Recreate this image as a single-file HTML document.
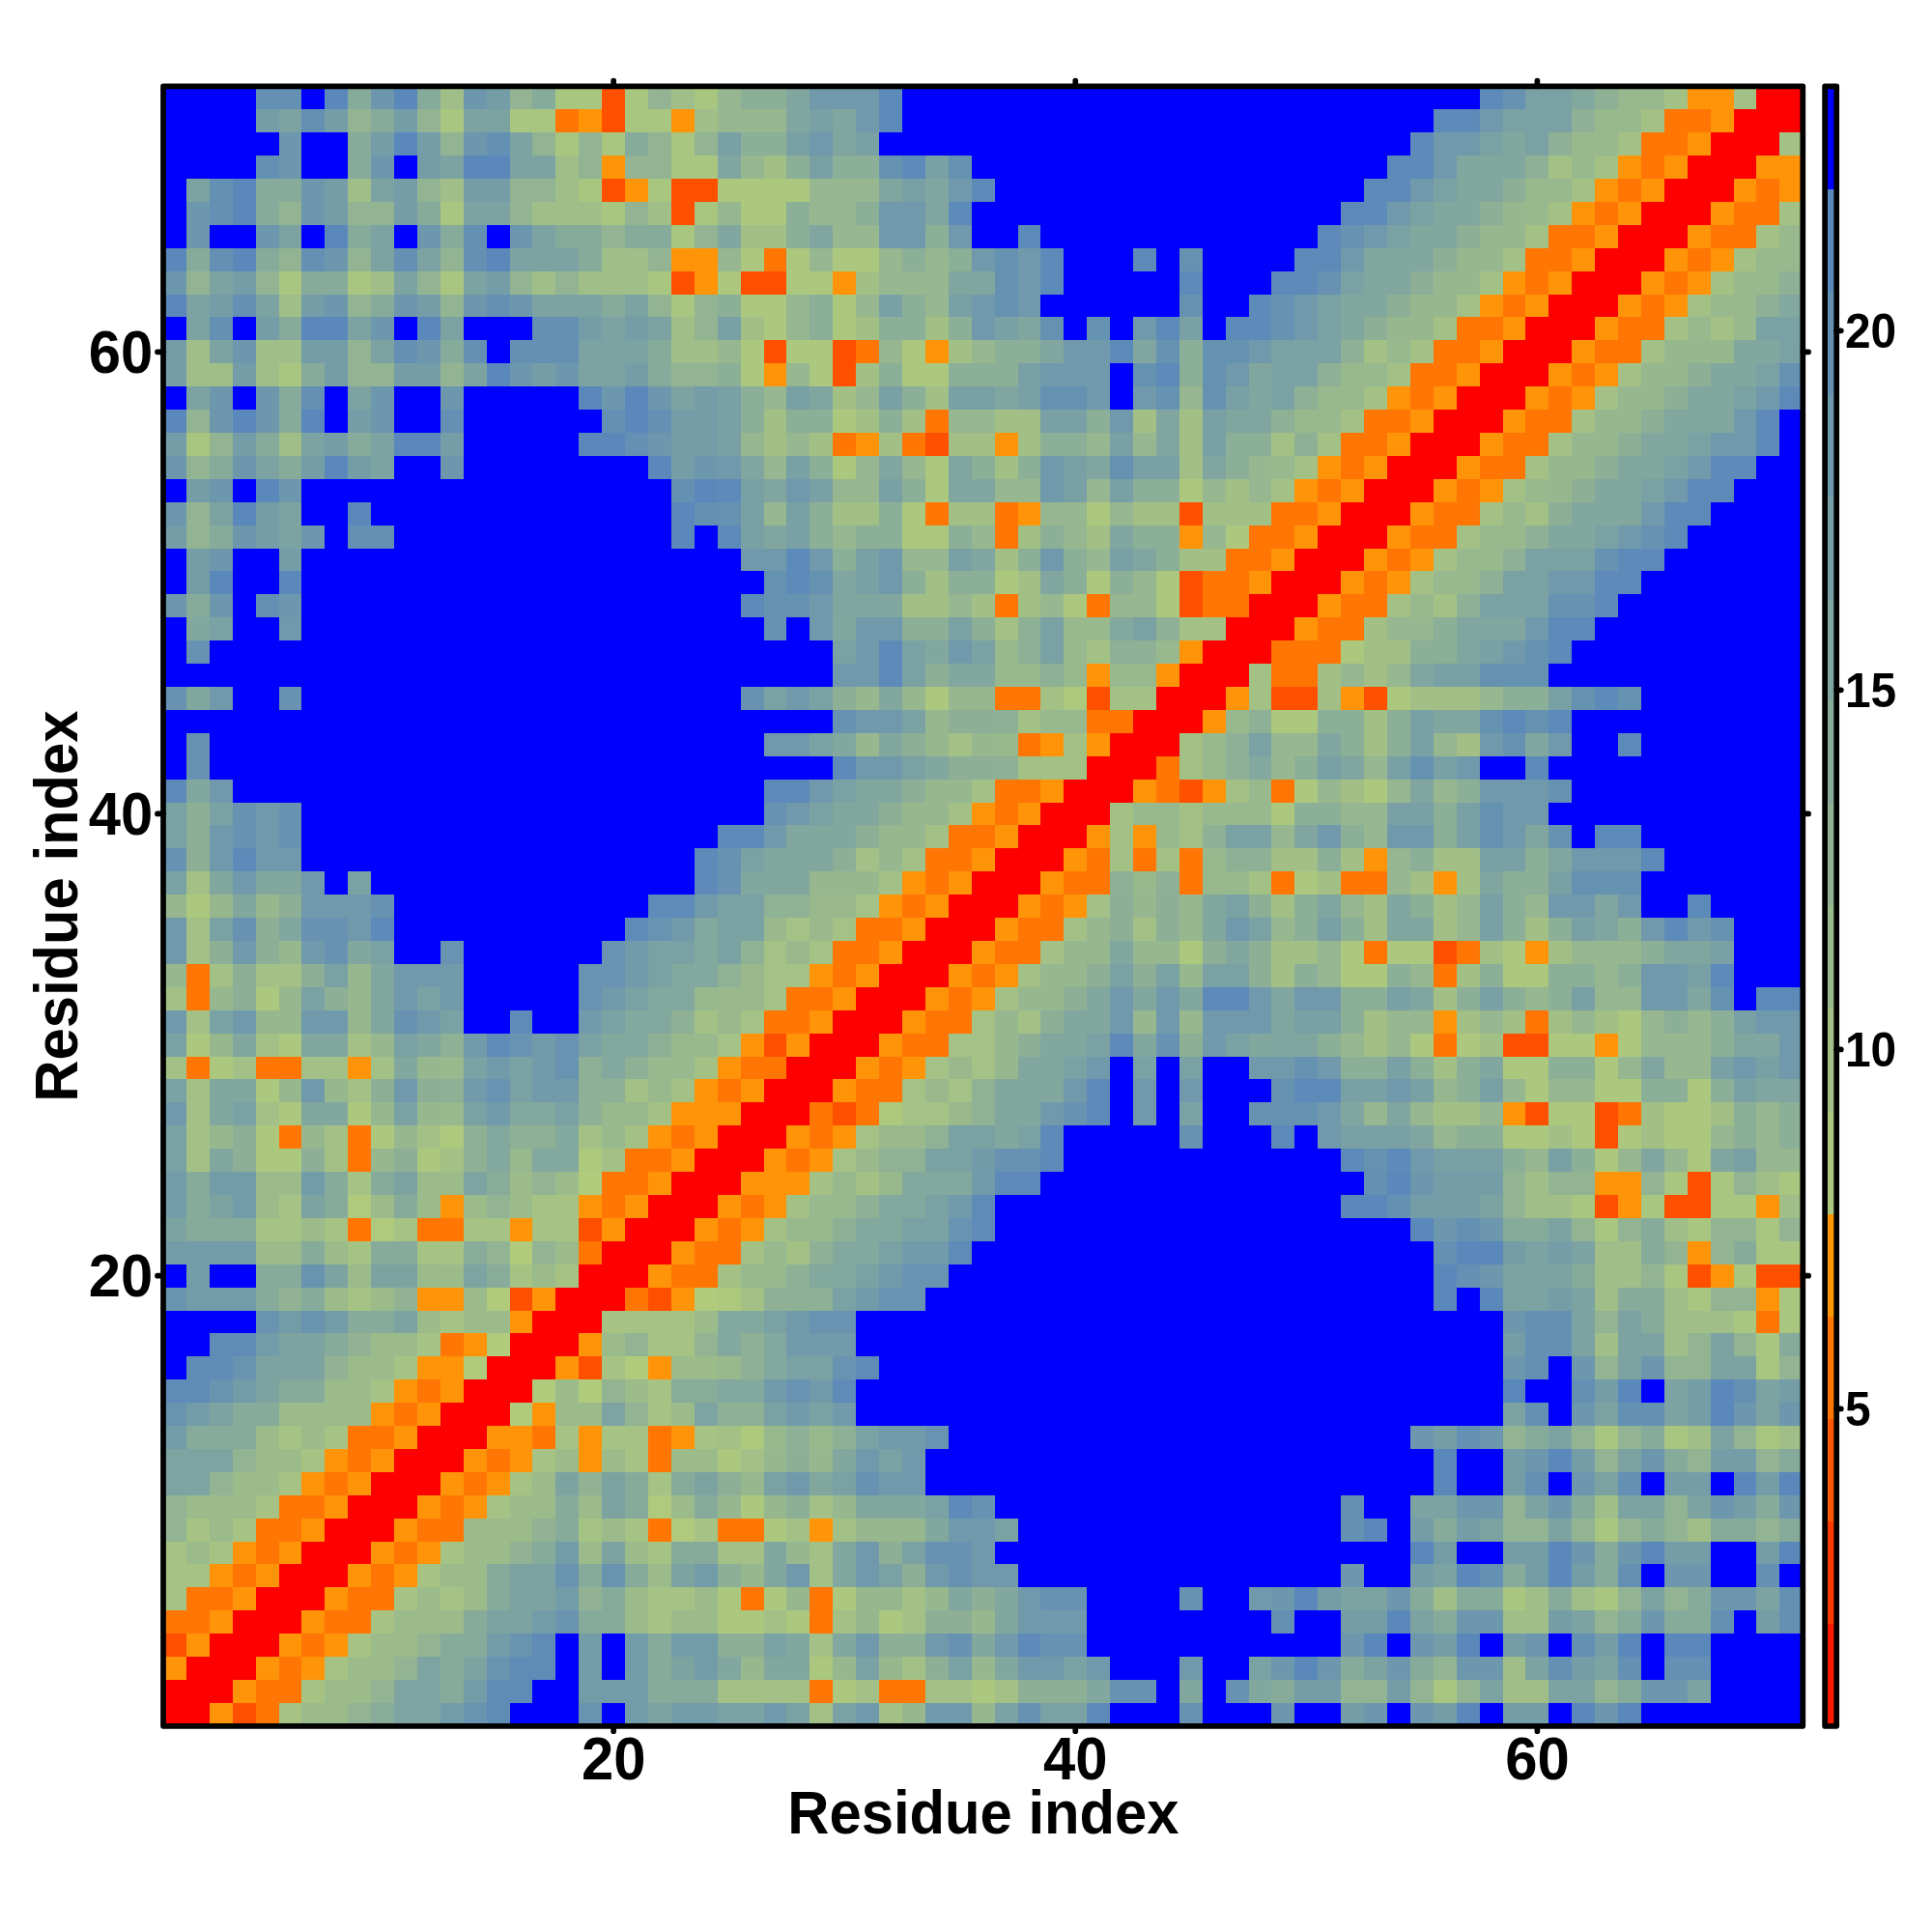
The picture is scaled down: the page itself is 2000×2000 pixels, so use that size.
<!DOCTYPE html>
<html lang="en"><head><meta charset="utf-8"><title>Residue distance map</title>
<style>
html,body{margin:0;padding:0;background:#fff}
body{width:2000px;height:2000px;overflow:hidden}
svg{display:block}
text{font-family:"Liberation Sans",sans-serif;font-weight:bold;fill:#000}
</style></head><body>
<svg width="2000" height="2000" viewBox="0 0 2000 2000">
<rect width="2000" height="2000" fill="#fff"/>
<g shape-rendering="crispEdges">
<rect x="169.00" y="89.35" width="95.92" height="24.21" fill="#0000ff"/>
<rect x="264.62" y="89.35" width="48.11" height="24.21" fill="#6490b4"/>
<rect x="312.43" y="89.35" width="24.21" height="24.21" fill="#0000ff"/>
<rect x="336.34" y="89.35" width="24.21" height="24.21" fill="#5a88bb"/>
<rect x="360.25" y="89.35" width="24.21" height="24.21" fill="#87ab9a"/>
<rect x="384.15" y="89.35" width="24.21" height="24.21" fill="#6d97ad"/>
<rect x="408.06" y="89.35" width="24.21" height="24.21" fill="#5a88bb"/>
<rect x="431.96" y="89.35" width="24.21" height="24.21" fill="#87ab9a"/>
<rect x="455.87" y="89.35" width="24.21" height="24.21" fill="#a0bf88"/>
<rect x="479.77" y="89.35" width="24.21" height="24.21" fill="#6d97ad"/>
<rect x="503.68" y="89.35" width="24.21" height="24.21" fill="#759da7"/>
<rect x="527.58" y="89.35" width="24.21" height="24.21" fill="#92b492"/>
<rect x="551.49" y="89.35" width="24.21" height="24.21" fill="#87ab9a"/>
<rect x="575.40" y="89.35" width="48.11" height="24.21" fill="#a9c681"/>
<rect x="623.21" y="89.35" width="24.21" height="24.21" fill="#ff5000"/>
<rect x="647.11" y="89.35" width="24.21" height="24.21" fill="#a9c681"/>
<rect x="671.02" y="89.35" width="24.21" height="24.21" fill="#92b492"/>
<rect x="694.92" y="89.35" width="24.21" height="24.21" fill="#a0bf88"/>
<rect x="718.83" y="89.35" width="24.21" height="24.21" fill="#a9c681"/>
<rect x="742.74" y="89.35" width="24.21" height="24.21" fill="#96b78f"/>
<rect x="766.64" y="89.35" width="48.11" height="24.21" fill="#8baf97"/>
<rect x="814.45" y="89.35" width="24.21" height="24.21" fill="#81a69f"/>
<rect x="838.36" y="89.35" width="72.02" height="24.21" fill="#7099ab"/>
<rect x="910.07" y="89.35" width="24.21" height="24.21" fill="#5c8ab9"/>
<rect x="933.98" y="89.35" width="597.94" height="24.21" fill="#0000ff"/>
<rect x="1531.62" y="89.35" width="24.21" height="24.21" fill="#5d8ab9"/>
<rect x="1555.53" y="89.35" width="24.21" height="24.21" fill="#6792b2"/>
<rect x="1579.43" y="89.35" width="48.11" height="24.21" fill="#7aa1a3"/>
<rect x="1627.24" y="89.35" width="24.21" height="24.21" fill="#83a89d"/>
<rect x="1651.15" y="89.35" width="24.21" height="24.21" fill="#8eb095"/>
<rect x="1675.05" y="89.35" width="48.11" height="24.21" fill="#98b88e"/>
<rect x="1722.87" y="89.35" width="24.21" height="24.21" fill="#a4c185"/>
<rect x="1746.77" y="89.35" width="48.11" height="24.21" fill="#ff9408"/>
<rect x="1794.58" y="89.35" width="24.21" height="24.21" fill="#a4c185"/>
<rect x="1818.49" y="89.35" width="48.11" height="24.21" fill="#ff0000"/>
<rect x="169.00" y="113.26" width="95.92" height="24.21" fill="#0000ff"/>
<rect x="264.62" y="113.26" width="24.21" height="24.21" fill="#759da7"/>
<rect x="288.53" y="113.26" width="24.21" height="24.21" fill="#7ca3a2"/>
<rect x="312.43" y="113.26" width="24.21" height="24.21" fill="#6490b4"/>
<rect x="336.34" y="113.26" width="24.21" height="24.21" fill="#759da7"/>
<rect x="360.25" y="113.26" width="24.21" height="24.21" fill="#92b492"/>
<rect x="384.15" y="113.26" width="24.21" height="24.21" fill="#87ab9a"/>
<rect x="408.06" y="113.26" width="24.21" height="24.21" fill="#759da7"/>
<rect x="431.96" y="113.26" width="24.21" height="24.21" fill="#92b492"/>
<rect x="455.87" y="113.26" width="24.21" height="24.21" fill="#a9c681"/>
<rect x="479.77" y="113.26" width="48.11" height="24.21" fill="#7ca3a2"/>
<rect x="527.58" y="113.26" width="48.11" height="24.21" fill="#a9c681"/>
<rect x="575.40" y="113.26" width="24.21" height="24.21" fill="#ff7604"/>
<rect x="599.30" y="113.26" width="24.21" height="24.21" fill="#ff9408"/>
<rect x="623.21" y="113.26" width="24.21" height="24.21" fill="#ff5000"/>
<rect x="647.11" y="113.26" width="48.11" height="24.21" fill="#a9c681"/>
<rect x="694.92" y="113.26" width="24.21" height="24.21" fill="#ff9408"/>
<rect x="718.83" y="113.26" width="24.21" height="24.21" fill="#a0bf88"/>
<rect x="742.74" y="113.26" width="72.02" height="24.21" fill="#96b78f"/>
<rect x="814.45" y="113.26" width="24.21" height="24.21" fill="#81a69f"/>
<rect x="838.36" y="113.26" width="24.21" height="24.21" fill="#79a0a5"/>
<rect x="862.26" y="113.26" width="24.21" height="24.21" fill="#81a69f"/>
<rect x="886.17" y="113.26" width="24.21" height="24.21" fill="#7099ab"/>
<rect x="910.07" y="113.26" width="24.21" height="24.21" fill="#5c8ab9"/>
<rect x="933.98" y="113.26" width="550.13" height="24.21" fill="#0000ff"/>
<rect x="1483.81" y="113.26" width="48.11" height="24.21" fill="#5d8ab9"/>
<rect x="1531.62" y="113.26" width="24.21" height="24.21" fill="#709aab"/>
<rect x="1555.53" y="113.26" width="24.21" height="24.21" fill="#7aa1a4"/>
<rect x="1579.43" y="113.26" width="48.11" height="24.21" fill="#7aa1a3"/>
<rect x="1627.24" y="113.26" width="24.21" height="24.21" fill="#8eb095"/>
<rect x="1651.15" y="113.26" width="48.11" height="24.21" fill="#98b88e"/>
<rect x="1698.96" y="113.26" width="24.21" height="24.21" fill="#a4c185"/>
<rect x="1722.87" y="113.26" width="48.11" height="24.21" fill="#ff7604"/>
<rect x="1770.68" y="113.26" width="24.21" height="24.21" fill="#ff9408"/>
<rect x="1794.58" y="113.26" width="72.02" height="24.21" fill="#ff0000"/>
<rect x="169.00" y="137.17" width="119.83" height="24.21" fill="#0000ff"/>
<rect x="288.53" y="137.17" width="24.21" height="24.21" fill="#6d97ad"/>
<rect x="312.43" y="137.17" width="48.11" height="24.21" fill="#0000ff"/>
<rect x="360.25" y="137.17" width="24.21" height="24.21" fill="#87ab9a"/>
<rect x="384.15" y="137.17" width="24.21" height="24.21" fill="#759da7"/>
<rect x="408.06" y="137.17" width="24.21" height="24.21" fill="#5a88bb"/>
<rect x="431.96" y="137.17" width="24.21" height="24.21" fill="#759da7"/>
<rect x="455.87" y="137.17" width="24.21" height="24.21" fill="#92b492"/>
<rect x="479.77" y="137.17" width="24.21" height="24.21" fill="#6d97ad"/>
<rect x="503.68" y="137.17" width="24.21" height="24.21" fill="#6490b4"/>
<rect x="527.58" y="137.17" width="24.21" height="24.21" fill="#7ca3a2"/>
<rect x="551.49" y="137.17" width="24.21" height="24.21" fill="#92b492"/>
<rect x="575.40" y="137.17" width="24.21" height="24.21" fill="#a9c681"/>
<rect x="599.30" y="137.17" width="24.21" height="24.21" fill="#92b492"/>
<rect x="623.21" y="137.17" width="24.21" height="24.21" fill="#a9c681"/>
<rect x="647.11" y="137.17" width="24.21" height="24.21" fill="#87ab9a"/>
<rect x="671.02" y="137.17" width="24.21" height="24.21" fill="#92b492"/>
<rect x="694.92" y="137.17" width="24.21" height="24.21" fill="#a9c681"/>
<rect x="718.83" y="137.17" width="24.21" height="24.21" fill="#92b492"/>
<rect x="742.74" y="137.17" width="24.21" height="24.21" fill="#79a0a5"/>
<rect x="766.64" y="137.17" width="48.11" height="24.21" fill="#8baf97"/>
<rect x="814.45" y="137.17" width="24.21" height="24.21" fill="#79a0a5"/>
<rect x="838.36" y="137.17" width="24.21" height="24.21" fill="#7099ab"/>
<rect x="862.26" y="137.17" width="24.21" height="24.21" fill="#81a69f"/>
<rect x="886.17" y="137.17" width="24.21" height="24.21" fill="#79a0a5"/>
<rect x="910.07" y="137.17" width="550.13" height="24.21" fill="#0000ff"/>
<rect x="1459.90" y="137.17" width="24.21" height="24.21" fill="#5d8ab9"/>
<rect x="1483.81" y="137.17" width="48.11" height="24.21" fill="#709aab"/>
<rect x="1531.62" y="137.17" width="24.21" height="24.21" fill="#7aa1a4"/>
<rect x="1555.53" y="137.17" width="24.21" height="24.21" fill="#82a79e"/>
<rect x="1579.43" y="137.17" width="24.21" height="24.21" fill="#7aa1a3"/>
<rect x="1603.34" y="137.17" width="24.21" height="24.21" fill="#8eb095"/>
<rect x="1627.24" y="137.17" width="48.11" height="24.21" fill="#98b88e"/>
<rect x="1675.05" y="137.17" width="24.21" height="24.21" fill="#a4c185"/>
<rect x="1698.96" y="137.17" width="48.11" height="24.21" fill="#ff7604"/>
<rect x="1746.77" y="137.17" width="24.21" height="24.21" fill="#ff9408"/>
<rect x="1770.68" y="137.17" width="72.02" height="24.21" fill="#ff0000"/>
<rect x="1842.39" y="137.17" width="24.21" height="24.21" fill="#a4c185"/>
<rect x="169.00" y="161.08" width="95.92" height="24.21" fill="#0000ff"/>
<rect x="264.62" y="161.08" width="24.21" height="24.21" fill="#6490b4"/>
<rect x="288.53" y="161.08" width="24.21" height="24.21" fill="#6d97ad"/>
<rect x="312.43" y="161.08" width="48.11" height="24.21" fill="#0000ff"/>
<rect x="360.25" y="161.08" width="24.21" height="24.21" fill="#87ab9a"/>
<rect x="384.15" y="161.08" width="24.21" height="24.21" fill="#6d97ad"/>
<rect x="408.06" y="161.08" width="24.21" height="24.21" fill="#0000ff"/>
<rect x="431.96" y="161.08" width="24.21" height="24.21" fill="#759da7"/>
<rect x="455.87" y="161.08" width="24.21" height="24.21" fill="#7ca3a2"/>
<rect x="479.77" y="161.08" width="48.11" height="24.21" fill="#5a88bb"/>
<rect x="527.58" y="161.08" width="48.11" height="24.21" fill="#7ca3a2"/>
<rect x="575.40" y="161.08" width="24.21" height="24.21" fill="#a0bf88"/>
<rect x="599.30" y="161.08" width="24.21" height="24.21" fill="#92b492"/>
<rect x="623.21" y="161.08" width="24.21" height="24.21" fill="#ff9408"/>
<rect x="647.11" y="161.08" width="48.11" height="24.21" fill="#92b492"/>
<rect x="694.92" y="161.08" width="48.11" height="24.21" fill="#a9c681"/>
<rect x="742.74" y="161.08" width="24.21" height="24.21" fill="#81a69f"/>
<rect x="766.64" y="161.08" width="24.21" height="24.21" fill="#96b78f"/>
<rect x="790.55" y="161.08" width="24.21" height="24.21" fill="#a2c086"/>
<rect x="814.45" y="161.08" width="24.21" height="24.21" fill="#8baf97"/>
<rect x="838.36" y="161.08" width="24.21" height="24.21" fill="#79a0a5"/>
<rect x="862.26" y="161.08" width="48.11" height="24.21" fill="#8baf97"/>
<rect x="910.07" y="161.08" width="24.21" height="24.21" fill="#6692b2"/>
<rect x="933.98" y="161.08" width="24.21" height="24.21" fill="#5c8ab9"/>
<rect x="957.89" y="161.08" width="24.21" height="24.21" fill="#79a0a5"/>
<rect x="981.79" y="161.08" width="24.21" height="24.21" fill="#6692b2"/>
<rect x="1005.70" y="161.08" width="430.60" height="24.21" fill="#0000ff"/>
<rect x="1436.00" y="161.08" width="48.11" height="24.21" fill="#5d8ab9"/>
<rect x="1483.81" y="161.08" width="24.21" height="24.21" fill="#709aab"/>
<rect x="1507.72" y="161.08" width="72.02" height="24.21" fill="#82a79e"/>
<rect x="1579.43" y="161.08" width="24.21" height="24.21" fill="#8eb095"/>
<rect x="1603.34" y="161.08" width="24.21" height="24.21" fill="#a4c185"/>
<rect x="1627.24" y="161.08" width="24.21" height="24.21" fill="#98b88e"/>
<rect x="1651.15" y="161.08" width="24.21" height="24.21" fill="#a4c185"/>
<rect x="1675.05" y="161.08" width="24.21" height="24.21" fill="#ff9408"/>
<rect x="1698.96" y="161.08" width="24.21" height="24.21" fill="#ff7604"/>
<rect x="1722.87" y="161.08" width="24.21" height="24.21" fill="#ff9408"/>
<rect x="1746.77" y="161.08" width="72.02" height="24.21" fill="#ff0000"/>
<rect x="1818.49" y="161.08" width="48.11" height="24.21" fill="#ff9408"/>
<rect x="169.00" y="184.98" width="24.21" height="24.21" fill="#0000ff"/>
<rect x="192.91" y="184.98" width="24.21" height="24.21" fill="#7ca3a2"/>
<rect x="216.81" y="184.98" width="24.21" height="24.21" fill="#6490b4"/>
<rect x="240.72" y="184.98" width="24.21" height="24.21" fill="#5a88bb"/>
<rect x="264.62" y="184.98" width="48.11" height="24.21" fill="#87ab9a"/>
<rect x="312.43" y="184.98" width="24.21" height="24.21" fill="#6d97ad"/>
<rect x="336.34" y="184.98" width="24.21" height="24.21" fill="#759da7"/>
<rect x="360.25" y="184.98" width="24.21" height="24.21" fill="#a0bf88"/>
<rect x="384.15" y="184.98" width="24.21" height="24.21" fill="#7ca3a2"/>
<rect x="408.06" y="184.98" width="24.21" height="24.21" fill="#759da7"/>
<rect x="431.96" y="184.98" width="24.21" height="24.21" fill="#92b492"/>
<rect x="455.87" y="184.98" width="24.21" height="24.21" fill="#a0bf88"/>
<rect x="479.77" y="184.98" width="48.11" height="24.21" fill="#759da7"/>
<rect x="527.58" y="184.98" width="48.11" height="24.21" fill="#92b492"/>
<rect x="575.40" y="184.98" width="24.21" height="24.21" fill="#a0bf88"/>
<rect x="599.30" y="184.98" width="24.21" height="24.21" fill="#a9c681"/>
<rect x="623.21" y="184.98" width="24.21" height="24.21" fill="#ff5000"/>
<rect x="647.11" y="184.98" width="24.21" height="24.21" fill="#ff9408"/>
<rect x="671.02" y="184.98" width="24.21" height="24.21" fill="#a9c681"/>
<rect x="694.92" y="184.98" width="48.11" height="24.21" fill="#ff5000"/>
<rect x="742.74" y="184.98" width="95.92" height="24.21" fill="#acc87f"/>
<rect x="838.36" y="184.98" width="72.02" height="24.21" fill="#96b78f"/>
<rect x="910.07" y="184.98" width="24.21" height="24.21" fill="#81a69f"/>
<rect x="933.98" y="184.98" width="24.21" height="24.21" fill="#79a0a5"/>
<rect x="957.89" y="184.98" width="24.21" height="24.21" fill="#81a69f"/>
<rect x="981.79" y="184.98" width="24.21" height="24.21" fill="#7099ab"/>
<rect x="1005.70" y="184.98" width="24.21" height="24.21" fill="#5c8ab9"/>
<rect x="1029.60" y="184.98" width="382.79" height="24.21" fill="#0000ff"/>
<rect x="1412.09" y="184.98" width="48.11" height="24.21" fill="#5d8ab9"/>
<rect x="1459.90" y="184.98" width="24.21" height="24.21" fill="#709aab"/>
<rect x="1483.81" y="184.98" width="24.21" height="24.21" fill="#7aa1a4"/>
<rect x="1507.72" y="184.98" width="48.11" height="24.21" fill="#82a79e"/>
<rect x="1555.53" y="184.98" width="24.21" height="24.21" fill="#8caf96"/>
<rect x="1579.43" y="184.98" width="48.11" height="24.21" fill="#98b88e"/>
<rect x="1627.24" y="184.98" width="24.21" height="24.21" fill="#a4c185"/>
<rect x="1651.15" y="184.98" width="24.21" height="24.21" fill="#ff9408"/>
<rect x="1675.05" y="184.98" width="24.21" height="24.21" fill="#ff7604"/>
<rect x="1698.96" y="184.98" width="24.21" height="24.21" fill="#ff9408"/>
<rect x="1722.87" y="184.98" width="72.02" height="24.21" fill="#ff0000"/>
<rect x="1794.58" y="184.98" width="24.21" height="24.21" fill="#ff9408"/>
<rect x="1818.49" y="184.98" width="24.21" height="24.21" fill="#ff7604"/>
<rect x="1842.39" y="184.98" width="24.21" height="24.21" fill="#ff9408"/>
<rect x="169.00" y="208.89" width="24.21" height="24.21" fill="#0000ff"/>
<rect x="192.91" y="208.89" width="24.21" height="24.21" fill="#6d97ad"/>
<rect x="216.81" y="208.89" width="24.21" height="24.21" fill="#6490b4"/>
<rect x="240.72" y="208.89" width="24.21" height="24.21" fill="#5a88bb"/>
<rect x="264.62" y="208.89" width="24.21" height="24.21" fill="#87ab9a"/>
<rect x="288.53" y="208.89" width="24.21" height="24.21" fill="#92b492"/>
<rect x="312.43" y="208.89" width="24.21" height="24.21" fill="#6d97ad"/>
<rect x="336.34" y="208.89" width="24.21" height="24.21" fill="#759da7"/>
<rect x="360.25" y="208.89" width="48.11" height="24.21" fill="#92b492"/>
<rect x="408.06" y="208.89" width="24.21" height="24.21" fill="#759da7"/>
<rect x="431.96" y="208.89" width="24.21" height="24.21" fill="#87ab9a"/>
<rect x="455.87" y="208.89" width="24.21" height="24.21" fill="#a9c681"/>
<rect x="479.77" y="208.89" width="48.11" height="24.21" fill="#7ca3a2"/>
<rect x="527.58" y="208.89" width="24.21" height="24.21" fill="#92b492"/>
<rect x="551.49" y="208.89" width="72.02" height="24.21" fill="#a0bf88"/>
<rect x="623.21" y="208.89" width="24.21" height="24.21" fill="#a9c681"/>
<rect x="647.11" y="208.89" width="24.21" height="24.21" fill="#92b492"/>
<rect x="671.02" y="208.89" width="24.21" height="24.21" fill="#a0bf88"/>
<rect x="694.92" y="208.89" width="24.21" height="24.21" fill="#ff5000"/>
<rect x="718.83" y="208.89" width="24.21" height="24.21" fill="#a9c681"/>
<rect x="742.74" y="208.89" width="24.21" height="24.21" fill="#96b78f"/>
<rect x="766.64" y="208.89" width="48.11" height="24.21" fill="#acc87f"/>
<rect x="814.45" y="208.89" width="24.21" height="24.21" fill="#8baf97"/>
<rect x="838.36" y="208.89" width="48.11" height="24.21" fill="#96b78f"/>
<rect x="886.17" y="208.89" width="24.21" height="24.21" fill="#8baf97"/>
<rect x="910.07" y="208.89" width="48.11" height="24.21" fill="#7099ab"/>
<rect x="957.89" y="208.89" width="24.21" height="24.21" fill="#81a69f"/>
<rect x="981.79" y="208.89" width="24.21" height="24.21" fill="#5c8ab9"/>
<rect x="1005.70" y="208.89" width="382.79" height="24.21" fill="#0000ff"/>
<rect x="1388.19" y="208.89" width="48.11" height="24.21" fill="#5d8ab9"/>
<rect x="1436.00" y="208.89" width="24.21" height="24.21" fill="#709aab"/>
<rect x="1459.90" y="208.89" width="24.21" height="24.21" fill="#7aa1a4"/>
<rect x="1483.81" y="208.89" width="48.11" height="24.21" fill="#82a79e"/>
<rect x="1531.62" y="208.89" width="24.21" height="24.21" fill="#8caf96"/>
<rect x="1555.53" y="208.89" width="24.21" height="24.21" fill="#97b88e"/>
<rect x="1579.43" y="208.89" width="24.21" height="24.21" fill="#98b88e"/>
<rect x="1603.34" y="208.89" width="24.21" height="24.21" fill="#a4c185"/>
<rect x="1627.24" y="208.89" width="24.21" height="24.21" fill="#ff9408"/>
<rect x="1651.15" y="208.89" width="24.21" height="24.21" fill="#ff7604"/>
<rect x="1675.05" y="208.89" width="24.21" height="24.21" fill="#ff9408"/>
<rect x="1698.96" y="208.89" width="72.02" height="24.21" fill="#ff0000"/>
<rect x="1770.68" y="208.89" width="24.21" height="24.21" fill="#ff9408"/>
<rect x="1794.58" y="208.89" width="48.11" height="24.21" fill="#ff7604"/>
<rect x="1842.39" y="208.89" width="24.21" height="24.21" fill="#a4c185"/>
<rect x="169.00" y="232.80" width="24.21" height="24.21" fill="#0000ff"/>
<rect x="192.91" y="232.80" width="24.21" height="24.21" fill="#6d97ad"/>
<rect x="216.81" y="232.80" width="48.11" height="24.21" fill="#0000ff"/>
<rect x="264.62" y="232.80" width="24.21" height="24.21" fill="#6d97ad"/>
<rect x="288.53" y="232.80" width="24.21" height="24.21" fill="#7ca3a2"/>
<rect x="312.43" y="232.80" width="24.21" height="24.21" fill="#0000ff"/>
<rect x="336.34" y="232.80" width="24.21" height="24.21" fill="#5a88bb"/>
<rect x="360.25" y="232.80" width="24.21" height="24.21" fill="#87ab9a"/>
<rect x="384.15" y="232.80" width="24.21" height="24.21" fill="#7ca3a2"/>
<rect x="408.06" y="232.80" width="24.21" height="24.21" fill="#0000ff"/>
<rect x="431.96" y="232.80" width="24.21" height="24.21" fill="#6d97ad"/>
<rect x="455.87" y="232.80" width="24.21" height="24.21" fill="#87ab9a"/>
<rect x="479.77" y="232.80" width="24.21" height="24.21" fill="#6490b4"/>
<rect x="503.68" y="232.80" width="24.21" height="24.21" fill="#0000ff"/>
<rect x="527.58" y="232.80" width="24.21" height="24.21" fill="#6d97ad"/>
<rect x="551.49" y="232.80" width="24.21" height="24.21" fill="#7ca3a2"/>
<rect x="575.40" y="232.80" width="48.11" height="24.21" fill="#87ab9a"/>
<rect x="623.21" y="232.80" width="24.21" height="24.21" fill="#92b492"/>
<rect x="647.11" y="232.80" width="48.11" height="24.21" fill="#87ab9a"/>
<rect x="694.92" y="232.80" width="24.21" height="24.21" fill="#a9c681"/>
<rect x="718.83" y="232.80" width="24.21" height="24.21" fill="#92b492"/>
<rect x="742.74" y="232.80" width="24.21" height="24.21" fill="#81a69f"/>
<rect x="766.64" y="232.80" width="48.11" height="24.21" fill="#a2c086"/>
<rect x="814.45" y="232.80" width="24.21" height="24.21" fill="#8baf97"/>
<rect x="838.36" y="232.80" width="24.21" height="24.21" fill="#81a69f"/>
<rect x="862.26" y="232.80" width="48.11" height="24.21" fill="#96b78f"/>
<rect x="910.07" y="232.80" width="48.11" height="24.21" fill="#7099ab"/>
<rect x="957.89" y="232.80" width="24.21" height="24.21" fill="#8baf97"/>
<rect x="981.79" y="232.80" width="24.21" height="24.21" fill="#7099ab"/>
<rect x="1005.70" y="232.80" width="48.11" height="24.21" fill="#0000ff"/>
<rect x="1053.51" y="232.80" width="24.21" height="24.21" fill="#5c8ab9"/>
<rect x="1077.41" y="232.80" width="287.17" height="24.21" fill="#0000ff"/>
<rect x="1364.28" y="232.80" width="24.21" height="24.21" fill="#5d8ab9"/>
<rect x="1388.19" y="232.80" width="24.21" height="24.21" fill="#6792b2"/>
<rect x="1412.09" y="232.80" width="24.21" height="24.21" fill="#709aab"/>
<rect x="1436.00" y="232.80" width="24.21" height="24.21" fill="#7aa1a4"/>
<rect x="1459.90" y="232.80" width="48.11" height="24.21" fill="#82a79e"/>
<rect x="1507.72" y="232.80" width="24.21" height="24.21" fill="#8caf96"/>
<rect x="1531.62" y="232.80" width="48.11" height="24.21" fill="#97b88e"/>
<rect x="1579.43" y="232.80" width="24.21" height="24.21" fill="#a4c185"/>
<rect x="1603.34" y="232.80" width="48.11" height="24.21" fill="#ff7604"/>
<rect x="1651.15" y="232.80" width="24.21" height="24.21" fill="#ff9408"/>
<rect x="1675.05" y="232.80" width="72.02" height="24.21" fill="#ff0000"/>
<rect x="1746.77" y="232.80" width="24.21" height="24.21" fill="#ff9408"/>
<rect x="1770.68" y="232.80" width="48.11" height="24.21" fill="#ff7604"/>
<rect x="1818.49" y="232.80" width="24.21" height="24.21" fill="#a4c185"/>
<rect x="1842.39" y="232.80" width="24.21" height="24.21" fill="#98b88e"/>
<rect x="169.00" y="256.71" width="24.21" height="24.21" fill="#5a88bb"/>
<rect x="192.91" y="256.71" width="24.21" height="24.21" fill="#87ab9a"/>
<rect x="216.81" y="256.71" width="24.21" height="24.21" fill="#6490b4"/>
<rect x="240.72" y="256.71" width="24.21" height="24.21" fill="#5a88bb"/>
<rect x="264.62" y="256.71" width="24.21" height="24.21" fill="#87ab9a"/>
<rect x="288.53" y="256.71" width="24.21" height="24.21" fill="#92b492"/>
<rect x="312.43" y="256.71" width="24.21" height="24.21" fill="#6490b4"/>
<rect x="336.34" y="256.71" width="24.21" height="24.21" fill="#6d97ad"/>
<rect x="360.25" y="256.71" width="24.21" height="24.21" fill="#92b492"/>
<rect x="384.15" y="256.71" width="24.21" height="24.21" fill="#7ca3a2"/>
<rect x="408.06" y="256.71" width="24.21" height="24.21" fill="#6490b4"/>
<rect x="431.96" y="256.71" width="24.21" height="24.21" fill="#7ca3a2"/>
<rect x="455.87" y="256.71" width="24.21" height="24.21" fill="#92b492"/>
<rect x="479.77" y="256.71" width="24.21" height="24.21" fill="#6490b4"/>
<rect x="503.68" y="256.71" width="24.21" height="24.21" fill="#5a88bb"/>
<rect x="527.58" y="256.71" width="72.02" height="24.21" fill="#7ca3a2"/>
<rect x="599.30" y="256.71" width="24.21" height="24.21" fill="#87ab9a"/>
<rect x="623.21" y="256.71" width="48.11" height="24.21" fill="#a0bf88"/>
<rect x="671.02" y="256.71" width="24.21" height="24.21" fill="#92b492"/>
<rect x="694.92" y="256.71" width="48.11" height="24.21" fill="#ff9408"/>
<rect x="742.74" y="256.71" width="24.21" height="24.21" fill="#96b78f"/>
<rect x="766.64" y="256.71" width="24.21" height="24.21" fill="#acc87f"/>
<rect x="790.55" y="256.71" width="24.21" height="24.21" fill="#ff7604"/>
<rect x="814.45" y="256.71" width="24.21" height="24.21" fill="#acc87f"/>
<rect x="838.36" y="256.71" width="24.21" height="24.21" fill="#96b78f"/>
<rect x="862.26" y="256.71" width="48.11" height="24.21" fill="#acc87f"/>
<rect x="910.07" y="256.71" width="24.21" height="24.21" fill="#96b78f"/>
<rect x="933.98" y="256.71" width="24.21" height="24.21" fill="#8baf97"/>
<rect x="957.89" y="256.71" width="24.21" height="24.21" fill="#96b78f"/>
<rect x="981.79" y="256.71" width="24.21" height="24.21" fill="#8baf97"/>
<rect x="1005.70" y="256.71" width="24.21" height="24.21" fill="#7099ab"/>
<rect x="1029.60" y="256.71" width="24.21" height="24.21" fill="#6692b2"/>
<rect x="1053.51" y="256.71" width="24.21" height="24.21" fill="#7099ab"/>
<rect x="1077.41" y="256.71" width="24.21" height="24.21" fill="#5c8ab9"/>
<rect x="1101.32" y="256.71" width="72.02" height="24.21" fill="#0000ff"/>
<rect x="1173.04" y="256.71" width="24.21" height="24.21" fill="#5c8ab9"/>
<rect x="1196.94" y="256.71" width="24.21" height="24.21" fill="#0000ff"/>
<rect x="1220.85" y="256.71" width="24.21" height="24.21" fill="#6692b2"/>
<rect x="1244.75" y="256.71" width="95.92" height="24.21" fill="#0000ff"/>
<rect x="1340.38" y="256.71" width="48.11" height="24.21" fill="#5d8ab9"/>
<rect x="1388.19" y="256.71" width="24.21" height="24.21" fill="#709aab"/>
<rect x="1412.09" y="256.71" width="72.02" height="24.21" fill="#82a79e"/>
<rect x="1483.81" y="256.71" width="24.21" height="24.21" fill="#8caf96"/>
<rect x="1507.72" y="256.71" width="48.11" height="24.21" fill="#97b88e"/>
<rect x="1555.53" y="256.71" width="24.21" height="24.21" fill="#a3c186"/>
<rect x="1579.43" y="256.71" width="48.11" height="24.21" fill="#ff7604"/>
<rect x="1627.24" y="256.71" width="24.21" height="24.21" fill="#ff9408"/>
<rect x="1651.15" y="256.71" width="72.02" height="24.21" fill="#ff0000"/>
<rect x="1722.87" y="256.71" width="24.21" height="24.21" fill="#ff9408"/>
<rect x="1746.77" y="256.71" width="24.21" height="24.21" fill="#ff7604"/>
<rect x="1770.68" y="256.71" width="24.21" height="24.21" fill="#ff9408"/>
<rect x="1794.58" y="256.71" width="24.21" height="24.21" fill="#a4c185"/>
<rect x="1818.49" y="256.71" width="48.11" height="24.21" fill="#98b88e"/>
<rect x="169.00" y="280.62" width="24.21" height="24.21" fill="#6d97ad"/>
<rect x="192.91" y="280.62" width="24.21" height="24.21" fill="#92b492"/>
<rect x="216.81" y="280.62" width="24.21" height="24.21" fill="#7ca3a2"/>
<rect x="240.72" y="280.62" width="24.21" height="24.21" fill="#759da7"/>
<rect x="264.62" y="280.62" width="24.21" height="24.21" fill="#92b492"/>
<rect x="288.53" y="280.62" width="24.21" height="24.21" fill="#a9c681"/>
<rect x="312.43" y="280.62" width="48.11" height="24.21" fill="#87ab9a"/>
<rect x="360.25" y="280.62" width="24.21" height="24.21" fill="#a9c681"/>
<rect x="384.15" y="280.62" width="24.21" height="24.21" fill="#a0bf88"/>
<rect x="408.06" y="280.62" width="24.21" height="24.21" fill="#7ca3a2"/>
<rect x="431.96" y="280.62" width="24.21" height="24.21" fill="#92b492"/>
<rect x="455.87" y="280.62" width="24.21" height="24.21" fill="#a9c681"/>
<rect x="479.77" y="280.62" width="24.21" height="24.21" fill="#7ca3a2"/>
<rect x="503.68" y="280.62" width="24.21" height="24.21" fill="#759da7"/>
<rect x="527.58" y="280.62" width="24.21" height="24.21" fill="#92b492"/>
<rect x="551.49" y="280.62" width="24.21" height="24.21" fill="#a0bf88"/>
<rect x="575.40" y="280.62" width="24.21" height="24.21" fill="#92b492"/>
<rect x="599.30" y="280.62" width="72.02" height="24.21" fill="#a0bf88"/>
<rect x="671.02" y="280.62" width="24.21" height="24.21" fill="#a9c681"/>
<rect x="694.92" y="280.62" width="24.21" height="24.21" fill="#ff5000"/>
<rect x="718.83" y="280.62" width="24.21" height="24.21" fill="#ff9408"/>
<rect x="742.74" y="280.62" width="24.21" height="24.21" fill="#acc87f"/>
<rect x="766.64" y="280.62" width="48.11" height="24.21" fill="#ff5000"/>
<rect x="814.45" y="280.62" width="48.11" height="24.21" fill="#acc87f"/>
<rect x="862.26" y="280.62" width="24.21" height="24.21" fill="#ff9408"/>
<rect x="886.17" y="280.62" width="24.21" height="24.21" fill="#a2c086"/>
<rect x="910.07" y="280.62" width="72.02" height="24.21" fill="#96b78f"/>
<rect x="981.79" y="280.62" width="48.11" height="24.21" fill="#81a69f"/>
<rect x="1029.60" y="280.62" width="24.21" height="24.21" fill="#6692b2"/>
<rect x="1053.51" y="280.62" width="24.21" height="24.21" fill="#7099ab"/>
<rect x="1077.41" y="280.62" width="24.21" height="24.21" fill="#5c8ab9"/>
<rect x="1101.32" y="280.62" width="119.83" height="24.21" fill="#0000ff"/>
<rect x="1220.85" y="280.62" width="24.21" height="24.21" fill="#5c8ab9"/>
<rect x="1244.75" y="280.62" width="72.02" height="24.21" fill="#0000ff"/>
<rect x="1316.47" y="280.62" width="48.11" height="24.21" fill="#5d8ab9"/>
<rect x="1364.28" y="280.62" width="24.21" height="24.21" fill="#6792b2"/>
<rect x="1388.19" y="280.62" width="24.21" height="24.21" fill="#7aa1a4"/>
<rect x="1412.09" y="280.62" width="48.11" height="24.21" fill="#82a79e"/>
<rect x="1459.90" y="280.62" width="24.21" height="24.21" fill="#8caf96"/>
<rect x="1483.81" y="280.62" width="48.11" height="24.21" fill="#97b88e"/>
<rect x="1531.62" y="280.62" width="24.21" height="24.21" fill="#a3c186"/>
<rect x="1555.53" y="280.62" width="24.21" height="24.21" fill="#ff9408"/>
<rect x="1579.43" y="280.62" width="24.21" height="24.21" fill="#ff7604"/>
<rect x="1603.34" y="280.62" width="24.21" height="24.21" fill="#ff9408"/>
<rect x="1627.24" y="280.62" width="72.02" height="24.21" fill="#ff0000"/>
<rect x="1698.96" y="280.62" width="24.21" height="24.21" fill="#ff9408"/>
<rect x="1722.87" y="280.62" width="24.21" height="24.21" fill="#ff7604"/>
<rect x="1746.77" y="280.62" width="24.21" height="24.21" fill="#ff9408"/>
<rect x="1770.68" y="280.62" width="24.21" height="24.21" fill="#a4c185"/>
<rect x="1794.58" y="280.62" width="48.11" height="24.21" fill="#98b88e"/>
<rect x="1842.39" y="280.62" width="24.21" height="24.21" fill="#8eb095"/>
<rect x="169.00" y="304.53" width="24.21" height="24.21" fill="#5a88bb"/>
<rect x="192.91" y="304.53" width="24.21" height="24.21" fill="#7ca3a2"/>
<rect x="216.81" y="304.53" width="24.21" height="24.21" fill="#759da7"/>
<rect x="240.72" y="304.53" width="24.21" height="24.21" fill="#6490b4"/>
<rect x="264.62" y="304.53" width="24.21" height="24.21" fill="#7ca3a2"/>
<rect x="288.53" y="304.53" width="24.21" height="24.21" fill="#a0bf88"/>
<rect x="312.43" y="304.53" width="24.21" height="24.21" fill="#759da7"/>
<rect x="336.34" y="304.53" width="24.21" height="24.21" fill="#6d97ad"/>
<rect x="360.25" y="304.53" width="24.21" height="24.21" fill="#92b492"/>
<rect x="384.15" y="304.53" width="24.21" height="24.21" fill="#87ab9a"/>
<rect x="408.06" y="304.53" width="24.21" height="24.21" fill="#6d97ad"/>
<rect x="431.96" y="304.53" width="24.21" height="24.21" fill="#759da7"/>
<rect x="455.87" y="304.53" width="24.21" height="24.21" fill="#92b492"/>
<rect x="479.77" y="304.53" width="24.21" height="24.21" fill="#6d97ad"/>
<rect x="503.68" y="304.53" width="24.21" height="24.21" fill="#6490b4"/>
<rect x="527.58" y="304.53" width="24.21" height="24.21" fill="#6d97ad"/>
<rect x="551.49" y="304.53" width="72.02" height="24.21" fill="#7ca3a2"/>
<rect x="623.21" y="304.53" width="24.21" height="24.21" fill="#87ab9a"/>
<rect x="647.11" y="304.53" width="24.21" height="24.21" fill="#7ca3a2"/>
<rect x="671.02" y="304.53" width="24.21" height="24.21" fill="#92b492"/>
<rect x="694.92" y="304.53" width="24.21" height="24.21" fill="#a9c681"/>
<rect x="718.83" y="304.53" width="24.21" height="24.21" fill="#92b492"/>
<rect x="742.74" y="304.53" width="24.21" height="24.21" fill="#8baf97"/>
<rect x="766.64" y="304.53" width="48.11" height="24.21" fill="#acc87f"/>
<rect x="814.45" y="304.53" width="24.21" height="24.21" fill="#96b78f"/>
<rect x="838.36" y="304.53" width="24.21" height="24.21" fill="#8baf97"/>
<rect x="862.26" y="304.53" width="24.21" height="24.21" fill="#acc87f"/>
<rect x="886.17" y="304.53" width="24.21" height="24.21" fill="#96b78f"/>
<rect x="910.07" y="304.53" width="24.21" height="24.21" fill="#79a0a5"/>
<rect x="933.98" y="304.53" width="24.21" height="24.21" fill="#8baf97"/>
<rect x="957.89" y="304.53" width="24.21" height="24.21" fill="#96b78f"/>
<rect x="981.79" y="304.53" width="24.21" height="24.21" fill="#79a0a5"/>
<rect x="1005.70" y="304.53" width="24.21" height="24.21" fill="#7099ab"/>
<rect x="1029.60" y="304.53" width="24.21" height="24.21" fill="#6692b2"/>
<rect x="1053.51" y="304.53" width="24.21" height="24.21" fill="#7099ab"/>
<rect x="1077.41" y="304.53" width="143.73" height="24.21" fill="#0000ff"/>
<rect x="1220.85" y="304.53" width="24.21" height="24.21" fill="#6692b2"/>
<rect x="1244.75" y="304.53" width="48.11" height="24.21" fill="#0000ff"/>
<rect x="1292.56" y="304.53" width="24.21" height="24.21" fill="#5c8ab9"/>
<rect x="1316.47" y="304.53" width="24.21" height="24.21" fill="#6792b2"/>
<rect x="1340.38" y="304.53" width="24.21" height="24.21" fill="#709aab"/>
<rect x="1364.28" y="304.53" width="24.21" height="24.21" fill="#7aa1a4"/>
<rect x="1388.19" y="304.53" width="48.11" height="24.21" fill="#82a79e"/>
<rect x="1436.00" y="304.53" width="24.21" height="24.21" fill="#8caf96"/>
<rect x="1459.90" y="304.53" width="48.11" height="24.21" fill="#97b88e"/>
<rect x="1507.72" y="304.53" width="24.21" height="24.21" fill="#a3c186"/>
<rect x="1531.62" y="304.53" width="24.21" height="24.21" fill="#ff9408"/>
<rect x="1555.53" y="304.53" width="24.21" height="24.21" fill="#ff7604"/>
<rect x="1579.43" y="304.53" width="24.21" height="24.21" fill="#ff9408"/>
<rect x="1603.34" y="304.53" width="72.02" height="24.21" fill="#ff0000"/>
<rect x="1675.05" y="304.53" width="24.21" height="24.21" fill="#ff9408"/>
<rect x="1698.96" y="304.53" width="24.21" height="24.21" fill="#ff7604"/>
<rect x="1722.87" y="304.53" width="24.21" height="24.21" fill="#ff9408"/>
<rect x="1746.77" y="304.53" width="24.21" height="24.21" fill="#a4c185"/>
<rect x="1770.68" y="304.53" width="48.11" height="24.21" fill="#98b88e"/>
<rect x="1818.49" y="304.53" width="24.21" height="24.21" fill="#8eb095"/>
<rect x="1842.39" y="304.53" width="24.21" height="24.21" fill="#83a89d"/>
<rect x="169.00" y="328.43" width="24.21" height="24.21" fill="#0000ff"/>
<rect x="192.91" y="328.43" width="24.21" height="24.21" fill="#7ca3a2"/>
<rect x="216.81" y="328.43" width="24.21" height="24.21" fill="#6490b4"/>
<rect x="240.72" y="328.43" width="24.21" height="24.21" fill="#0000ff"/>
<rect x="264.62" y="328.43" width="24.21" height="24.21" fill="#759da7"/>
<rect x="288.53" y="328.43" width="24.21" height="24.21" fill="#87ab9a"/>
<rect x="312.43" y="328.43" width="48.11" height="24.21" fill="#5a88bb"/>
<rect x="360.25" y="328.43" width="24.21" height="24.21" fill="#7ca3a2"/>
<rect x="384.15" y="328.43" width="24.21" height="24.21" fill="#6d97ad"/>
<rect x="408.06" y="328.43" width="24.21" height="24.21" fill="#0000ff"/>
<rect x="431.96" y="328.43" width="24.21" height="24.21" fill="#5a88bb"/>
<rect x="455.87" y="328.43" width="24.21" height="24.21" fill="#7ca3a2"/>
<rect x="479.77" y="328.43" width="72.02" height="24.21" fill="#0000ff"/>
<rect x="551.49" y="328.43" width="48.11" height="24.21" fill="#6490b4"/>
<rect x="599.30" y="328.43" width="24.21" height="24.21" fill="#759da7"/>
<rect x="623.21" y="328.43" width="24.21" height="24.21" fill="#7ca3a2"/>
<rect x="647.11" y="328.43" width="24.21" height="24.21" fill="#759da7"/>
<rect x="671.02" y="328.43" width="24.21" height="24.21" fill="#7ca3a2"/>
<rect x="694.92" y="328.43" width="24.21" height="24.21" fill="#a0bf88"/>
<rect x="718.83" y="328.43" width="24.21" height="24.21" fill="#92b492"/>
<rect x="742.74" y="328.43" width="24.21" height="24.21" fill="#79a0a5"/>
<rect x="766.64" y="328.43" width="24.21" height="24.21" fill="#a2c086"/>
<rect x="790.55" y="328.43" width="24.21" height="24.21" fill="#acc87f"/>
<rect x="814.45" y="328.43" width="24.21" height="24.21" fill="#96b78f"/>
<rect x="838.36" y="328.43" width="24.21" height="24.21" fill="#8baf97"/>
<rect x="862.26" y="328.43" width="24.21" height="24.21" fill="#acc87f"/>
<rect x="886.17" y="328.43" width="24.21" height="24.21" fill="#a2c086"/>
<rect x="910.07" y="328.43" width="48.11" height="24.21" fill="#8baf97"/>
<rect x="957.89" y="328.43" width="24.21" height="24.21" fill="#a2c086"/>
<rect x="981.79" y="328.43" width="24.21" height="24.21" fill="#8baf97"/>
<rect x="1005.70" y="328.43" width="24.21" height="24.21" fill="#7099ab"/>
<rect x="1029.60" y="328.43" width="24.21" height="24.21" fill="#79a0a5"/>
<rect x="1053.51" y="328.43" width="24.21" height="24.21" fill="#81a69f"/>
<rect x="1077.41" y="328.43" width="24.21" height="24.21" fill="#6692b2"/>
<rect x="1101.32" y="328.43" width="24.21" height="24.21" fill="#0000ff"/>
<rect x="1125.23" y="328.43" width="24.21" height="24.21" fill="#6692b2"/>
<rect x="1149.13" y="328.43" width="24.21" height="24.21" fill="#0000ff"/>
<rect x="1173.04" y="328.43" width="24.21" height="24.21" fill="#7099ab"/>
<rect x="1196.94" y="328.43" width="24.21" height="24.21" fill="#5c8ab9"/>
<rect x="1220.85" y="328.43" width="24.21" height="24.21" fill="#79a0a5"/>
<rect x="1244.75" y="328.43" width="24.21" height="24.21" fill="#0000ff"/>
<rect x="1268.66" y="328.43" width="48.11" height="24.21" fill="#5c8ab9"/>
<rect x="1316.47" y="328.43" width="24.21" height="24.21" fill="#6792b2"/>
<rect x="1340.38" y="328.43" width="24.21" height="24.21" fill="#709aab"/>
<rect x="1364.28" y="328.43" width="24.21" height="24.21" fill="#7aa1a4"/>
<rect x="1388.19" y="328.43" width="24.21" height="24.21" fill="#82a79e"/>
<rect x="1412.09" y="328.43" width="24.21" height="24.21" fill="#8caf96"/>
<rect x="1436.00" y="328.43" width="48.11" height="24.21" fill="#97b88e"/>
<rect x="1483.81" y="328.43" width="24.21" height="24.21" fill="#a3c186"/>
<rect x="1507.72" y="328.43" width="48.11" height="24.21" fill="#ff7604"/>
<rect x="1555.53" y="328.43" width="24.21" height="24.21" fill="#ff9408"/>
<rect x="1579.43" y="328.43" width="72.02" height="24.21" fill="#ff0000"/>
<rect x="1651.15" y="328.43" width="24.21" height="24.21" fill="#ff9408"/>
<rect x="1675.05" y="328.43" width="48.11" height="24.21" fill="#ff7604"/>
<rect x="1722.87" y="328.43" width="24.21" height="24.21" fill="#a4c185"/>
<rect x="1746.77" y="328.43" width="24.21" height="24.21" fill="#98b88e"/>
<rect x="1770.68" y="328.43" width="24.21" height="24.21" fill="#a4c185"/>
<rect x="1794.58" y="328.43" width="24.21" height="24.21" fill="#98b88e"/>
<rect x="1818.49" y="328.43" width="48.11" height="24.21" fill="#7aa1a3"/>
<rect x="169.00" y="352.34" width="24.21" height="24.21" fill="#759da7"/>
<rect x="192.91" y="352.34" width="24.21" height="24.21" fill="#a0bf88"/>
<rect x="216.81" y="352.34" width="24.21" height="24.21" fill="#7ca3a2"/>
<rect x="240.72" y="352.34" width="24.21" height="24.21" fill="#6d97ad"/>
<rect x="264.62" y="352.34" width="48.11" height="24.21" fill="#a0bf88"/>
<rect x="312.43" y="352.34" width="48.11" height="24.21" fill="#759da7"/>
<rect x="360.25" y="352.34" width="24.21" height="24.21" fill="#92b492"/>
<rect x="384.15" y="352.34" width="24.21" height="24.21" fill="#7ca3a2"/>
<rect x="408.06" y="352.34" width="24.21" height="24.21" fill="#6490b4"/>
<rect x="431.96" y="352.34" width="24.21" height="24.21" fill="#6d97ad"/>
<rect x="455.87" y="352.34" width="24.21" height="24.21" fill="#87ab9a"/>
<rect x="479.77" y="352.34" width="24.21" height="24.21" fill="#6490b4"/>
<rect x="503.68" y="352.34" width="24.21" height="24.21" fill="#0000ff"/>
<rect x="527.58" y="352.34" width="72.02" height="24.21" fill="#6490b4"/>
<rect x="599.30" y="352.34" width="72.02" height="24.21" fill="#7ca3a2"/>
<rect x="671.02" y="352.34" width="24.21" height="24.21" fill="#87ab9a"/>
<rect x="694.92" y="352.34" width="48.11" height="24.21" fill="#a0bf88"/>
<rect x="742.74" y="352.34" width="24.21" height="24.21" fill="#96b78f"/>
<rect x="766.64" y="352.34" width="24.21" height="24.21" fill="#acc87f"/>
<rect x="790.55" y="352.34" width="24.21" height="24.21" fill="#ff5000"/>
<rect x="814.45" y="352.34" width="48.11" height="24.21" fill="#acc87f"/>
<rect x="862.26" y="352.34" width="24.21" height="24.21" fill="#ff5000"/>
<rect x="886.17" y="352.34" width="24.21" height="24.21" fill="#ff7604"/>
<rect x="910.07" y="352.34" width="24.21" height="24.21" fill="#96b78f"/>
<rect x="933.98" y="352.34" width="24.21" height="24.21" fill="#acc87f"/>
<rect x="957.89" y="352.34" width="24.21" height="24.21" fill="#ff9408"/>
<rect x="981.79" y="352.34" width="24.21" height="24.21" fill="#a2c086"/>
<rect x="1005.70" y="352.34" width="24.21" height="24.21" fill="#96b78f"/>
<rect x="1029.60" y="352.34" width="48.11" height="24.21" fill="#8baf97"/>
<rect x="1077.41" y="352.34" width="24.21" height="24.21" fill="#81a69f"/>
<rect x="1101.32" y="352.34" width="48.11" height="24.21" fill="#7099ab"/>
<rect x="1149.13" y="352.34" width="24.21" height="24.21" fill="#5c8ab9"/>
<rect x="1173.04" y="352.34" width="24.21" height="24.21" fill="#81a69f"/>
<rect x="1196.94" y="352.34" width="24.21" height="24.21" fill="#6692b2"/>
<rect x="1220.85" y="352.34" width="24.21" height="24.21" fill="#8baf97"/>
<rect x="1244.75" y="352.34" width="48.11" height="24.21" fill="#6692b2"/>
<rect x="1292.56" y="352.34" width="24.21" height="24.21" fill="#7099ab"/>
<rect x="1316.47" y="352.34" width="72.02" height="24.21" fill="#7aa1a3"/>
<rect x="1388.19" y="352.34" width="24.21" height="24.21" fill="#8eb095"/>
<rect x="1412.09" y="352.34" width="24.21" height="24.21" fill="#a4c185"/>
<rect x="1436.00" y="352.34" width="24.21" height="24.21" fill="#98b88e"/>
<rect x="1459.90" y="352.34" width="24.21" height="24.21" fill="#a4c185"/>
<rect x="1483.81" y="352.34" width="48.11" height="24.21" fill="#ff7604"/>
<rect x="1531.62" y="352.34" width="24.21" height="24.21" fill="#ff9408"/>
<rect x="1555.53" y="352.34" width="72.02" height="24.21" fill="#ff0000"/>
<rect x="1627.24" y="352.34" width="24.21" height="24.21" fill="#ff9408"/>
<rect x="1651.15" y="352.34" width="48.11" height="24.21" fill="#ff7604"/>
<rect x="1698.96" y="352.34" width="24.21" height="24.21" fill="#a3c186"/>
<rect x="1722.87" y="352.34" width="72.02" height="24.21" fill="#97b88e"/>
<rect x="1794.58" y="352.34" width="48.11" height="24.21" fill="#82a79e"/>
<rect x="1842.39" y="352.34" width="24.21" height="24.21" fill="#7aa1a4"/>
<rect x="169.00" y="376.25" width="24.21" height="24.21" fill="#759da7"/>
<rect x="192.91" y="376.25" width="48.11" height="24.21" fill="#a0bf88"/>
<rect x="240.72" y="376.25" width="24.21" height="24.21" fill="#759da7"/>
<rect x="264.62" y="376.25" width="24.21" height="24.21" fill="#a0bf88"/>
<rect x="288.53" y="376.25" width="24.21" height="24.21" fill="#a9c681"/>
<rect x="312.43" y="376.25" width="24.21" height="24.21" fill="#87ab9a"/>
<rect x="336.34" y="376.25" width="24.21" height="24.21" fill="#759da7"/>
<rect x="360.25" y="376.25" width="48.11" height="24.21" fill="#92b492"/>
<rect x="408.06" y="376.25" width="48.11" height="24.21" fill="#759da7"/>
<rect x="455.87" y="376.25" width="24.21" height="24.21" fill="#92b492"/>
<rect x="479.77" y="376.25" width="24.21" height="24.21" fill="#7ca3a2"/>
<rect x="503.68" y="376.25" width="24.21" height="24.21" fill="#5a88bb"/>
<rect x="527.58" y="376.25" width="24.21" height="24.21" fill="#6d97ad"/>
<rect x="551.49" y="376.25" width="24.21" height="24.21" fill="#759da7"/>
<rect x="575.40" y="376.25" width="24.21" height="24.21" fill="#6d97ad"/>
<rect x="599.30" y="376.25" width="48.11" height="24.21" fill="#7ca3a2"/>
<rect x="647.11" y="376.25" width="24.21" height="24.21" fill="#759da7"/>
<rect x="671.02" y="376.25" width="24.21" height="24.21" fill="#87ab9a"/>
<rect x="694.92" y="376.25" width="48.11" height="24.21" fill="#92b492"/>
<rect x="742.74" y="376.25" width="24.21" height="24.21" fill="#8baf97"/>
<rect x="766.64" y="376.25" width="24.21" height="24.21" fill="#acc87f"/>
<rect x="790.55" y="376.25" width="24.21" height="24.21" fill="#ff9408"/>
<rect x="814.45" y="376.25" width="24.21" height="24.21" fill="#96b78f"/>
<rect x="838.36" y="376.25" width="24.21" height="24.21" fill="#acc87f"/>
<rect x="862.26" y="376.25" width="24.21" height="24.21" fill="#ff5000"/>
<rect x="886.17" y="376.25" width="24.21" height="24.21" fill="#a2c086"/>
<rect x="910.07" y="376.25" width="24.21" height="24.21" fill="#8baf97"/>
<rect x="933.98" y="376.25" width="48.11" height="24.21" fill="#acc87f"/>
<rect x="981.79" y="376.25" width="72.02" height="24.21" fill="#8baf97"/>
<rect x="1053.51" y="376.25" width="24.21" height="24.21" fill="#79a0a5"/>
<rect x="1077.41" y="376.25" width="72.02" height="24.21" fill="#7099ab"/>
<rect x="1149.13" y="376.25" width="24.21" height="24.21" fill="#0000ff"/>
<rect x="1173.04" y="376.25" width="24.21" height="24.21" fill="#6692b2"/>
<rect x="1196.94" y="376.25" width="24.21" height="24.21" fill="#5c8ab9"/>
<rect x="1220.85" y="376.25" width="24.21" height="24.21" fill="#8baf97"/>
<rect x="1244.75" y="376.25" width="24.21" height="24.21" fill="#6692b2"/>
<rect x="1268.66" y="376.25" width="24.21" height="24.21" fill="#7099ab"/>
<rect x="1292.56" y="376.25" width="24.21" height="24.21" fill="#81a69f"/>
<rect x="1316.47" y="376.25" width="48.11" height="24.21" fill="#7aa1a3"/>
<rect x="1364.28" y="376.25" width="24.21" height="24.21" fill="#8eb095"/>
<rect x="1388.19" y="376.25" width="48.11" height="24.21" fill="#98b88e"/>
<rect x="1436.00" y="376.25" width="24.21" height="24.21" fill="#a4c185"/>
<rect x="1459.90" y="376.25" width="48.11" height="24.21" fill="#ff7604"/>
<rect x="1507.72" y="376.25" width="24.21" height="24.21" fill="#ff9408"/>
<rect x="1531.62" y="376.25" width="72.02" height="24.21" fill="#ff0000"/>
<rect x="1603.34" y="376.25" width="24.21" height="24.21" fill="#ff9408"/>
<rect x="1627.24" y="376.25" width="24.21" height="24.21" fill="#ff7604"/>
<rect x="1651.15" y="376.25" width="24.21" height="24.21" fill="#ff9408"/>
<rect x="1675.05" y="376.25" width="24.21" height="24.21" fill="#a3c186"/>
<rect x="1698.96" y="376.25" width="48.11" height="24.21" fill="#97b88e"/>
<rect x="1746.77" y="376.25" width="24.21" height="24.21" fill="#8caf96"/>
<rect x="1770.68" y="376.25" width="48.11" height="24.21" fill="#82a79e"/>
<rect x="1818.49" y="376.25" width="24.21" height="24.21" fill="#7aa1a4"/>
<rect x="1842.39" y="376.25" width="24.21" height="24.21" fill="#6792b2"/>
<rect x="169.00" y="400.16" width="24.21" height="24.21" fill="#0000ff"/>
<rect x="192.91" y="400.16" width="24.21" height="24.21" fill="#7ca3a2"/>
<rect x="216.81" y="400.16" width="24.21" height="24.21" fill="#6d97ad"/>
<rect x="240.72" y="400.16" width="24.21" height="24.21" fill="#0000ff"/>
<rect x="264.62" y="400.16" width="24.21" height="24.21" fill="#6d97ad"/>
<rect x="288.53" y="400.16" width="24.21" height="24.21" fill="#87ab9a"/>
<rect x="312.43" y="400.16" width="24.21" height="24.21" fill="#6490b4"/>
<rect x="336.34" y="400.16" width="24.21" height="24.21" fill="#0000ff"/>
<rect x="360.25" y="400.16" width="24.21" height="24.21" fill="#7ca3a2"/>
<rect x="384.15" y="400.16" width="24.21" height="24.21" fill="#6d97ad"/>
<rect x="408.06" y="400.16" width="48.11" height="24.21" fill="#0000ff"/>
<rect x="455.87" y="400.16" width="24.21" height="24.21" fill="#6d97ad"/>
<rect x="479.77" y="400.16" width="119.83" height="24.21" fill="#0000ff"/>
<rect x="599.30" y="400.16" width="24.21" height="24.21" fill="#5a88bb"/>
<rect x="623.21" y="400.16" width="24.21" height="24.21" fill="#6d97ad"/>
<rect x="647.11" y="400.16" width="24.21" height="24.21" fill="#5a88bb"/>
<rect x="671.02" y="400.16" width="24.21" height="24.21" fill="#6d97ad"/>
<rect x="694.92" y="400.16" width="24.21" height="24.21" fill="#7ca3a2"/>
<rect x="718.83" y="400.16" width="24.21" height="24.21" fill="#759da7"/>
<rect x="742.74" y="400.16" width="24.21" height="24.21" fill="#79a0a5"/>
<rect x="766.64" y="400.16" width="24.21" height="24.21" fill="#8baf97"/>
<rect x="790.55" y="400.16" width="24.21" height="24.21" fill="#96b78f"/>
<rect x="814.45" y="400.16" width="24.21" height="24.21" fill="#79a0a5"/>
<rect x="838.36" y="400.16" width="24.21" height="24.21" fill="#81a69f"/>
<rect x="862.26" y="400.16" width="24.21" height="24.21" fill="#a2c086"/>
<rect x="886.17" y="400.16" width="24.21" height="24.21" fill="#96b78f"/>
<rect x="910.07" y="400.16" width="24.21" height="24.21" fill="#79a0a5"/>
<rect x="933.98" y="400.16" width="24.21" height="24.21" fill="#8baf97"/>
<rect x="957.89" y="400.16" width="24.21" height="24.21" fill="#a2c086"/>
<rect x="981.79" y="400.16" width="48.11" height="24.21" fill="#79a0a5"/>
<rect x="1029.60" y="400.16" width="24.21" height="24.21" fill="#81a69f"/>
<rect x="1053.51" y="400.16" width="24.21" height="24.21" fill="#79a0a5"/>
<rect x="1077.41" y="400.16" width="48.11" height="24.21" fill="#6692b2"/>
<rect x="1125.23" y="400.16" width="24.21" height="24.21" fill="#7099ab"/>
<rect x="1149.13" y="400.16" width="24.21" height="24.21" fill="#0000ff"/>
<rect x="1173.04" y="400.16" width="24.21" height="24.21" fill="#7099ab"/>
<rect x="1196.94" y="400.16" width="24.21" height="24.21" fill="#6692b2"/>
<rect x="1220.85" y="400.16" width="24.21" height="24.21" fill="#96b78f"/>
<rect x="1244.75" y="400.16" width="24.21" height="24.21" fill="#6692b2"/>
<rect x="1268.66" y="400.16" width="24.21" height="24.21" fill="#79a0a5"/>
<rect x="1292.56" y="400.16" width="24.21" height="24.21" fill="#81a69f"/>
<rect x="1316.47" y="400.16" width="24.21" height="24.21" fill="#7aa1a3"/>
<rect x="1340.38" y="400.16" width="24.21" height="24.21" fill="#8eb095"/>
<rect x="1364.28" y="400.16" width="48.11" height="24.21" fill="#98b88e"/>
<rect x="1412.09" y="400.16" width="24.21" height="24.21" fill="#a4c185"/>
<rect x="1436.00" y="400.16" width="24.21" height="24.21" fill="#ff9408"/>
<rect x="1459.90" y="400.16" width="24.21" height="24.21" fill="#ff7604"/>
<rect x="1483.81" y="400.16" width="24.21" height="24.21" fill="#ff9408"/>
<rect x="1507.72" y="400.16" width="72.02" height="24.21" fill="#ff0000"/>
<rect x="1579.43" y="400.16" width="24.21" height="24.21" fill="#ff9408"/>
<rect x="1603.34" y="400.16" width="24.21" height="24.21" fill="#ff7604"/>
<rect x="1627.24" y="400.16" width="24.21" height="24.21" fill="#ff9408"/>
<rect x="1651.15" y="400.16" width="24.21" height="24.21" fill="#a3c186"/>
<rect x="1675.05" y="400.16" width="48.11" height="24.21" fill="#97b88e"/>
<rect x="1722.87" y="400.16" width="24.21" height="24.21" fill="#8caf96"/>
<rect x="1746.77" y="400.16" width="48.11" height="24.21" fill="#82a79e"/>
<rect x="1794.58" y="400.16" width="24.21" height="24.21" fill="#7aa1a4"/>
<rect x="1818.49" y="400.16" width="24.21" height="24.21" fill="#709aab"/>
<rect x="1842.39" y="400.16" width="24.21" height="24.21" fill="#5d8ab9"/>
<rect x="169.00" y="424.07" width="24.21" height="24.21" fill="#5a88bb"/>
<rect x="192.91" y="424.07" width="24.21" height="24.21" fill="#92b492"/>
<rect x="216.81" y="424.07" width="24.21" height="24.21" fill="#6d97ad"/>
<rect x="240.72" y="424.07" width="24.21" height="24.21" fill="#5a88bb"/>
<rect x="264.62" y="424.07" width="24.21" height="24.21" fill="#6d97ad"/>
<rect x="288.53" y="424.07" width="24.21" height="24.21" fill="#87ab9a"/>
<rect x="312.43" y="424.07" width="24.21" height="24.21" fill="#5a88bb"/>
<rect x="336.34" y="424.07" width="24.21" height="24.21" fill="#0000ff"/>
<rect x="360.25" y="424.07" width="24.21" height="24.21" fill="#759da7"/>
<rect x="384.15" y="424.07" width="24.21" height="24.21" fill="#6d97ad"/>
<rect x="408.06" y="424.07" width="48.11" height="24.21" fill="#0000ff"/>
<rect x="455.87" y="424.07" width="24.21" height="24.21" fill="#6490b4"/>
<rect x="479.77" y="424.07" width="143.73" height="24.21" fill="#0000ff"/>
<rect x="623.21" y="424.07" width="24.21" height="24.21" fill="#6490b4"/>
<rect x="647.11" y="424.07" width="24.21" height="24.21" fill="#5a88bb"/>
<rect x="671.02" y="424.07" width="24.21" height="24.21" fill="#6490b4"/>
<rect x="694.92" y="424.07" width="48.11" height="24.21" fill="#759da7"/>
<rect x="742.74" y="424.07" width="24.21" height="24.21" fill="#79a0a5"/>
<rect x="766.64" y="424.07" width="24.21" height="24.21" fill="#8baf97"/>
<rect x="790.55" y="424.07" width="24.21" height="24.21" fill="#a2c086"/>
<rect x="814.45" y="424.07" width="48.11" height="24.21" fill="#8baf97"/>
<rect x="862.26" y="424.07" width="24.21" height="24.21" fill="#acc87f"/>
<rect x="886.17" y="424.07" width="24.21" height="24.21" fill="#a2c086"/>
<rect x="910.07" y="424.07" width="24.21" height="24.21" fill="#8baf97"/>
<rect x="933.98" y="424.07" width="24.21" height="24.21" fill="#a2c086"/>
<rect x="957.89" y="424.07" width="24.21" height="24.21" fill="#ff7604"/>
<rect x="981.79" y="424.07" width="48.11" height="24.21" fill="#96b78f"/>
<rect x="1029.60" y="424.07" width="48.11" height="24.21" fill="#a2c086"/>
<rect x="1077.41" y="424.07" width="48.11" height="24.21" fill="#79a0a5"/>
<rect x="1125.23" y="424.07" width="24.21" height="24.21" fill="#8baf97"/>
<rect x="1149.13" y="424.07" width="24.21" height="24.21" fill="#7099ab"/>
<rect x="1173.04" y="424.07" width="24.21" height="24.21" fill="#a2c086"/>
<rect x="1196.94" y="424.07" width="24.21" height="24.21" fill="#81a69f"/>
<rect x="1220.85" y="424.07" width="24.21" height="24.21" fill="#a2c086"/>
<rect x="1244.75" y="424.07" width="24.21" height="24.21" fill="#79a0a5"/>
<rect x="1268.66" y="424.07" width="48.11" height="24.21" fill="#81a69f"/>
<rect x="1316.47" y="424.07" width="24.21" height="24.21" fill="#8eb095"/>
<rect x="1340.38" y="424.07" width="48.11" height="24.21" fill="#98b88e"/>
<rect x="1388.19" y="424.07" width="24.21" height="24.21" fill="#a4c185"/>
<rect x="1412.09" y="424.07" width="48.11" height="24.21" fill="#ff7604"/>
<rect x="1459.90" y="424.07" width="24.21" height="24.21" fill="#ff9408"/>
<rect x="1483.81" y="424.07" width="72.02" height="24.21" fill="#ff0000"/>
<rect x="1555.53" y="424.07" width="24.21" height="24.21" fill="#ff9408"/>
<rect x="1579.43" y="424.07" width="48.11" height="24.21" fill="#ff7604"/>
<rect x="1627.24" y="424.07" width="24.21" height="24.21" fill="#a3c186"/>
<rect x="1651.15" y="424.07" width="48.11" height="24.21" fill="#97b88e"/>
<rect x="1698.96" y="424.07" width="24.21" height="24.21" fill="#8caf96"/>
<rect x="1722.87" y="424.07" width="72.02" height="24.21" fill="#82a79e"/>
<rect x="1794.58" y="424.07" width="24.21" height="24.21" fill="#709aab"/>
<rect x="1818.49" y="424.07" width="24.21" height="24.21" fill="#5d8ab9"/>
<rect x="1842.39" y="424.07" width="24.21" height="24.21" fill="#0000ff"/>
<rect x="169.00" y="447.98" width="24.21" height="24.21" fill="#759da7"/>
<rect x="192.91" y="447.98" width="24.21" height="24.21" fill="#a9c681"/>
<rect x="216.81" y="447.98" width="24.21" height="24.21" fill="#92b492"/>
<rect x="240.72" y="447.98" width="24.21" height="24.21" fill="#759da7"/>
<rect x="264.62" y="447.98" width="24.21" height="24.21" fill="#87ab9a"/>
<rect x="288.53" y="447.98" width="24.21" height="24.21" fill="#a0bf88"/>
<rect x="312.43" y="447.98" width="24.21" height="24.21" fill="#7ca3a2"/>
<rect x="336.34" y="447.98" width="24.21" height="24.21" fill="#759da7"/>
<rect x="360.25" y="447.98" width="24.21" height="24.21" fill="#87ab9a"/>
<rect x="384.15" y="447.98" width="24.21" height="24.21" fill="#7ca3a2"/>
<rect x="408.06" y="447.98" width="48.11" height="24.21" fill="#5a88bb"/>
<rect x="455.87" y="447.98" width="24.21" height="24.21" fill="#759da7"/>
<rect x="479.77" y="447.98" width="119.83" height="24.21" fill="#0000ff"/>
<rect x="599.30" y="447.98" width="48.11" height="24.21" fill="#5a88bb"/>
<rect x="647.11" y="447.98" width="24.21" height="24.21" fill="#6490b4"/>
<rect x="671.02" y="447.98" width="24.21" height="24.21" fill="#6d97ad"/>
<rect x="694.92" y="447.98" width="48.11" height="24.21" fill="#759da7"/>
<rect x="742.74" y="447.98" width="24.21" height="24.21" fill="#79a0a5"/>
<rect x="766.64" y="447.98" width="24.21" height="24.21" fill="#96b78f"/>
<rect x="790.55" y="447.98" width="24.21" height="24.21" fill="#a2c086"/>
<rect x="814.45" y="447.98" width="24.21" height="24.21" fill="#96b78f"/>
<rect x="838.36" y="447.98" width="24.21" height="24.21" fill="#a2c086"/>
<rect x="862.26" y="447.98" width="24.21" height="24.21" fill="#ff7604"/>
<rect x="886.17" y="447.98" width="24.21" height="24.21" fill="#ff9408"/>
<rect x="910.07" y="447.98" width="24.21" height="24.21" fill="#a2c086"/>
<rect x="933.98" y="447.98" width="24.21" height="24.21" fill="#ff7604"/>
<rect x="957.89" y="447.98" width="24.21" height="24.21" fill="#ff5000"/>
<rect x="981.79" y="447.98" width="48.11" height="24.21" fill="#a2c086"/>
<rect x="1029.60" y="447.98" width="24.21" height="24.21" fill="#ff9408"/>
<rect x="1053.51" y="447.98" width="24.21" height="24.21" fill="#a2c086"/>
<rect x="1077.41" y="447.98" width="48.11" height="24.21" fill="#8baf97"/>
<rect x="1125.23" y="447.98" width="24.21" height="24.21" fill="#96b78f"/>
<rect x="1149.13" y="447.98" width="24.21" height="24.21" fill="#79a0a5"/>
<rect x="1173.04" y="447.98" width="24.21" height="24.21" fill="#96b78f"/>
<rect x="1196.94" y="447.98" width="24.21" height="24.21" fill="#81a69f"/>
<rect x="1220.85" y="447.98" width="24.21" height="24.21" fill="#a2c086"/>
<rect x="1244.75" y="447.98" width="24.21" height="24.21" fill="#79a0a5"/>
<rect x="1268.66" y="447.98" width="48.11" height="24.21" fill="#8baf97"/>
<rect x="1316.47" y="447.98" width="24.21" height="24.21" fill="#a4c185"/>
<rect x="1340.38" y="447.98" width="24.21" height="24.21" fill="#8eb095"/>
<rect x="1364.28" y="447.98" width="24.21" height="24.21" fill="#a4c185"/>
<rect x="1388.19" y="447.98" width="48.11" height="24.21" fill="#ff7604"/>
<rect x="1436.00" y="447.98" width="24.21" height="24.21" fill="#ff9408"/>
<rect x="1459.90" y="447.98" width="72.02" height="24.21" fill="#ff0000"/>
<rect x="1531.62" y="447.98" width="24.21" height="24.21" fill="#ff9408"/>
<rect x="1555.53" y="447.98" width="48.11" height="24.21" fill="#ff7604"/>
<rect x="1603.34" y="447.98" width="24.21" height="24.21" fill="#a3c186"/>
<rect x="1627.24" y="447.98" width="48.11" height="24.21" fill="#97b88e"/>
<rect x="1675.05" y="447.98" width="24.21" height="24.21" fill="#8caf96"/>
<rect x="1698.96" y="447.98" width="48.11" height="24.21" fill="#82a79e"/>
<rect x="1746.77" y="447.98" width="24.21" height="24.21" fill="#7aa1a4"/>
<rect x="1770.68" y="447.98" width="48.11" height="24.21" fill="#709aab"/>
<rect x="1818.49" y="447.98" width="24.21" height="24.21" fill="#5d8ab9"/>
<rect x="1842.39" y="447.98" width="24.21" height="24.21" fill="#0000ff"/>
<rect x="169.00" y="471.89" width="24.21" height="24.21" fill="#6d97ad"/>
<rect x="192.91" y="471.89" width="24.21" height="24.21" fill="#92b492"/>
<rect x="216.81" y="471.89" width="24.21" height="24.21" fill="#87ab9a"/>
<rect x="240.72" y="471.89" width="24.21" height="24.21" fill="#6d97ad"/>
<rect x="264.62" y="471.89" width="24.21" height="24.21" fill="#7ca3a2"/>
<rect x="288.53" y="471.89" width="24.21" height="24.21" fill="#87ab9a"/>
<rect x="312.43" y="471.89" width="24.21" height="24.21" fill="#759da7"/>
<rect x="336.34" y="471.89" width="24.21" height="24.21" fill="#5a88bb"/>
<rect x="360.25" y="471.89" width="24.21" height="24.21" fill="#759da7"/>
<rect x="384.15" y="471.89" width="24.21" height="24.21" fill="#7ca3a2"/>
<rect x="408.06" y="471.89" width="48.11" height="24.21" fill="#0000ff"/>
<rect x="455.87" y="471.89" width="24.21" height="24.21" fill="#6d97ad"/>
<rect x="479.77" y="471.89" width="191.55" height="24.21" fill="#0000ff"/>
<rect x="671.02" y="471.89" width="24.21" height="24.21" fill="#5a88bb"/>
<rect x="694.92" y="471.89" width="24.21" height="24.21" fill="#759da7"/>
<rect x="718.83" y="471.89" width="24.21" height="24.21" fill="#6d97ad"/>
<rect x="742.74" y="471.89" width="24.21" height="24.21" fill="#7099ab"/>
<rect x="766.64" y="471.89" width="24.21" height="24.21" fill="#81a69f"/>
<rect x="790.55" y="471.89" width="24.21" height="24.21" fill="#96b78f"/>
<rect x="814.45" y="471.89" width="24.21" height="24.21" fill="#79a0a5"/>
<rect x="838.36" y="471.89" width="24.21" height="24.21" fill="#8baf97"/>
<rect x="862.26" y="471.89" width="24.21" height="24.21" fill="#acc87f"/>
<rect x="886.17" y="471.89" width="24.21" height="24.21" fill="#96b78f"/>
<rect x="910.07" y="471.89" width="24.21" height="24.21" fill="#81a69f"/>
<rect x="933.98" y="471.89" width="24.21" height="24.21" fill="#96b78f"/>
<rect x="957.89" y="471.89" width="24.21" height="24.21" fill="#acc87f"/>
<rect x="981.79" y="471.89" width="24.21" height="24.21" fill="#81a69f"/>
<rect x="1005.70" y="471.89" width="24.21" height="24.21" fill="#8baf97"/>
<rect x="1029.60" y="471.89" width="24.21" height="24.21" fill="#a2c086"/>
<rect x="1053.51" y="471.89" width="24.21" height="24.21" fill="#8baf97"/>
<rect x="1077.41" y="471.89" width="24.21" height="24.21" fill="#7099ab"/>
<rect x="1101.32" y="471.89" width="24.21" height="24.21" fill="#79a0a5"/>
<rect x="1125.23" y="471.89" width="24.21" height="24.21" fill="#81a69f"/>
<rect x="1149.13" y="471.89" width="24.21" height="24.21" fill="#6692b2"/>
<rect x="1173.04" y="471.89" width="48.11" height="24.21" fill="#79a0a5"/>
<rect x="1220.85" y="471.89" width="24.21" height="24.21" fill="#a2c086"/>
<rect x="1244.75" y="471.89" width="24.21" height="24.21" fill="#81a69f"/>
<rect x="1268.66" y="471.89" width="24.21" height="24.21" fill="#8baf97"/>
<rect x="1292.56" y="471.89" width="24.21" height="24.21" fill="#96b78f"/>
<rect x="1316.47" y="471.89" width="24.21" height="24.21" fill="#98b88e"/>
<rect x="1340.38" y="471.89" width="24.21" height="24.21" fill="#a4c185"/>
<rect x="1364.28" y="471.89" width="24.21" height="24.21" fill="#ff9408"/>
<rect x="1388.19" y="471.89" width="24.21" height="24.21" fill="#ff7604"/>
<rect x="1412.09" y="471.89" width="24.21" height="24.21" fill="#ff9408"/>
<rect x="1436.00" y="471.89" width="72.02" height="24.21" fill="#ff0000"/>
<rect x="1507.72" y="471.89" width="24.21" height="24.21" fill="#ff9408"/>
<rect x="1531.62" y="471.89" width="48.11" height="24.21" fill="#ff7604"/>
<rect x="1579.43" y="471.89" width="24.21" height="24.21" fill="#a4c185"/>
<rect x="1603.34" y="471.89" width="48.11" height="24.21" fill="#97b88e"/>
<rect x="1651.15" y="471.89" width="24.21" height="24.21" fill="#8caf96"/>
<rect x="1675.05" y="471.89" width="48.11" height="24.21" fill="#82a79e"/>
<rect x="1722.87" y="471.89" width="24.21" height="24.21" fill="#7aa1a4"/>
<rect x="1746.77" y="471.89" width="24.21" height="24.21" fill="#709aab"/>
<rect x="1770.68" y="471.89" width="48.11" height="24.21" fill="#5d8ab9"/>
<rect x="1818.49" y="471.89" width="48.11" height="24.21" fill="#0000ff"/>
<rect x="169.00" y="495.79" width="24.21" height="24.21" fill="#0000ff"/>
<rect x="192.91" y="495.79" width="24.21" height="24.21" fill="#759da7"/>
<rect x="216.81" y="495.79" width="24.21" height="24.21" fill="#6d97ad"/>
<rect x="240.72" y="495.79" width="24.21" height="24.21" fill="#0000ff"/>
<rect x="264.62" y="495.79" width="24.21" height="24.21" fill="#5a88bb"/>
<rect x="288.53" y="495.79" width="24.21" height="24.21" fill="#6d97ad"/>
<rect x="312.43" y="495.79" width="382.79" height="24.21" fill="#0000ff"/>
<rect x="694.92" y="495.79" width="24.21" height="24.21" fill="#6490b4"/>
<rect x="718.83" y="495.79" width="24.21" height="24.21" fill="#5a88bb"/>
<rect x="742.74" y="495.79" width="24.21" height="24.21" fill="#5c8ab9"/>
<rect x="766.64" y="495.79" width="24.21" height="24.21" fill="#79a0a5"/>
<rect x="790.55" y="495.79" width="24.21" height="24.21" fill="#81a69f"/>
<rect x="814.45" y="495.79" width="24.21" height="24.21" fill="#7099ab"/>
<rect x="838.36" y="495.79" width="24.21" height="24.21" fill="#79a0a5"/>
<rect x="862.26" y="495.79" width="48.11" height="24.21" fill="#96b78f"/>
<rect x="910.07" y="495.79" width="24.21" height="24.21" fill="#79a0a5"/>
<rect x="933.98" y="495.79" width="24.21" height="24.21" fill="#8baf97"/>
<rect x="957.89" y="495.79" width="24.21" height="24.21" fill="#acc87f"/>
<rect x="981.79" y="495.79" width="48.11" height="24.21" fill="#81a69f"/>
<rect x="1029.60" y="495.79" width="48.11" height="24.21" fill="#96b78f"/>
<rect x="1077.41" y="495.79" width="24.21" height="24.21" fill="#7099ab"/>
<rect x="1101.32" y="495.79" width="24.21" height="24.21" fill="#79a0a5"/>
<rect x="1125.23" y="495.79" width="24.21" height="24.21" fill="#96b78f"/>
<rect x="1149.13" y="495.79" width="24.21" height="24.21" fill="#79a0a5"/>
<rect x="1173.04" y="495.79" width="48.11" height="24.21" fill="#8baf97"/>
<rect x="1220.85" y="495.79" width="24.21" height="24.21" fill="#acc87f"/>
<rect x="1244.75" y="495.79" width="24.21" height="24.21" fill="#96b78f"/>
<rect x="1268.66" y="495.79" width="24.21" height="24.21" fill="#a2c086"/>
<rect x="1292.56" y="495.79" width="24.21" height="24.21" fill="#96b78f"/>
<rect x="1316.47" y="495.79" width="24.21" height="24.21" fill="#a4c185"/>
<rect x="1340.38" y="495.79" width="24.21" height="24.21" fill="#ff9408"/>
<rect x="1364.28" y="495.79" width="24.21" height="24.21" fill="#ff7604"/>
<rect x="1388.19" y="495.79" width="24.21" height="24.21" fill="#ff9408"/>
<rect x="1412.09" y="495.79" width="72.02" height="24.21" fill="#ff0000"/>
<rect x="1483.81" y="495.79" width="24.21" height="24.21" fill="#ff9408"/>
<rect x="1507.72" y="495.79" width="24.21" height="24.21" fill="#ff7604"/>
<rect x="1531.62" y="495.79" width="24.21" height="24.21" fill="#ff9408"/>
<rect x="1555.53" y="495.79" width="24.21" height="24.21" fill="#a4c185"/>
<rect x="1579.43" y="495.79" width="24.21" height="24.21" fill="#98b88e"/>
<rect x="1603.34" y="495.79" width="24.21" height="24.21" fill="#97b88e"/>
<rect x="1627.24" y="495.79" width="24.21" height="24.21" fill="#8caf96"/>
<rect x="1651.15" y="495.79" width="48.11" height="24.21" fill="#82a79e"/>
<rect x="1698.96" y="495.79" width="24.21" height="24.21" fill="#7aa1a4"/>
<rect x="1722.87" y="495.79" width="24.21" height="24.21" fill="#709aab"/>
<rect x="1746.77" y="495.79" width="48.11" height="24.21" fill="#5d8ab9"/>
<rect x="1794.58" y="495.79" width="72.02" height="24.21" fill="#0000ff"/>
<rect x="169.00" y="519.70" width="24.21" height="24.21" fill="#6d97ad"/>
<rect x="192.91" y="519.70" width="24.21" height="24.21" fill="#92b492"/>
<rect x="216.81" y="519.70" width="24.21" height="24.21" fill="#7ca3a2"/>
<rect x="240.72" y="519.70" width="24.21" height="24.21" fill="#5a88bb"/>
<rect x="264.62" y="519.70" width="24.21" height="24.21" fill="#759da7"/>
<rect x="288.53" y="519.70" width="24.21" height="24.21" fill="#7ca3a2"/>
<rect x="312.43" y="519.70" width="48.11" height="24.21" fill="#0000ff"/>
<rect x="360.25" y="519.70" width="24.21" height="24.21" fill="#5a88bb"/>
<rect x="384.15" y="519.70" width="311.07" height="24.21" fill="#0000ff"/>
<rect x="694.92" y="519.70" width="24.21" height="24.21" fill="#5a88bb"/>
<rect x="718.83" y="519.70" width="24.21" height="24.21" fill="#6490b4"/>
<rect x="742.74" y="519.70" width="24.21" height="24.21" fill="#6692b2"/>
<rect x="766.64" y="519.70" width="24.21" height="24.21" fill="#79a0a5"/>
<rect x="790.55" y="519.70" width="24.21" height="24.21" fill="#96b78f"/>
<rect x="814.45" y="519.70" width="24.21" height="24.21" fill="#79a0a5"/>
<rect x="838.36" y="519.70" width="24.21" height="24.21" fill="#8baf97"/>
<rect x="862.26" y="519.70" width="48.11" height="24.21" fill="#a2c086"/>
<rect x="910.07" y="519.70" width="24.21" height="24.21" fill="#8baf97"/>
<rect x="933.98" y="519.70" width="24.21" height="24.21" fill="#acc87f"/>
<rect x="957.89" y="519.70" width="24.21" height="24.21" fill="#ff7604"/>
<rect x="981.79" y="519.70" width="48.11" height="24.21" fill="#a2c086"/>
<rect x="1029.60" y="519.70" width="24.21" height="24.21" fill="#ff7604"/>
<rect x="1053.51" y="519.70" width="24.21" height="24.21" fill="#ff9408"/>
<rect x="1077.41" y="519.70" width="48.11" height="24.21" fill="#96b78f"/>
<rect x="1125.23" y="519.70" width="24.21" height="24.21" fill="#acc87f"/>
<rect x="1149.13" y="519.70" width="24.21" height="24.21" fill="#96b78f"/>
<rect x="1173.04" y="519.70" width="48.11" height="24.21" fill="#a2c086"/>
<rect x="1220.85" y="519.70" width="24.21" height="24.21" fill="#ff5000"/>
<rect x="1244.75" y="519.70" width="72.02" height="24.21" fill="#a2c086"/>
<rect x="1316.47" y="519.70" width="48.11" height="24.21" fill="#ff7604"/>
<rect x="1364.28" y="519.70" width="24.21" height="24.21" fill="#ff9408"/>
<rect x="1388.19" y="519.70" width="72.02" height="24.21" fill="#ff0000"/>
<rect x="1459.90" y="519.70" width="24.21" height="24.21" fill="#ff9408"/>
<rect x="1483.81" y="519.70" width="48.11" height="24.21" fill="#ff7604"/>
<rect x="1531.62" y="519.70" width="24.21" height="24.21" fill="#a4c185"/>
<rect x="1555.53" y="519.70" width="24.21" height="24.21" fill="#98b88e"/>
<rect x="1579.43" y="519.70" width="24.21" height="24.21" fill="#a4c185"/>
<rect x="1603.34" y="519.70" width="24.21" height="24.21" fill="#8caf96"/>
<rect x="1627.24" y="519.70" width="72.02" height="24.21" fill="#82a79e"/>
<rect x="1698.96" y="519.70" width="24.21" height="24.21" fill="#709aab"/>
<rect x="1722.87" y="519.70" width="48.11" height="24.21" fill="#5d8ab9"/>
<rect x="1770.68" y="519.70" width="95.92" height="24.21" fill="#0000ff"/>
<rect x="169.00" y="543.61" width="24.21" height="24.21" fill="#759da7"/>
<rect x="192.91" y="543.61" width="24.21" height="24.21" fill="#92b492"/>
<rect x="216.81" y="543.61" width="24.21" height="24.21" fill="#87ab9a"/>
<rect x="240.72" y="543.61" width="24.21" height="24.21" fill="#6d97ad"/>
<rect x="264.62" y="543.61" width="24.21" height="24.21" fill="#759da7"/>
<rect x="288.53" y="543.61" width="24.21" height="24.21" fill="#7ca3a2"/>
<rect x="312.43" y="543.61" width="24.21" height="24.21" fill="#6d97ad"/>
<rect x="336.34" y="543.61" width="24.21" height="24.21" fill="#0000ff"/>
<rect x="360.25" y="543.61" width="48.11" height="24.21" fill="#6490b4"/>
<rect x="408.06" y="543.61" width="287.17" height="24.21" fill="#0000ff"/>
<rect x="694.92" y="543.61" width="24.21" height="24.21" fill="#5a88bb"/>
<rect x="718.83" y="543.61" width="24.21" height="24.21" fill="#0000ff"/>
<rect x="742.74" y="543.61" width="24.21" height="24.21" fill="#5c8ab9"/>
<rect x="766.64" y="543.61" width="24.21" height="24.21" fill="#79a0a5"/>
<rect x="790.55" y="543.61" width="24.21" height="24.21" fill="#81a69f"/>
<rect x="814.45" y="543.61" width="24.21" height="24.21" fill="#79a0a5"/>
<rect x="838.36" y="543.61" width="24.21" height="24.21" fill="#8baf97"/>
<rect x="862.26" y="543.61" width="24.21" height="24.21" fill="#96b78f"/>
<rect x="886.17" y="543.61" width="48.11" height="24.21" fill="#8baf97"/>
<rect x="933.98" y="543.61" width="48.11" height="24.21" fill="#acc87f"/>
<rect x="981.79" y="543.61" width="24.21" height="24.21" fill="#8baf97"/>
<rect x="1005.70" y="543.61" width="24.21" height="24.21" fill="#96b78f"/>
<rect x="1029.60" y="543.61" width="24.21" height="24.21" fill="#ff7604"/>
<rect x="1053.51" y="543.61" width="24.21" height="24.21" fill="#a2c086"/>
<rect x="1077.41" y="543.61" width="24.21" height="24.21" fill="#8baf97"/>
<rect x="1101.32" y="543.61" width="24.21" height="24.21" fill="#96b78f"/>
<rect x="1125.23" y="543.61" width="24.21" height="24.21" fill="#a2c086"/>
<rect x="1149.13" y="543.61" width="24.21" height="24.21" fill="#81a69f"/>
<rect x="1173.04" y="543.61" width="48.11" height="24.21" fill="#8baf97"/>
<rect x="1220.85" y="543.61" width="24.21" height="24.21" fill="#ff9408"/>
<rect x="1244.75" y="543.61" width="24.21" height="24.21" fill="#96b78f"/>
<rect x="1268.66" y="543.61" width="24.21" height="24.21" fill="#acc87f"/>
<rect x="1292.56" y="543.61" width="48.11" height="24.21" fill="#ff7604"/>
<rect x="1340.38" y="543.61" width="24.21" height="24.21" fill="#ff9408"/>
<rect x="1364.28" y="543.61" width="72.02" height="24.21" fill="#ff0000"/>
<rect x="1436.00" y="543.61" width="24.21" height="24.21" fill="#ff9408"/>
<rect x="1459.90" y="543.61" width="48.11" height="24.21" fill="#ff7604"/>
<rect x="1507.72" y="543.61" width="24.21" height="24.21" fill="#a4c185"/>
<rect x="1531.62" y="543.61" width="48.11" height="24.21" fill="#98b88e"/>
<rect x="1579.43" y="543.61" width="24.21" height="24.21" fill="#8eb095"/>
<rect x="1603.34" y="543.61" width="48.11" height="24.21" fill="#82a79e"/>
<rect x="1651.15" y="543.61" width="24.21" height="24.21" fill="#7aa1a4"/>
<rect x="1675.05" y="543.61" width="24.21" height="24.21" fill="#709aab"/>
<rect x="1698.96" y="543.61" width="24.21" height="24.21" fill="#6792b2"/>
<rect x="1722.87" y="543.61" width="24.21" height="24.21" fill="#5d8ab9"/>
<rect x="1746.77" y="543.61" width="119.83" height="24.21" fill="#0000ff"/>
<rect x="169.00" y="567.52" width="24.21" height="24.21" fill="#0000ff"/>
<rect x="192.91" y="567.52" width="24.21" height="24.21" fill="#759da7"/>
<rect x="216.81" y="567.52" width="24.21" height="24.21" fill="#6d97ad"/>
<rect x="240.72" y="567.52" width="48.11" height="24.21" fill="#0000ff"/>
<rect x="288.53" y="567.52" width="24.21" height="24.21" fill="#759da7"/>
<rect x="312.43" y="567.52" width="454.51" height="24.21" fill="#0000ff"/>
<rect x="766.64" y="567.52" width="48.11" height="24.21" fill="#7099ab"/>
<rect x="814.45" y="567.52" width="24.21" height="24.21" fill="#5c8ab9"/>
<rect x="838.36" y="567.52" width="24.21" height="24.21" fill="#7099ab"/>
<rect x="862.26" y="567.52" width="24.21" height="24.21" fill="#8baf97"/>
<rect x="886.17" y="567.52" width="24.21" height="24.21" fill="#79a0a5"/>
<rect x="910.07" y="567.52" width="24.21" height="24.21" fill="#7099ab"/>
<rect x="933.98" y="567.52" width="48.11" height="24.21" fill="#96b78f"/>
<rect x="981.79" y="567.52" width="24.21" height="24.21" fill="#79a0a5"/>
<rect x="1005.70" y="567.52" width="24.21" height="24.21" fill="#81a69f"/>
<rect x="1029.60" y="567.52" width="24.21" height="24.21" fill="#a2c086"/>
<rect x="1053.51" y="567.52" width="24.21" height="24.21" fill="#8baf97"/>
<rect x="1077.41" y="567.52" width="24.21" height="24.21" fill="#7099ab"/>
<rect x="1101.32" y="567.52" width="24.21" height="24.21" fill="#8baf97"/>
<rect x="1125.23" y="567.52" width="24.21" height="24.21" fill="#96b78f"/>
<rect x="1149.13" y="567.52" width="24.21" height="24.21" fill="#79a0a5"/>
<rect x="1173.04" y="567.52" width="24.21" height="24.21" fill="#81a69f"/>
<rect x="1196.94" y="567.52" width="24.21" height="24.21" fill="#8baf97"/>
<rect x="1220.85" y="567.52" width="48.11" height="24.21" fill="#a2c086"/>
<rect x="1268.66" y="567.52" width="48.11" height="24.21" fill="#ff7604"/>
<rect x="1316.47" y="567.52" width="24.21" height="24.21" fill="#ff9408"/>
<rect x="1340.38" y="567.52" width="72.02" height="24.21" fill="#ff0000"/>
<rect x="1412.09" y="567.52" width="24.21" height="24.21" fill="#ff9408"/>
<rect x="1436.00" y="567.52" width="24.21" height="24.21" fill="#ff7604"/>
<rect x="1459.90" y="567.52" width="24.21" height="24.21" fill="#ff9408"/>
<rect x="1483.81" y="567.52" width="24.21" height="24.21" fill="#a4c185"/>
<rect x="1507.72" y="567.52" width="48.11" height="24.21" fill="#98b88e"/>
<rect x="1555.53" y="567.52" width="24.21" height="24.21" fill="#8eb095"/>
<rect x="1579.43" y="567.52" width="24.21" height="24.21" fill="#7aa1a3"/>
<rect x="1603.34" y="567.52" width="48.11" height="24.21" fill="#7aa1a4"/>
<rect x="1651.15" y="567.52" width="24.21" height="24.21" fill="#6792b2"/>
<rect x="1675.05" y="567.52" width="48.11" height="24.21" fill="#5d8ab9"/>
<rect x="1722.87" y="567.52" width="143.73" height="24.21" fill="#0000ff"/>
<rect x="169.00" y="591.43" width="24.21" height="24.21" fill="#0000ff"/>
<rect x="192.91" y="591.43" width="24.21" height="24.21" fill="#759da7"/>
<rect x="216.81" y="591.43" width="24.21" height="24.21" fill="#5a88bb"/>
<rect x="240.72" y="591.43" width="48.11" height="24.21" fill="#0000ff"/>
<rect x="288.53" y="591.43" width="24.21" height="24.21" fill="#5a88bb"/>
<rect x="312.43" y="591.43" width="478.41" height="24.21" fill="#0000ff"/>
<rect x="790.55" y="591.43" width="24.21" height="24.21" fill="#6692b2"/>
<rect x="814.45" y="591.43" width="24.21" height="24.21" fill="#5c8ab9"/>
<rect x="838.36" y="591.43" width="24.21" height="24.21" fill="#6692b2"/>
<rect x="862.26" y="591.43" width="24.21" height="24.21" fill="#81a69f"/>
<rect x="886.17" y="591.43" width="24.21" height="24.21" fill="#79a0a5"/>
<rect x="910.07" y="591.43" width="24.21" height="24.21" fill="#7099ab"/>
<rect x="933.98" y="591.43" width="24.21" height="24.21" fill="#8baf97"/>
<rect x="957.89" y="591.43" width="24.21" height="24.21" fill="#a2c086"/>
<rect x="981.79" y="591.43" width="48.11" height="24.21" fill="#8baf97"/>
<rect x="1029.60" y="591.43" width="24.21" height="24.21" fill="#acc87f"/>
<rect x="1053.51" y="591.43" width="24.21" height="24.21" fill="#a2c086"/>
<rect x="1077.41" y="591.43" width="24.21" height="24.21" fill="#81a69f"/>
<rect x="1101.32" y="591.43" width="24.21" height="24.21" fill="#8baf97"/>
<rect x="1125.23" y="591.43" width="24.21" height="24.21" fill="#acc87f"/>
<rect x="1149.13" y="591.43" width="24.21" height="24.21" fill="#8baf97"/>
<rect x="1173.04" y="591.43" width="24.21" height="24.21" fill="#96b78f"/>
<rect x="1196.94" y="591.43" width="24.21" height="24.21" fill="#acc87f"/>
<rect x="1220.85" y="591.43" width="24.21" height="24.21" fill="#ff5000"/>
<rect x="1244.75" y="591.43" width="48.11" height="24.21" fill="#ff7604"/>
<rect x="1292.56" y="591.43" width="24.21" height="24.21" fill="#ff9408"/>
<rect x="1316.47" y="591.43" width="72.02" height="24.21" fill="#ff0000"/>
<rect x="1388.19" y="591.43" width="24.21" height="24.21" fill="#ff9408"/>
<rect x="1412.09" y="591.43" width="24.21" height="24.21" fill="#ff7604"/>
<rect x="1436.00" y="591.43" width="24.21" height="24.21" fill="#ff9408"/>
<rect x="1459.90" y="591.43" width="24.21" height="24.21" fill="#a4c185"/>
<rect x="1483.81" y="591.43" width="48.11" height="24.21" fill="#98b88e"/>
<rect x="1531.62" y="591.43" width="24.21" height="24.21" fill="#8eb095"/>
<rect x="1555.53" y="591.43" width="48.11" height="24.21" fill="#7aa1a3"/>
<rect x="1603.34" y="591.43" width="48.11" height="24.21" fill="#709aab"/>
<rect x="1651.15" y="591.43" width="48.11" height="24.21" fill="#5d8ab9"/>
<rect x="1698.96" y="591.43" width="167.64" height="24.21" fill="#0000ff"/>
<rect x="169.00" y="615.34" width="24.21" height="24.21" fill="#6d97ad"/>
<rect x="192.91" y="615.34" width="24.21" height="24.21" fill="#87ab9a"/>
<rect x="216.81" y="615.34" width="24.21" height="24.21" fill="#6d97ad"/>
<rect x="240.72" y="615.34" width="24.21" height="24.21" fill="#0000ff"/>
<rect x="264.62" y="615.34" width="24.21" height="24.21" fill="#6490b4"/>
<rect x="288.53" y="615.34" width="24.21" height="24.21" fill="#6d97ad"/>
<rect x="312.43" y="615.34" width="454.51" height="24.21" fill="#0000ff"/>
<rect x="766.64" y="615.34" width="24.21" height="24.21" fill="#5c8ab9"/>
<rect x="790.55" y="615.34" width="48.11" height="24.21" fill="#6692b2"/>
<rect x="838.36" y="615.34" width="24.21" height="24.21" fill="#7099ab"/>
<rect x="862.26" y="615.34" width="72.02" height="24.21" fill="#81a69f"/>
<rect x="933.98" y="615.34" width="48.11" height="24.21" fill="#a2c086"/>
<rect x="981.79" y="615.34" width="24.21" height="24.21" fill="#96b78f"/>
<rect x="1005.70" y="615.34" width="24.21" height="24.21" fill="#a2c086"/>
<rect x="1029.60" y="615.34" width="24.21" height="24.21" fill="#ff7604"/>
<rect x="1053.51" y="615.34" width="24.21" height="24.21" fill="#a2c086"/>
<rect x="1077.41" y="615.34" width="24.21" height="24.21" fill="#96b78f"/>
<rect x="1101.32" y="615.34" width="24.21" height="24.21" fill="#acc87f"/>
<rect x="1125.23" y="615.34" width="24.21" height="24.21" fill="#ff7604"/>
<rect x="1149.13" y="615.34" width="48.11" height="24.21" fill="#96b78f"/>
<rect x="1196.94" y="615.34" width="24.21" height="24.21" fill="#acc87f"/>
<rect x="1220.85" y="615.34" width="24.21" height="24.21" fill="#ff5000"/>
<rect x="1244.75" y="615.34" width="48.11" height="24.21" fill="#ff7604"/>
<rect x="1292.56" y="615.34" width="72.02" height="24.21" fill="#ff0000"/>
<rect x="1364.28" y="615.34" width="24.21" height="24.21" fill="#ff9408"/>
<rect x="1388.19" y="615.34" width="48.11" height="24.21" fill="#ff7604"/>
<rect x="1436.00" y="615.34" width="24.21" height="24.21" fill="#a4c185"/>
<rect x="1459.90" y="615.34" width="24.21" height="24.21" fill="#98b88e"/>
<rect x="1483.81" y="615.34" width="24.21" height="24.21" fill="#a4c185"/>
<rect x="1507.72" y="615.34" width="24.21" height="24.21" fill="#8eb095"/>
<rect x="1531.62" y="615.34" width="72.02" height="24.21" fill="#7aa1a3"/>
<rect x="1603.34" y="615.34" width="48.11" height="24.21" fill="#6792b2"/>
<rect x="1651.15" y="615.34" width="24.21" height="24.21" fill="#5d8ab9"/>
<rect x="1675.05" y="615.34" width="191.55" height="24.21" fill="#0000ff"/>
<rect x="169.00" y="639.24" width="24.21" height="24.21" fill="#0000ff"/>
<rect x="192.91" y="639.24" width="24.21" height="24.21" fill="#82a79e"/>
<rect x="216.81" y="639.24" width="24.21" height="24.21" fill="#7aa1a4"/>
<rect x="240.72" y="639.24" width="48.11" height="24.21" fill="#0000ff"/>
<rect x="288.53" y="639.24" width="24.21" height="24.21" fill="#709aab"/>
<rect x="312.43" y="639.24" width="478.41" height="24.21" fill="#0000ff"/>
<rect x="790.55" y="639.24" width="24.21" height="24.21" fill="#6792b2"/>
<rect x="814.45" y="639.24" width="24.21" height="24.21" fill="#0000ff"/>
<rect x="838.36" y="639.24" width="24.21" height="24.21" fill="#709aab"/>
<rect x="862.26" y="639.24" width="24.21" height="24.21" fill="#82a79e"/>
<rect x="886.17" y="639.24" width="48.11" height="24.21" fill="#709aab"/>
<rect x="933.98" y="639.24" width="48.11" height="24.21" fill="#8caf96"/>
<rect x="981.79" y="639.24" width="24.21" height="24.21" fill="#7aa1a4"/>
<rect x="1005.70" y="639.24" width="24.21" height="24.21" fill="#8caf96"/>
<rect x="1029.60" y="639.24" width="24.21" height="24.21" fill="#a4c185"/>
<rect x="1053.51" y="639.24" width="24.21" height="24.21" fill="#8eb095"/>
<rect x="1077.41" y="639.24" width="24.21" height="24.21" fill="#7aa1a3"/>
<rect x="1101.32" y="639.24" width="48.11" height="24.21" fill="#98b88e"/>
<rect x="1149.13" y="639.24" width="24.21" height="24.21" fill="#83a89d"/>
<rect x="1173.04" y="639.24" width="24.21" height="24.21" fill="#7aa1a3"/>
<rect x="1196.94" y="639.24" width="24.21" height="24.21" fill="#8eb095"/>
<rect x="1220.85" y="639.24" width="48.11" height="24.21" fill="#a4c185"/>
<rect x="1268.66" y="639.24" width="72.02" height="24.21" fill="#ff0000"/>
<rect x="1340.38" y="639.24" width="24.21" height="24.21" fill="#ff9408"/>
<rect x="1364.28" y="639.24" width="48.11" height="24.21" fill="#ff7604"/>
<rect x="1412.09" y="639.24" width="24.21" height="24.21" fill="#a2c086"/>
<rect x="1436.00" y="639.24" width="48.11" height="24.21" fill="#96b78f"/>
<rect x="1483.81" y="639.24" width="24.21" height="24.21" fill="#8baf97"/>
<rect x="1507.72" y="639.24" width="72.02" height="24.21" fill="#81a69f"/>
<rect x="1579.43" y="639.24" width="24.21" height="24.21" fill="#7099ab"/>
<rect x="1603.34" y="639.24" width="48.11" height="24.21" fill="#5c8ab9"/>
<rect x="1651.15" y="639.24" width="215.45" height="24.21" fill="#0000ff"/>
<rect x="169.00" y="663.15" width="24.21" height="24.21" fill="#0000ff"/>
<rect x="192.91" y="663.15" width="24.21" height="24.21" fill="#6792b2"/>
<rect x="216.81" y="663.15" width="645.75" height="24.21" fill="#0000ff"/>
<rect x="862.26" y="663.15" width="24.21" height="24.21" fill="#7aa1a4"/>
<rect x="886.17" y="663.15" width="24.21" height="24.21" fill="#709aab"/>
<rect x="910.07" y="663.15" width="24.21" height="24.21" fill="#5d8ab9"/>
<rect x="933.98" y="663.15" width="24.21" height="24.21" fill="#7aa1a4"/>
<rect x="957.89" y="663.15" width="24.21" height="24.21" fill="#82a79e"/>
<rect x="981.79" y="663.15" width="24.21" height="24.21" fill="#709aab"/>
<rect x="1005.70" y="663.15" width="24.21" height="24.21" fill="#7aa1a4"/>
<rect x="1029.60" y="663.15" width="24.21" height="24.21" fill="#98b88e"/>
<rect x="1053.51" y="663.15" width="24.21" height="24.21" fill="#8eb095"/>
<rect x="1077.41" y="663.15" width="24.21" height="24.21" fill="#7aa1a3"/>
<rect x="1101.32" y="663.15" width="24.21" height="24.21" fill="#98b88e"/>
<rect x="1125.23" y="663.15" width="24.21" height="24.21" fill="#a4c185"/>
<rect x="1149.13" y="663.15" width="48.11" height="24.21" fill="#8eb095"/>
<rect x="1196.94" y="663.15" width="24.21" height="24.21" fill="#98b88e"/>
<rect x="1220.85" y="663.15" width="24.21" height="24.21" fill="#ff9408"/>
<rect x="1244.75" y="663.15" width="72.02" height="24.21" fill="#ff0000"/>
<rect x="1316.47" y="663.15" width="72.02" height="24.21" fill="#ff7604"/>
<rect x="1388.19" y="663.15" width="24.21" height="24.21" fill="#acc87f"/>
<rect x="1412.09" y="663.15" width="48.11" height="24.21" fill="#a2c086"/>
<rect x="1459.90" y="663.15" width="48.11" height="24.21" fill="#8baf97"/>
<rect x="1507.72" y="663.15" width="24.21" height="24.21" fill="#81a69f"/>
<rect x="1531.62" y="663.15" width="24.21" height="24.21" fill="#79a0a5"/>
<rect x="1555.53" y="663.15" width="24.21" height="24.21" fill="#7099ab"/>
<rect x="1579.43" y="663.15" width="24.21" height="24.21" fill="#6692b2"/>
<rect x="1603.34" y="663.15" width="24.21" height="24.21" fill="#5c8ab9"/>
<rect x="1627.24" y="663.15" width="239.36" height="24.21" fill="#0000ff"/>
<rect x="169.00" y="687.06" width="693.56" height="24.21" fill="#0000ff"/>
<rect x="862.26" y="687.06" width="48.11" height="24.21" fill="#709aab"/>
<rect x="910.07" y="687.06" width="24.21" height="24.21" fill="#5d8ab9"/>
<rect x="933.98" y="687.06" width="24.21" height="24.21" fill="#7aa1a4"/>
<rect x="957.89" y="687.06" width="24.21" height="24.21" fill="#8caf96"/>
<rect x="981.79" y="687.06" width="48.11" height="24.21" fill="#82a79e"/>
<rect x="1029.60" y="687.06" width="48.11" height="24.21" fill="#98b88e"/>
<rect x="1077.41" y="687.06" width="24.21" height="24.21" fill="#8eb095"/>
<rect x="1101.32" y="687.06" width="24.21" height="24.21" fill="#98b88e"/>
<rect x="1125.23" y="687.06" width="24.21" height="24.21" fill="#ff9408"/>
<rect x="1149.13" y="687.06" width="48.11" height="24.21" fill="#98b88e"/>
<rect x="1196.94" y="687.06" width="24.21" height="24.21" fill="#ff9408"/>
<rect x="1220.85" y="687.06" width="72.02" height="24.21" fill="#ff0000"/>
<rect x="1292.56" y="687.06" width="24.21" height="24.21" fill="#a4c185"/>
<rect x="1316.47" y="687.06" width="48.11" height="24.21" fill="#ff7604"/>
<rect x="1364.28" y="687.06" width="24.21" height="24.21" fill="#a2c086"/>
<rect x="1388.19" y="687.06" width="24.21" height="24.21" fill="#96b78f"/>
<rect x="1412.09" y="687.06" width="24.21" height="24.21" fill="#a2c086"/>
<rect x="1436.00" y="687.06" width="24.21" height="24.21" fill="#96b78f"/>
<rect x="1459.90" y="687.06" width="24.21" height="24.21" fill="#81a69f"/>
<rect x="1483.81" y="687.06" width="48.11" height="24.21" fill="#79a0a5"/>
<rect x="1531.62" y="687.06" width="72.02" height="24.21" fill="#6692b2"/>
<rect x="1603.34" y="687.06" width="263.26" height="24.21" fill="#0000ff"/>
<rect x="169.00" y="710.97" width="24.21" height="24.21" fill="#6792b2"/>
<rect x="192.91" y="710.97" width="24.21" height="24.21" fill="#82a79e"/>
<rect x="216.81" y="710.97" width="24.21" height="24.21" fill="#709aab"/>
<rect x="240.72" y="710.97" width="48.11" height="24.21" fill="#0000ff"/>
<rect x="288.53" y="710.97" width="24.21" height="24.21" fill="#6792b2"/>
<rect x="312.43" y="710.97" width="454.51" height="24.21" fill="#0000ff"/>
<rect x="766.64" y="710.97" width="24.21" height="24.21" fill="#6792b2"/>
<rect x="790.55" y="710.97" width="24.21" height="24.21" fill="#7aa1a4"/>
<rect x="814.45" y="710.97" width="24.21" height="24.21" fill="#709aab"/>
<rect x="838.36" y="710.97" width="24.21" height="24.21" fill="#7aa1a4"/>
<rect x="862.26" y="710.97" width="24.21" height="24.21" fill="#8caf96"/>
<rect x="886.17" y="710.97" width="24.21" height="24.21" fill="#97b88e"/>
<rect x="910.07" y="710.97" width="24.21" height="24.21" fill="#82a79e"/>
<rect x="933.98" y="710.97" width="24.21" height="24.21" fill="#97b88e"/>
<rect x="957.89" y="710.97" width="24.21" height="24.21" fill="#acc87f"/>
<rect x="981.79" y="710.97" width="48.11" height="24.21" fill="#97b88e"/>
<rect x="1029.60" y="710.97" width="48.11" height="24.21" fill="#ff7604"/>
<rect x="1077.41" y="710.97" width="24.21" height="24.21" fill="#a4c185"/>
<rect x="1101.32" y="710.97" width="24.21" height="24.21" fill="#adc97e"/>
<rect x="1125.23" y="710.97" width="24.21" height="24.21" fill="#ff5000"/>
<rect x="1149.13" y="710.97" width="48.11" height="24.21" fill="#a4c185"/>
<rect x="1196.94" y="710.97" width="72.02" height="24.21" fill="#ff0000"/>
<rect x="1268.66" y="710.97" width="24.21" height="24.21" fill="#ff9408"/>
<rect x="1292.56" y="710.97" width="24.21" height="24.21" fill="#a4c185"/>
<rect x="1316.47" y="710.97" width="48.11" height="24.21" fill="#ff5000"/>
<rect x="1364.28" y="710.97" width="24.21" height="24.21" fill="#a2c086"/>
<rect x="1388.19" y="710.97" width="24.21" height="24.21" fill="#ff9408"/>
<rect x="1412.09" y="710.97" width="24.21" height="24.21" fill="#ff5000"/>
<rect x="1436.00" y="710.97" width="24.21" height="24.21" fill="#acc87f"/>
<rect x="1459.90" y="710.97" width="72.02" height="24.21" fill="#a2c086"/>
<rect x="1531.62" y="710.97" width="24.21" height="24.21" fill="#96b78f"/>
<rect x="1555.53" y="710.97" width="48.11" height="24.21" fill="#8baf97"/>
<rect x="1603.34" y="710.97" width="24.21" height="24.21" fill="#79a0a5"/>
<rect x="1627.24" y="710.97" width="24.21" height="24.21" fill="#6692b2"/>
<rect x="1651.15" y="710.97" width="24.21" height="24.21" fill="#5c8ab9"/>
<rect x="1675.05" y="710.97" width="24.21" height="24.21" fill="#6692b2"/>
<rect x="1698.96" y="710.97" width="167.64" height="24.21" fill="#0000ff"/>
<rect x="169.00" y="734.88" width="693.56" height="24.21" fill="#0000ff"/>
<rect x="862.26" y="734.88" width="24.21" height="24.21" fill="#6792b2"/>
<rect x="886.17" y="734.88" width="48.11" height="24.21" fill="#709aab"/>
<rect x="933.98" y="734.88" width="24.21" height="24.21" fill="#7aa1a4"/>
<rect x="957.89" y="734.88" width="24.21" height="24.21" fill="#97b88e"/>
<rect x="981.79" y="734.88" width="48.11" height="24.21" fill="#8caf96"/>
<rect x="1029.60" y="734.88" width="24.21" height="24.21" fill="#8eb095"/>
<rect x="1053.51" y="734.88" width="24.21" height="24.21" fill="#a4c185"/>
<rect x="1077.41" y="734.88" width="48.11" height="24.21" fill="#98b88e"/>
<rect x="1125.23" y="734.88" width="48.11" height="24.21" fill="#ff7604"/>
<rect x="1173.04" y="734.88" width="72.02" height="24.21" fill="#ff0000"/>
<rect x="1244.75" y="734.88" width="24.21" height="24.21" fill="#ff9408"/>
<rect x="1268.66" y="734.88" width="24.21" height="24.21" fill="#98b88e"/>
<rect x="1292.56" y="734.88" width="24.21" height="24.21" fill="#8eb095"/>
<rect x="1316.47" y="734.88" width="48.11" height="24.21" fill="#acc87f"/>
<rect x="1364.28" y="734.88" width="48.11" height="24.21" fill="#8baf97"/>
<rect x="1412.09" y="734.88" width="24.21" height="24.21" fill="#a2c086"/>
<rect x="1436.00" y="734.88" width="24.21" height="24.21" fill="#8baf97"/>
<rect x="1459.90" y="734.88" width="24.21" height="24.21" fill="#79a0a5"/>
<rect x="1483.81" y="734.88" width="48.11" height="24.21" fill="#81a69f"/>
<rect x="1531.62" y="734.88" width="24.21" height="24.21" fill="#6692b2"/>
<rect x="1555.53" y="734.88" width="24.21" height="24.21" fill="#5c8ab9"/>
<rect x="1579.43" y="734.88" width="24.21" height="24.21" fill="#6692b2"/>
<rect x="1603.34" y="734.88" width="24.21" height="24.21" fill="#5c8ab9"/>
<rect x="1627.24" y="734.88" width="239.36" height="24.21" fill="#0000ff"/>
<rect x="169.00" y="758.79" width="24.21" height="24.21" fill="#0000ff"/>
<rect x="192.91" y="758.79" width="24.21" height="24.21" fill="#6792b2"/>
<rect x="216.81" y="758.79" width="574.04" height="24.21" fill="#0000ff"/>
<rect x="790.55" y="758.79" width="48.11" height="24.21" fill="#709aab"/>
<rect x="838.36" y="758.79" width="24.21" height="24.21" fill="#7aa1a4"/>
<rect x="862.26" y="758.79" width="24.21" height="24.21" fill="#82a79e"/>
<rect x="886.17" y="758.79" width="24.21" height="24.21" fill="#97b88e"/>
<rect x="910.07" y="758.79" width="24.21" height="24.21" fill="#82a79e"/>
<rect x="933.98" y="758.79" width="24.21" height="24.21" fill="#8caf96"/>
<rect x="957.89" y="758.79" width="24.21" height="24.21" fill="#97b88e"/>
<rect x="981.79" y="758.79" width="24.21" height="24.21" fill="#a3c186"/>
<rect x="1005.70" y="758.79" width="24.21" height="24.21" fill="#97b88e"/>
<rect x="1029.60" y="758.79" width="24.21" height="24.21" fill="#98b88e"/>
<rect x="1053.51" y="758.79" width="24.21" height="24.21" fill="#ff7604"/>
<rect x="1077.41" y="758.79" width="24.21" height="24.21" fill="#ff9408"/>
<rect x="1101.32" y="758.79" width="24.21" height="24.21" fill="#a4c185"/>
<rect x="1125.23" y="758.79" width="24.21" height="24.21" fill="#ff9408"/>
<rect x="1149.13" y="758.79" width="72.02" height="24.21" fill="#ff0000"/>
<rect x="1220.85" y="758.79" width="24.21" height="24.21" fill="#a4c185"/>
<rect x="1244.75" y="758.79" width="24.21" height="24.21" fill="#98b88e"/>
<rect x="1268.66" y="758.79" width="24.21" height="24.21" fill="#8eb095"/>
<rect x="1292.56" y="758.79" width="24.21" height="24.21" fill="#7aa1a3"/>
<rect x="1316.47" y="758.79" width="48.11" height="24.21" fill="#96b78f"/>
<rect x="1364.28" y="758.79" width="24.21" height="24.21" fill="#81a69f"/>
<rect x="1388.19" y="758.79" width="24.21" height="24.21" fill="#8baf97"/>
<rect x="1412.09" y="758.79" width="24.21" height="24.21" fill="#a2c086"/>
<rect x="1436.00" y="758.79" width="24.21" height="24.21" fill="#8baf97"/>
<rect x="1459.90" y="758.79" width="24.21" height="24.21" fill="#79a0a5"/>
<rect x="1483.81" y="758.79" width="24.21" height="24.21" fill="#96b78f"/>
<rect x="1507.72" y="758.79" width="24.21" height="24.21" fill="#a2c086"/>
<rect x="1531.62" y="758.79" width="24.21" height="24.21" fill="#7099ab"/>
<rect x="1555.53" y="758.79" width="24.21" height="24.21" fill="#6692b2"/>
<rect x="1579.43" y="758.79" width="24.21" height="24.21" fill="#81a69f"/>
<rect x="1603.34" y="758.79" width="24.21" height="24.21" fill="#7099ab"/>
<rect x="1627.24" y="758.79" width="48.11" height="24.21" fill="#0000ff"/>
<rect x="1675.05" y="758.79" width="24.21" height="24.21" fill="#5c8ab9"/>
<rect x="1698.96" y="758.79" width="167.64" height="24.21" fill="#0000ff"/>
<rect x="169.00" y="782.70" width="24.21" height="24.21" fill="#0000ff"/>
<rect x="192.91" y="782.70" width="24.21" height="24.21" fill="#6792b2"/>
<rect x="216.81" y="782.70" width="645.75" height="24.21" fill="#0000ff"/>
<rect x="862.26" y="782.70" width="24.21" height="24.21" fill="#5d8ab9"/>
<rect x="886.17" y="782.70" width="48.11" height="24.21" fill="#709aab"/>
<rect x="933.98" y="782.70" width="24.21" height="24.21" fill="#7aa1a4"/>
<rect x="957.89" y="782.70" width="24.21" height="24.21" fill="#82a79e"/>
<rect x="981.79" y="782.70" width="48.11" height="24.21" fill="#8caf96"/>
<rect x="1029.60" y="782.70" width="24.21" height="24.21" fill="#8eb095"/>
<rect x="1053.51" y="782.70" width="72.02" height="24.21" fill="#a4c185"/>
<rect x="1125.23" y="782.70" width="72.02" height="24.21" fill="#ff0000"/>
<rect x="1196.94" y="782.70" width="24.21" height="24.21" fill="#ff7604"/>
<rect x="1220.85" y="782.70" width="24.21" height="24.21" fill="#a4c185"/>
<rect x="1244.75" y="782.70" width="24.21" height="24.21" fill="#98b88e"/>
<rect x="1268.66" y="782.70" width="24.21" height="24.21" fill="#8eb095"/>
<rect x="1292.56" y="782.70" width="24.21" height="24.21" fill="#83a89d"/>
<rect x="1316.47" y="782.70" width="24.21" height="24.21" fill="#96b78f"/>
<rect x="1340.38" y="782.70" width="24.21" height="24.21" fill="#8baf97"/>
<rect x="1364.28" y="782.70" width="24.21" height="24.21" fill="#79a0a5"/>
<rect x="1388.19" y="782.70" width="24.21" height="24.21" fill="#81a69f"/>
<rect x="1412.09" y="782.70" width="24.21" height="24.21" fill="#96b78f"/>
<rect x="1436.00" y="782.70" width="24.21" height="24.21" fill="#79a0a5"/>
<rect x="1459.90" y="782.70" width="24.21" height="24.21" fill="#6692b2"/>
<rect x="1483.81" y="782.70" width="24.21" height="24.21" fill="#79a0a5"/>
<rect x="1507.72" y="782.70" width="24.21" height="24.21" fill="#7099ab"/>
<rect x="1531.62" y="782.70" width="48.11" height="24.21" fill="#0000ff"/>
<rect x="1579.43" y="782.70" width="24.21" height="24.21" fill="#5c8ab9"/>
<rect x="1603.34" y="782.70" width="263.26" height="24.21" fill="#0000ff"/>
<rect x="169.00" y="806.60" width="24.21" height="24.21" fill="#5d8ab9"/>
<rect x="192.91" y="806.60" width="24.21" height="24.21" fill="#82a79e"/>
<rect x="216.81" y="806.60" width="24.21" height="24.21" fill="#709aab"/>
<rect x="240.72" y="806.60" width="550.13" height="24.21" fill="#0000ff"/>
<rect x="790.55" y="806.60" width="48.11" height="24.21" fill="#5d8ab9"/>
<rect x="838.36" y="806.60" width="24.21" height="24.21" fill="#709aab"/>
<rect x="862.26" y="806.60" width="24.21" height="24.21" fill="#7aa1a4"/>
<rect x="886.17" y="806.60" width="48.11" height="24.21" fill="#82a79e"/>
<rect x="933.98" y="806.60" width="24.21" height="24.21" fill="#8caf96"/>
<rect x="957.89" y="806.60" width="48.11" height="24.21" fill="#97b88e"/>
<rect x="1005.70" y="806.60" width="24.21" height="24.21" fill="#a3c186"/>
<rect x="1029.60" y="806.60" width="48.11" height="24.21" fill="#ff7604"/>
<rect x="1077.41" y="806.60" width="24.21" height="24.21" fill="#ff9408"/>
<rect x="1101.32" y="806.60" width="72.02" height="24.21" fill="#ff0000"/>
<rect x="1173.04" y="806.60" width="24.21" height="24.21" fill="#ff9408"/>
<rect x="1196.94" y="806.60" width="24.21" height="24.21" fill="#ff7604"/>
<rect x="1220.85" y="806.60" width="24.21" height="24.21" fill="#ff5000"/>
<rect x="1244.75" y="806.60" width="24.21" height="24.21" fill="#ff9408"/>
<rect x="1268.66" y="806.60" width="24.21" height="24.21" fill="#a4c185"/>
<rect x="1292.56" y="806.60" width="24.21" height="24.21" fill="#98b88e"/>
<rect x="1316.47" y="806.60" width="24.21" height="24.21" fill="#ff7604"/>
<rect x="1340.38" y="806.60" width="24.21" height="24.21" fill="#acc87f"/>
<rect x="1364.28" y="806.60" width="24.21" height="24.21" fill="#96b78f"/>
<rect x="1388.19" y="806.60" width="24.21" height="24.21" fill="#a2c086"/>
<rect x="1412.09" y="806.60" width="24.21" height="24.21" fill="#acc87f"/>
<rect x="1436.00" y="806.60" width="24.21" height="24.21" fill="#96b78f"/>
<rect x="1459.90" y="806.60" width="24.21" height="24.21" fill="#81a69f"/>
<rect x="1483.81" y="806.60" width="24.21" height="24.21" fill="#96b78f"/>
<rect x="1507.72" y="806.60" width="24.21" height="24.21" fill="#8baf97"/>
<rect x="1531.62" y="806.60" width="72.02" height="24.21" fill="#7099ab"/>
<rect x="1603.34" y="806.60" width="24.21" height="24.21" fill="#6692b2"/>
<rect x="1627.24" y="806.60" width="239.36" height="24.21" fill="#0000ff"/>
<rect x="169.00" y="830.51" width="24.21" height="24.21" fill="#7aa1a4"/>
<rect x="192.91" y="830.51" width="24.21" height="24.21" fill="#8caf96"/>
<rect x="216.81" y="830.51" width="24.21" height="24.21" fill="#7aa1a4"/>
<rect x="240.72" y="830.51" width="24.21" height="24.21" fill="#6792b2"/>
<rect x="264.62" y="830.51" width="24.21" height="24.21" fill="#709aab"/>
<rect x="288.53" y="830.51" width="24.21" height="24.21" fill="#6792b2"/>
<rect x="312.43" y="830.51" width="478.41" height="24.21" fill="#0000ff"/>
<rect x="790.55" y="830.51" width="24.21" height="24.21" fill="#6792b2"/>
<rect x="814.45" y="830.51" width="24.21" height="24.21" fill="#709aab"/>
<rect x="838.36" y="830.51" width="24.21" height="24.21" fill="#7aa1a4"/>
<rect x="862.26" y="830.51" width="48.11" height="24.21" fill="#82a79e"/>
<rect x="910.07" y="830.51" width="24.21" height="24.21" fill="#8caf96"/>
<rect x="933.98" y="830.51" width="48.11" height="24.21" fill="#97b88e"/>
<rect x="981.79" y="830.51" width="24.21" height="24.21" fill="#a3c186"/>
<rect x="1005.70" y="830.51" width="24.21" height="24.21" fill="#ff9408"/>
<rect x="1029.60" y="830.51" width="24.21" height="24.21" fill="#ff7604"/>
<rect x="1053.51" y="830.51" width="24.21" height="24.21" fill="#ff9408"/>
<rect x="1077.41" y="830.51" width="72.02" height="24.21" fill="#ff0000"/>
<rect x="1149.13" y="830.51" width="24.21" height="24.21" fill="#a4c185"/>
<rect x="1173.04" y="830.51" width="48.11" height="24.21" fill="#98b88e"/>
<rect x="1220.85" y="830.51" width="24.21" height="24.21" fill="#a4c185"/>
<rect x="1244.75" y="830.51" width="72.02" height="24.21" fill="#98b88e"/>
<rect x="1316.47" y="830.51" width="24.21" height="24.21" fill="#acc87f"/>
<rect x="1340.38" y="830.51" width="48.11" height="24.21" fill="#8baf97"/>
<rect x="1388.19" y="830.51" width="48.11" height="24.21" fill="#96b78f"/>
<rect x="1436.00" y="830.51" width="48.11" height="24.21" fill="#79a0a5"/>
<rect x="1483.81" y="830.51" width="24.21" height="24.21" fill="#8baf97"/>
<rect x="1507.72" y="830.51" width="24.21" height="24.21" fill="#79a0a5"/>
<rect x="1531.62" y="830.51" width="24.21" height="24.21" fill="#6692b2"/>
<rect x="1555.53" y="830.51" width="48.11" height="24.21" fill="#7099ab"/>
<rect x="1603.34" y="830.51" width="263.26" height="24.21" fill="#0000ff"/>
<rect x="169.00" y="854.42" width="24.21" height="24.21" fill="#7aa1a4"/>
<rect x="192.91" y="854.42" width="24.21" height="24.21" fill="#8caf96"/>
<rect x="216.81" y="854.42" width="24.21" height="24.21" fill="#709aab"/>
<rect x="240.72" y="854.42" width="24.21" height="24.21" fill="#6792b2"/>
<rect x="264.62" y="854.42" width="24.21" height="24.21" fill="#709aab"/>
<rect x="288.53" y="854.42" width="24.21" height="24.21" fill="#6792b2"/>
<rect x="312.43" y="854.42" width="430.60" height="24.21" fill="#0000ff"/>
<rect x="742.74" y="854.42" width="48.11" height="24.21" fill="#5d8ab9"/>
<rect x="790.55" y="854.42" width="24.21" height="24.21" fill="#709aab"/>
<rect x="814.45" y="854.42" width="72.02" height="24.21" fill="#82a79e"/>
<rect x="886.17" y="854.42" width="24.21" height="24.21" fill="#8caf96"/>
<rect x="910.07" y="854.42" width="48.11" height="24.21" fill="#97b88e"/>
<rect x="957.89" y="854.42" width="24.21" height="24.21" fill="#a3c186"/>
<rect x="981.79" y="854.42" width="48.11" height="24.21" fill="#ff7604"/>
<rect x="1029.60" y="854.42" width="24.21" height="24.21" fill="#ff9408"/>
<rect x="1053.51" y="854.42" width="72.02" height="24.21" fill="#ff0000"/>
<rect x="1125.23" y="854.42" width="24.21" height="24.21" fill="#ff9408"/>
<rect x="1149.13" y="854.42" width="24.21" height="24.21" fill="#a4c185"/>
<rect x="1173.04" y="854.42" width="24.21" height="24.21" fill="#ff9408"/>
<rect x="1196.94" y="854.42" width="24.21" height="24.21" fill="#98b88e"/>
<rect x="1220.85" y="854.42" width="24.21" height="24.21" fill="#a4c185"/>
<rect x="1244.75" y="854.42" width="24.21" height="24.21" fill="#8eb095"/>
<rect x="1268.66" y="854.42" width="48.11" height="24.21" fill="#7aa1a3"/>
<rect x="1316.47" y="854.42" width="24.21" height="24.21" fill="#96b78f"/>
<rect x="1340.38" y="854.42" width="24.21" height="24.21" fill="#81a69f"/>
<rect x="1364.28" y="854.42" width="24.21" height="24.21" fill="#7099ab"/>
<rect x="1388.19" y="854.42" width="24.21" height="24.21" fill="#8baf97"/>
<rect x="1412.09" y="854.42" width="24.21" height="24.21" fill="#96b78f"/>
<rect x="1436.00" y="854.42" width="48.11" height="24.21" fill="#7099ab"/>
<rect x="1483.81" y="854.42" width="24.21" height="24.21" fill="#8baf97"/>
<rect x="1507.72" y="854.42" width="24.21" height="24.21" fill="#79a0a5"/>
<rect x="1531.62" y="854.42" width="24.21" height="24.21" fill="#6692b2"/>
<rect x="1555.53" y="854.42" width="24.21" height="24.21" fill="#7099ab"/>
<rect x="1579.43" y="854.42" width="24.21" height="24.21" fill="#81a69f"/>
<rect x="1603.34" y="854.42" width="24.21" height="24.21" fill="#6692b2"/>
<rect x="1627.24" y="854.42" width="24.21" height="24.21" fill="#0000ff"/>
<rect x="1651.15" y="854.42" width="48.11" height="24.21" fill="#5c8ab9"/>
<rect x="1698.96" y="854.42" width="167.64" height="24.21" fill="#0000ff"/>
<rect x="169.00" y="878.33" width="24.21" height="24.21" fill="#6792b2"/>
<rect x="192.91" y="878.33" width="24.21" height="24.21" fill="#8caf96"/>
<rect x="216.81" y="878.33" width="24.21" height="24.21" fill="#709aab"/>
<rect x="240.72" y="878.33" width="24.21" height="24.21" fill="#5d8ab9"/>
<rect x="264.62" y="878.33" width="48.11" height="24.21" fill="#709aab"/>
<rect x="312.43" y="878.33" width="406.70" height="24.21" fill="#0000ff"/>
<rect x="718.83" y="878.33" width="24.21" height="24.21" fill="#5d8ab9"/>
<rect x="742.74" y="878.33" width="24.21" height="24.21" fill="#6792b2"/>
<rect x="766.64" y="878.33" width="24.21" height="24.21" fill="#7aa1a4"/>
<rect x="790.55" y="878.33" width="72.02" height="24.21" fill="#82a79e"/>
<rect x="862.26" y="878.33" width="24.21" height="24.21" fill="#8caf96"/>
<rect x="886.17" y="878.33" width="24.21" height="24.21" fill="#a3c186"/>
<rect x="910.07" y="878.33" width="24.21" height="24.21" fill="#97b88e"/>
<rect x="933.98" y="878.33" width="24.21" height="24.21" fill="#a3c186"/>
<rect x="957.89" y="878.33" width="48.11" height="24.21" fill="#ff7604"/>
<rect x="1005.70" y="878.33" width="24.21" height="24.21" fill="#ff9408"/>
<rect x="1029.60" y="878.33" width="72.02" height="24.21" fill="#ff0000"/>
<rect x="1101.32" y="878.33" width="24.21" height="24.21" fill="#ff9408"/>
<rect x="1125.23" y="878.33" width="24.21" height="24.21" fill="#ff7604"/>
<rect x="1149.13" y="878.33" width="24.21" height="24.21" fill="#a4c185"/>
<rect x="1173.04" y="878.33" width="24.21" height="24.21" fill="#ff7604"/>
<rect x="1196.94" y="878.33" width="24.21" height="24.21" fill="#a4c185"/>
<rect x="1220.85" y="878.33" width="24.21" height="24.21" fill="#ff7604"/>
<rect x="1244.75" y="878.33" width="24.21" height="24.21" fill="#98b88e"/>
<rect x="1268.66" y="878.33" width="48.11" height="24.21" fill="#8eb095"/>
<rect x="1316.47" y="878.33" width="48.11" height="24.21" fill="#a2c086"/>
<rect x="1364.28" y="878.33" width="24.21" height="24.21" fill="#8baf97"/>
<rect x="1388.19" y="878.33" width="24.21" height="24.21" fill="#a2c086"/>
<rect x="1412.09" y="878.33" width="24.21" height="24.21" fill="#ff9408"/>
<rect x="1436.00" y="878.33" width="24.21" height="24.21" fill="#96b78f"/>
<rect x="1459.90" y="878.33" width="24.21" height="24.21" fill="#8baf97"/>
<rect x="1483.81" y="878.33" width="48.11" height="24.21" fill="#a2c086"/>
<rect x="1531.62" y="878.33" width="48.11" height="24.21" fill="#79a0a5"/>
<rect x="1579.43" y="878.33" width="24.21" height="24.21" fill="#8baf97"/>
<rect x="1603.34" y="878.33" width="24.21" height="24.21" fill="#81a69f"/>
<rect x="1627.24" y="878.33" width="72.02" height="24.21" fill="#7099ab"/>
<rect x="1698.96" y="878.33" width="24.21" height="24.21" fill="#5c8ab9"/>
<rect x="1722.87" y="878.33" width="143.73" height="24.21" fill="#0000ff"/>
<rect x="169.00" y="902.24" width="24.21" height="24.21" fill="#7aa1a4"/>
<rect x="192.91" y="902.24" width="24.21" height="24.21" fill="#a3c186"/>
<rect x="216.81" y="902.24" width="24.21" height="24.21" fill="#82a79e"/>
<rect x="240.72" y="902.24" width="24.21" height="24.21" fill="#709aab"/>
<rect x="264.62" y="902.24" width="48.11" height="24.21" fill="#82a79e"/>
<rect x="312.43" y="902.24" width="24.21" height="24.21" fill="#709aab"/>
<rect x="336.34" y="902.24" width="24.21" height="24.21" fill="#0000ff"/>
<rect x="360.25" y="902.24" width="24.21" height="24.21" fill="#7aa1a4"/>
<rect x="384.15" y="902.24" width="334.98" height="24.21" fill="#0000ff"/>
<rect x="718.83" y="902.24" width="24.21" height="24.21" fill="#5d8ab9"/>
<rect x="742.74" y="902.24" width="24.21" height="24.21" fill="#6792b2"/>
<rect x="766.64" y="902.24" width="72.02" height="24.21" fill="#82a79e"/>
<rect x="838.36" y="902.24" width="72.02" height="24.21" fill="#97b88e"/>
<rect x="910.07" y="902.24" width="24.21" height="24.21" fill="#a3c186"/>
<rect x="933.98" y="902.24" width="24.21" height="24.21" fill="#ff9408"/>
<rect x="957.89" y="902.24" width="24.21" height="24.21" fill="#ff7604"/>
<rect x="981.79" y="902.24" width="24.21" height="24.21" fill="#ff9408"/>
<rect x="1005.70" y="902.24" width="72.02" height="24.21" fill="#ff0000"/>
<rect x="1077.41" y="902.24" width="24.21" height="24.21" fill="#ff9408"/>
<rect x="1101.32" y="902.24" width="48.11" height="24.21" fill="#ff7604"/>
<rect x="1149.13" y="902.24" width="24.21" height="24.21" fill="#8eb095"/>
<rect x="1173.04" y="902.24" width="24.21" height="24.21" fill="#98b88e"/>
<rect x="1196.94" y="902.24" width="24.21" height="24.21" fill="#8eb095"/>
<rect x="1220.85" y="902.24" width="24.21" height="24.21" fill="#ff7604"/>
<rect x="1244.75" y="902.24" width="48.11" height="24.21" fill="#98b88e"/>
<rect x="1292.56" y="902.24" width="24.21" height="24.21" fill="#a4c185"/>
<rect x="1316.47" y="902.24" width="24.21" height="24.21" fill="#ff7604"/>
<rect x="1340.38" y="902.24" width="24.21" height="24.21" fill="#acc87f"/>
<rect x="1364.28" y="902.24" width="24.21" height="24.21" fill="#a2c086"/>
<rect x="1388.19" y="902.24" width="48.11" height="24.21" fill="#ff7604"/>
<rect x="1436.00" y="902.24" width="24.21" height="24.21" fill="#96b78f"/>
<rect x="1459.90" y="902.24" width="24.21" height="24.21" fill="#a2c086"/>
<rect x="1483.81" y="902.24" width="24.21" height="24.21" fill="#ff9408"/>
<rect x="1507.72" y="902.24" width="24.21" height="24.21" fill="#a2c086"/>
<rect x="1531.62" y="902.24" width="24.21" height="24.21" fill="#81a69f"/>
<rect x="1555.53" y="902.24" width="48.11" height="24.21" fill="#8baf97"/>
<rect x="1603.34" y="902.24" width="24.21" height="24.21" fill="#79a0a5"/>
<rect x="1627.24" y="902.24" width="72.02" height="24.21" fill="#6692b2"/>
<rect x="1698.96" y="902.24" width="167.64" height="24.21" fill="#0000ff"/>
<rect x="169.00" y="926.15" width="24.21" height="24.21" fill="#97b88e"/>
<rect x="192.91" y="926.15" width="24.21" height="24.21" fill="#acc87f"/>
<rect x="216.81" y="926.15" width="24.21" height="24.21" fill="#97b88e"/>
<rect x="240.72" y="926.15" width="24.21" height="24.21" fill="#82a79e"/>
<rect x="264.62" y="926.15" width="24.21" height="24.21" fill="#97b88e"/>
<rect x="288.53" y="926.15" width="24.21" height="24.21" fill="#8caf96"/>
<rect x="312.43" y="926.15" width="72.02" height="24.21" fill="#709aab"/>
<rect x="384.15" y="926.15" width="24.21" height="24.21" fill="#6792b2"/>
<rect x="408.06" y="926.15" width="263.26" height="24.21" fill="#0000ff"/>
<rect x="671.02" y="926.15" width="48.11" height="24.21" fill="#5e8bb8"/>
<rect x="718.83" y="926.15" width="24.21" height="24.21" fill="#719aaa"/>
<rect x="742.74" y="926.15" width="48.11" height="24.21" fill="#7ba2a3"/>
<rect x="790.55" y="926.15" width="48.11" height="24.21" fill="#8fb194"/>
<rect x="838.36" y="926.15" width="48.11" height="24.21" fill="#99b98d"/>
<rect x="886.17" y="926.15" width="24.21" height="24.21" fill="#a4c285"/>
<rect x="910.07" y="926.15" width="24.21" height="24.21" fill="#ff9408"/>
<rect x="933.98" y="926.15" width="24.21" height="24.21" fill="#ff7604"/>
<rect x="957.89" y="926.15" width="24.21" height="24.21" fill="#ff9408"/>
<rect x="981.79" y="926.15" width="72.02" height="24.21" fill="#ff0000"/>
<rect x="1053.51" y="926.15" width="24.21" height="24.21" fill="#ff9408"/>
<rect x="1077.41" y="926.15" width="24.21" height="24.21" fill="#ff7604"/>
<rect x="1101.32" y="926.15" width="24.21" height="24.21" fill="#ff9408"/>
<rect x="1125.23" y="926.15" width="24.21" height="24.21" fill="#a3c186"/>
<rect x="1149.13" y="926.15" width="24.21" height="24.21" fill="#8caf96"/>
<rect x="1173.04" y="926.15" width="24.21" height="24.21" fill="#97b88e"/>
<rect x="1196.94" y="926.15" width="24.21" height="24.21" fill="#8caf96"/>
<rect x="1220.85" y="926.15" width="24.21" height="24.21" fill="#97b88e"/>
<rect x="1244.75" y="926.15" width="24.21" height="24.21" fill="#82a79e"/>
<rect x="1268.66" y="926.15" width="24.21" height="24.21" fill="#7aa1a4"/>
<rect x="1292.56" y="926.15" width="24.21" height="24.21" fill="#8caf96"/>
<rect x="1316.47" y="926.15" width="24.21" height="24.21" fill="#a2c086"/>
<rect x="1340.38" y="926.15" width="24.21" height="24.21" fill="#8baf97"/>
<rect x="1364.28" y="926.15" width="24.21" height="24.21" fill="#81a69f"/>
<rect x="1388.19" y="926.15" width="24.21" height="24.21" fill="#96b78f"/>
<rect x="1412.09" y="926.15" width="24.21" height="24.21" fill="#a2c086"/>
<rect x="1436.00" y="926.15" width="24.21" height="24.21" fill="#81a69f"/>
<rect x="1459.90" y="926.15" width="24.21" height="24.21" fill="#8baf97"/>
<rect x="1483.81" y="926.15" width="24.21" height="24.21" fill="#a2c086"/>
<rect x="1507.72" y="926.15" width="24.21" height="24.21" fill="#96b78f"/>
<rect x="1531.62" y="926.15" width="24.21" height="24.21" fill="#79a0a5"/>
<rect x="1555.53" y="926.15" width="24.21" height="24.21" fill="#8baf97"/>
<rect x="1579.43" y="926.15" width="24.21" height="24.21" fill="#96b78f"/>
<rect x="1603.34" y="926.15" width="48.11" height="24.21" fill="#7099ab"/>
<rect x="1651.15" y="926.15" width="24.21" height="24.21" fill="#81a69f"/>
<rect x="1675.05" y="926.15" width="24.21" height="24.21" fill="#7099ab"/>
<rect x="1698.96" y="926.15" width="48.11" height="24.21" fill="#0000ff"/>
<rect x="1746.77" y="926.15" width="24.21" height="24.21" fill="#5c8ab9"/>
<rect x="1770.68" y="926.15" width="95.92" height="24.21" fill="#0000ff"/>
<rect x="169.00" y="950.05" width="24.21" height="24.21" fill="#709aab"/>
<rect x="192.91" y="950.05" width="24.21" height="24.21" fill="#a3c186"/>
<rect x="216.81" y="950.05" width="24.21" height="24.21" fill="#7aa1a4"/>
<rect x="240.72" y="950.05" width="24.21" height="24.21" fill="#6792b2"/>
<rect x="264.62" y="950.05" width="24.21" height="24.21" fill="#8caf96"/>
<rect x="288.53" y="950.05" width="24.21" height="24.21" fill="#82a79e"/>
<rect x="312.43" y="950.05" width="48.11" height="24.21" fill="#6792b2"/>
<rect x="360.25" y="950.05" width="24.21" height="24.21" fill="#709aab"/>
<rect x="384.15" y="950.05" width="24.21" height="24.21" fill="#5d8ab9"/>
<rect x="408.06" y="950.05" width="239.36" height="24.21" fill="#0000ff"/>
<rect x="647.11" y="950.05" width="24.21" height="24.21" fill="#5e8bb8"/>
<rect x="671.02" y="950.05" width="24.21" height="24.21" fill="#6893b1"/>
<rect x="694.92" y="950.05" width="24.21" height="24.21" fill="#719aaa"/>
<rect x="718.83" y="950.05" width="24.21" height="24.21" fill="#83a89d"/>
<rect x="742.74" y="950.05" width="48.11" height="24.21" fill="#7ba2a3"/>
<rect x="790.55" y="950.05" width="24.21" height="24.21" fill="#99b98d"/>
<rect x="814.45" y="950.05" width="24.21" height="24.21" fill="#a4c285"/>
<rect x="838.36" y="950.05" width="24.21" height="24.21" fill="#99b98d"/>
<rect x="862.26" y="950.05" width="24.21" height="24.21" fill="#a4c285"/>
<rect x="886.17" y="950.05" width="48.11" height="24.21" fill="#ff7604"/>
<rect x="933.98" y="950.05" width="24.21" height="24.21" fill="#ff9408"/>
<rect x="957.89" y="950.05" width="72.02" height="24.21" fill="#ff0000"/>
<rect x="1029.60" y="950.05" width="24.21" height="24.21" fill="#ff9408"/>
<rect x="1053.51" y="950.05" width="48.11" height="24.21" fill="#ff7604"/>
<rect x="1101.32" y="950.05" width="24.21" height="24.21" fill="#a3c186"/>
<rect x="1125.23" y="950.05" width="24.21" height="24.21" fill="#97b88e"/>
<rect x="1149.13" y="950.05" width="24.21" height="24.21" fill="#8caf96"/>
<rect x="1173.04" y="950.05" width="24.21" height="24.21" fill="#a3c186"/>
<rect x="1196.94" y="950.05" width="24.21" height="24.21" fill="#8caf96"/>
<rect x="1220.85" y="950.05" width="24.21" height="24.21" fill="#97b88e"/>
<rect x="1244.75" y="950.05" width="24.21" height="24.21" fill="#82a79e"/>
<rect x="1268.66" y="950.05" width="24.21" height="24.21" fill="#709aab"/>
<rect x="1292.56" y="950.05" width="24.21" height="24.21" fill="#7aa1a4"/>
<rect x="1316.47" y="950.05" width="24.21" height="24.21" fill="#96b78f"/>
<rect x="1340.38" y="950.05" width="24.21" height="24.21" fill="#8baf97"/>
<rect x="1364.28" y="950.05" width="24.21" height="24.21" fill="#79a0a5"/>
<rect x="1388.19" y="950.05" width="24.21" height="24.21" fill="#8baf97"/>
<rect x="1412.09" y="950.05" width="24.21" height="24.21" fill="#a2c086"/>
<rect x="1436.00" y="950.05" width="48.11" height="24.21" fill="#81a69f"/>
<rect x="1483.81" y="950.05" width="24.21" height="24.21" fill="#a2c086"/>
<rect x="1507.72" y="950.05" width="24.21" height="24.21" fill="#96b78f"/>
<rect x="1531.62" y="950.05" width="24.21" height="24.21" fill="#79a0a5"/>
<rect x="1555.53" y="950.05" width="24.21" height="24.21" fill="#8baf97"/>
<rect x="1579.43" y="950.05" width="24.21" height="24.21" fill="#a2c086"/>
<rect x="1603.34" y="950.05" width="24.21" height="24.21" fill="#8baf97"/>
<rect x="1627.24" y="950.05" width="24.21" height="24.21" fill="#79a0a5"/>
<rect x="1651.15" y="950.05" width="24.21" height="24.21" fill="#81a69f"/>
<rect x="1675.05" y="950.05" width="24.21" height="24.21" fill="#8baf97"/>
<rect x="1698.96" y="950.05" width="24.21" height="24.21" fill="#7099ab"/>
<rect x="1722.87" y="950.05" width="24.21" height="24.21" fill="#5c8ab9"/>
<rect x="1746.77" y="950.05" width="24.21" height="24.21" fill="#7099ab"/>
<rect x="1770.68" y="950.05" width="24.21" height="24.21" fill="#6692b2"/>
<rect x="1794.58" y="950.05" width="72.02" height="24.21" fill="#0000ff"/>
<rect x="169.00" y="973.96" width="24.21" height="24.21" fill="#709aab"/>
<rect x="192.91" y="973.96" width="24.21" height="24.21" fill="#a3c186"/>
<rect x="216.81" y="973.96" width="24.21" height="24.21" fill="#8caf96"/>
<rect x="240.72" y="973.96" width="24.21" height="24.21" fill="#709aab"/>
<rect x="264.62" y="973.96" width="24.21" height="24.21" fill="#8caf96"/>
<rect x="288.53" y="973.96" width="24.21" height="24.21" fill="#97b88e"/>
<rect x="312.43" y="973.96" width="24.21" height="24.21" fill="#709aab"/>
<rect x="336.34" y="973.96" width="24.21" height="24.21" fill="#6792b2"/>
<rect x="360.25" y="973.96" width="24.21" height="24.21" fill="#82a79e"/>
<rect x="384.15" y="973.96" width="24.21" height="24.21" fill="#7aa1a4"/>
<rect x="408.06" y="973.96" width="48.11" height="24.21" fill="#0000ff"/>
<rect x="455.87" y="973.96" width="24.21" height="24.21" fill="#6893b1"/>
<rect x="479.77" y="973.96" width="143.73" height="24.21" fill="#0000ff"/>
<rect x="623.21" y="973.96" width="24.21" height="24.21" fill="#6893b1"/>
<rect x="647.11" y="973.96" width="24.21" height="24.21" fill="#719aaa"/>
<rect x="671.02" y="973.96" width="48.11" height="24.21" fill="#7aa1a3"/>
<rect x="718.83" y="973.96" width="24.21" height="24.21" fill="#83a89d"/>
<rect x="742.74" y="973.96" width="24.21" height="24.21" fill="#7ba2a3"/>
<rect x="766.64" y="973.96" width="24.21" height="24.21" fill="#8fb194"/>
<rect x="790.55" y="973.96" width="24.21" height="24.21" fill="#a4c285"/>
<rect x="814.45" y="973.96" width="24.21" height="24.21" fill="#99b98d"/>
<rect x="838.36" y="973.96" width="24.21" height="24.21" fill="#a4c285"/>
<rect x="862.26" y="973.96" width="48.11" height="24.21" fill="#ff7604"/>
<rect x="910.07" y="973.96" width="24.21" height="24.21" fill="#ff9408"/>
<rect x="933.98" y="973.96" width="72.02" height="24.21" fill="#ff0000"/>
<rect x="1005.70" y="973.96" width="24.21" height="24.21" fill="#ff9408"/>
<rect x="1029.60" y="973.96" width="48.11" height="24.21" fill="#ff7604"/>
<rect x="1077.41" y="973.96" width="24.21" height="24.21" fill="#a3c186"/>
<rect x="1101.32" y="973.96" width="48.11" height="24.21" fill="#97b88e"/>
<rect x="1149.13" y="973.96" width="24.21" height="24.21" fill="#82a79e"/>
<rect x="1173.04" y="973.96" width="48.11" height="24.21" fill="#97b88e"/>
<rect x="1220.85" y="973.96" width="24.21" height="24.21" fill="#acc87f"/>
<rect x="1244.75" y="973.96" width="24.21" height="24.21" fill="#8caf96"/>
<rect x="1268.66" y="973.96" width="24.21" height="24.21" fill="#82a79e"/>
<rect x="1292.56" y="973.96" width="24.21" height="24.21" fill="#8caf96"/>
<rect x="1316.47" y="973.96" width="48.11" height="24.21" fill="#a2c086"/>
<rect x="1364.28" y="973.96" width="24.21" height="24.21" fill="#96b78f"/>
<rect x="1388.19" y="973.96" width="24.21" height="24.21" fill="#acc87f"/>
<rect x="1412.09" y="973.96" width="24.21" height="24.21" fill="#ff7604"/>
<rect x="1436.00" y="973.96" width="48.11" height="24.21" fill="#acc87f"/>
<rect x="1483.81" y="973.96" width="24.21" height="24.21" fill="#ff5000"/>
<rect x="1507.72" y="973.96" width="24.21" height="24.21" fill="#ff7604"/>
<rect x="1531.62" y="973.96" width="24.21" height="24.21" fill="#a2c086"/>
<rect x="1555.53" y="973.96" width="24.21" height="24.21" fill="#acc87f"/>
<rect x="1579.43" y="973.96" width="24.21" height="24.21" fill="#ff9408"/>
<rect x="1603.34" y="973.96" width="24.21" height="24.21" fill="#a2c086"/>
<rect x="1627.24" y="973.96" width="72.02" height="24.21" fill="#96b78f"/>
<rect x="1698.96" y="973.96" width="24.21" height="24.21" fill="#8baf97"/>
<rect x="1722.87" y="973.96" width="48.11" height="24.21" fill="#81a69f"/>
<rect x="1770.68" y="973.96" width="24.21" height="24.21" fill="#79a0a5"/>
<rect x="1794.58" y="973.96" width="72.02" height="24.21" fill="#0000ff"/>
<rect x="169.00" y="997.87" width="24.21" height="24.21" fill="#97b88e"/>
<rect x="192.91" y="997.87" width="24.21" height="24.21" fill="#ff7604"/>
<rect x="216.81" y="997.87" width="24.21" height="24.21" fill="#a3c186"/>
<rect x="240.72" y="997.87" width="24.21" height="24.21" fill="#8caf96"/>
<rect x="264.62" y="997.87" width="48.11" height="24.21" fill="#a3c186"/>
<rect x="312.43" y="997.87" width="24.21" height="24.21" fill="#8caf96"/>
<rect x="336.34" y="997.87" width="24.21" height="24.21" fill="#7aa1a4"/>
<rect x="360.25" y="997.87" width="24.21" height="24.21" fill="#97b88e"/>
<rect x="384.15" y="997.87" width="24.21" height="24.21" fill="#82a79e"/>
<rect x="408.06" y="997.87" width="48.11" height="24.21" fill="#709aab"/>
<rect x="455.87" y="997.87" width="24.21" height="24.21" fill="#719aaa"/>
<rect x="479.77" y="997.87" width="119.83" height="24.21" fill="#0000ff"/>
<rect x="599.30" y="997.87" width="48.11" height="24.21" fill="#6893b1"/>
<rect x="647.11" y="997.87" width="24.21" height="24.21" fill="#719aaa"/>
<rect x="671.02" y="997.87" width="24.21" height="24.21" fill="#7aa1a3"/>
<rect x="694.92" y="997.87" width="48.11" height="24.21" fill="#83a89d"/>
<rect x="742.74" y="997.87" width="24.21" height="24.21" fill="#8fb194"/>
<rect x="766.64" y="997.87" width="24.21" height="24.21" fill="#99b98d"/>
<rect x="790.55" y="997.87" width="48.11" height="24.21" fill="#a4c285"/>
<rect x="838.36" y="997.87" width="24.21" height="24.21" fill="#ff9408"/>
<rect x="862.26" y="997.87" width="24.21" height="24.21" fill="#ff7604"/>
<rect x="886.17" y="997.87" width="24.21" height="24.21" fill="#ff9408"/>
<rect x="910.07" y="997.87" width="72.02" height="24.21" fill="#ff0000"/>
<rect x="981.79" y="997.87" width="24.21" height="24.21" fill="#ff9408"/>
<rect x="1005.70" y="997.87" width="24.21" height="24.21" fill="#ff7604"/>
<rect x="1029.60" y="997.87" width="24.21" height="24.21" fill="#ff9408"/>
<rect x="1053.51" y="997.87" width="24.21" height="24.21" fill="#a3c186"/>
<rect x="1077.41" y="997.87" width="48.11" height="24.21" fill="#97b88e"/>
<rect x="1125.23" y="997.87" width="24.21" height="24.21" fill="#8caf96"/>
<rect x="1149.13" y="997.87" width="24.21" height="24.21" fill="#7aa1a4"/>
<rect x="1173.04" y="997.87" width="24.21" height="24.21" fill="#8caf96"/>
<rect x="1196.94" y="997.87" width="24.21" height="24.21" fill="#7aa1a4"/>
<rect x="1220.85" y="997.87" width="24.21" height="24.21" fill="#97b88e"/>
<rect x="1244.75" y="997.87" width="48.11" height="24.21" fill="#7aa1a4"/>
<rect x="1292.56" y="997.87" width="24.21" height="24.21" fill="#8caf96"/>
<rect x="1316.47" y="997.87" width="24.21" height="24.21" fill="#a2c086"/>
<rect x="1340.38" y="997.87" width="24.21" height="24.21" fill="#8baf97"/>
<rect x="1364.28" y="997.87" width="24.21" height="24.21" fill="#96b78f"/>
<rect x="1388.19" y="997.87" width="48.11" height="24.21" fill="#acc87f"/>
<rect x="1436.00" y="997.87" width="24.21" height="24.21" fill="#8baf97"/>
<rect x="1459.90" y="997.87" width="24.21" height="24.21" fill="#96b78f"/>
<rect x="1483.81" y="997.87" width="24.21" height="24.21" fill="#ff7604"/>
<rect x="1507.72" y="997.87" width="24.21" height="24.21" fill="#a2c086"/>
<rect x="1531.62" y="997.87" width="24.21" height="24.21" fill="#8baf97"/>
<rect x="1555.53" y="997.87" width="48.11" height="24.21" fill="#acc87f"/>
<rect x="1603.34" y="997.87" width="48.11" height="24.21" fill="#8baf97"/>
<rect x="1651.15" y="997.87" width="24.21" height="24.21" fill="#96b78f"/>
<rect x="1675.05" y="997.87" width="24.21" height="24.21" fill="#8baf97"/>
<rect x="1698.96" y="997.87" width="48.11" height="24.21" fill="#7099ab"/>
<rect x="1746.77" y="997.87" width="24.21" height="24.21" fill="#79a0a5"/>
<rect x="1770.68" y="997.87" width="24.21" height="24.21" fill="#5c8ab9"/>
<rect x="1794.58" y="997.87" width="72.02" height="24.21" fill="#0000ff"/>
<rect x="169.00" y="1021.78" width="24.21" height="24.21" fill="#a3c186"/>
<rect x="192.91" y="1021.78" width="24.21" height="24.21" fill="#ff7604"/>
<rect x="216.81" y="1021.78" width="24.21" height="24.21" fill="#97b88e"/>
<rect x="240.72" y="1021.78" width="24.21" height="24.21" fill="#8caf96"/>
<rect x="264.62" y="1021.78" width="24.21" height="24.21" fill="#acc87f"/>
<rect x="288.53" y="1021.78" width="24.21" height="24.21" fill="#97b88e"/>
<rect x="312.43" y="1021.78" width="24.21" height="24.21" fill="#7aa1a4"/>
<rect x="336.34" y="1021.78" width="24.21" height="24.21" fill="#8caf96"/>
<rect x="360.25" y="1021.78" width="24.21" height="24.21" fill="#97b88e"/>
<rect x="384.15" y="1021.78" width="24.21" height="24.21" fill="#82a79e"/>
<rect x="408.06" y="1021.78" width="24.21" height="24.21" fill="#709aab"/>
<rect x="431.96" y="1021.78" width="24.21" height="24.21" fill="#7aa1a4"/>
<rect x="455.87" y="1021.78" width="24.21" height="24.21" fill="#719aaa"/>
<rect x="479.77" y="1021.78" width="119.83" height="24.21" fill="#0000ff"/>
<rect x="599.30" y="1021.78" width="24.21" height="24.21" fill="#6893b1"/>
<rect x="623.21" y="1021.78" width="24.21" height="24.21" fill="#719aaa"/>
<rect x="647.11" y="1021.78" width="24.21" height="24.21" fill="#7aa1a3"/>
<rect x="671.02" y="1021.78" width="48.11" height="24.21" fill="#83a89d"/>
<rect x="718.83" y="1021.78" width="24.21" height="24.21" fill="#98b88e"/>
<rect x="742.74" y="1021.78" width="48.11" height="24.21" fill="#99b98d"/>
<rect x="790.55" y="1021.78" width="24.21" height="24.21" fill="#a4c285"/>
<rect x="814.45" y="1021.78" width="48.11" height="24.21" fill="#ff7604"/>
<rect x="862.26" y="1021.78" width="24.21" height="24.21" fill="#ff9408"/>
<rect x="886.17" y="1021.78" width="72.02" height="24.21" fill="#ff0000"/>
<rect x="957.89" y="1021.78" width="24.21" height="24.21" fill="#ff9408"/>
<rect x="981.79" y="1021.78" width="24.21" height="24.21" fill="#ff7604"/>
<rect x="1005.70" y="1021.78" width="24.21" height="24.21" fill="#ff9408"/>
<rect x="1029.60" y="1021.78" width="24.21" height="24.21" fill="#a3c186"/>
<rect x="1053.51" y="1021.78" width="48.11" height="24.21" fill="#97b88e"/>
<rect x="1101.32" y="1021.78" width="24.21" height="24.21" fill="#8caf96"/>
<rect x="1125.23" y="1021.78" width="24.21" height="24.21" fill="#82a79e"/>
<rect x="1149.13" y="1021.78" width="24.21" height="24.21" fill="#709aab"/>
<rect x="1173.04" y="1021.78" width="24.21" height="24.21" fill="#82a79e"/>
<rect x="1196.94" y="1021.78" width="24.21" height="24.21" fill="#709aab"/>
<rect x="1220.85" y="1021.78" width="24.21" height="24.21" fill="#82a79e"/>
<rect x="1244.75" y="1021.78" width="48.11" height="24.21" fill="#5d8ab9"/>
<rect x="1292.56" y="1021.78" width="24.21" height="24.21" fill="#709aab"/>
<rect x="1316.47" y="1021.78" width="24.21" height="24.21" fill="#81a69f"/>
<rect x="1340.38" y="1021.78" width="48.11" height="24.21" fill="#7099ab"/>
<rect x="1388.19" y="1021.78" width="48.11" height="24.21" fill="#8baf97"/>
<rect x="1436.00" y="1021.78" width="24.21" height="24.21" fill="#79a0a5"/>
<rect x="1459.90" y="1021.78" width="24.21" height="24.21" fill="#81a69f"/>
<rect x="1483.81" y="1021.78" width="24.21" height="24.21" fill="#a2c086"/>
<rect x="1507.72" y="1021.78" width="24.21" height="24.21" fill="#8baf97"/>
<rect x="1531.62" y="1021.78" width="24.21" height="24.21" fill="#79a0a5"/>
<rect x="1555.53" y="1021.78" width="24.21" height="24.21" fill="#8baf97"/>
<rect x="1579.43" y="1021.78" width="24.21" height="24.21" fill="#96b78f"/>
<rect x="1603.34" y="1021.78" width="24.21" height="24.21" fill="#8baf97"/>
<rect x="1627.24" y="1021.78" width="24.21" height="24.21" fill="#79a0a5"/>
<rect x="1651.15" y="1021.78" width="48.11" height="24.21" fill="#96b78f"/>
<rect x="1698.96" y="1021.78" width="48.11" height="24.21" fill="#7099ab"/>
<rect x="1746.77" y="1021.78" width="24.21" height="24.21" fill="#81a69f"/>
<rect x="1770.68" y="1021.78" width="24.21" height="24.21" fill="#6692b2"/>
<rect x="1794.58" y="1021.78" width="24.21" height="24.21" fill="#0000ff"/>
<rect x="1818.49" y="1021.78" width="48.11" height="24.21" fill="#5c8ab9"/>
<rect x="169.00" y="1045.69" width="24.21" height="24.21" fill="#709aab"/>
<rect x="192.91" y="1045.69" width="24.21" height="24.21" fill="#a3c186"/>
<rect x="216.81" y="1045.69" width="24.21" height="24.21" fill="#7aa1a4"/>
<rect x="240.72" y="1045.69" width="24.21" height="24.21" fill="#709aab"/>
<rect x="264.62" y="1045.69" width="48.11" height="24.21" fill="#97b88e"/>
<rect x="312.43" y="1045.69" width="48.11" height="24.21" fill="#709aab"/>
<rect x="360.25" y="1045.69" width="24.21" height="24.21" fill="#97b88e"/>
<rect x="384.15" y="1045.69" width="24.21" height="24.21" fill="#82a79e"/>
<rect x="408.06" y="1045.69" width="24.21" height="24.21" fill="#6792b2"/>
<rect x="431.96" y="1045.69" width="24.21" height="24.21" fill="#709aab"/>
<rect x="455.87" y="1045.69" width="24.21" height="24.21" fill="#7aa1a3"/>
<rect x="479.77" y="1045.69" width="48.11" height="24.21" fill="#0000ff"/>
<rect x="527.58" y="1045.69" width="24.21" height="24.21" fill="#5e8bb8"/>
<rect x="551.49" y="1045.69" width="48.11" height="24.21" fill="#0000ff"/>
<rect x="599.30" y="1045.69" width="24.21" height="24.21" fill="#719aaa"/>
<rect x="623.21" y="1045.69" width="24.21" height="24.21" fill="#7aa1a3"/>
<rect x="647.11" y="1045.69" width="48.11" height="24.21" fill="#83a89d"/>
<rect x="694.92" y="1045.69" width="24.21" height="24.21" fill="#8eb095"/>
<rect x="718.83" y="1045.69" width="24.21" height="24.21" fill="#a4c185"/>
<rect x="742.74" y="1045.69" width="24.21" height="24.21" fill="#99b98d"/>
<rect x="766.64" y="1045.69" width="24.21" height="24.21" fill="#a4c285"/>
<rect x="790.55" y="1045.69" width="48.11" height="24.21" fill="#ff7604"/>
<rect x="838.36" y="1045.69" width="24.21" height="24.21" fill="#ff9408"/>
<rect x="862.26" y="1045.69" width="72.02" height="24.21" fill="#ff0000"/>
<rect x="933.98" y="1045.69" width="24.21" height="24.21" fill="#ff9408"/>
<rect x="957.89" y="1045.69" width="48.11" height="24.21" fill="#ff7604"/>
<rect x="1005.70" y="1045.69" width="24.21" height="24.21" fill="#a4c285"/>
<rect x="1029.60" y="1045.69" width="24.21" height="24.21" fill="#97b88e"/>
<rect x="1053.51" y="1045.69" width="24.21" height="24.21" fill="#a3c186"/>
<rect x="1077.41" y="1045.69" width="24.21" height="24.21" fill="#8caf96"/>
<rect x="1101.32" y="1045.69" width="48.11" height="24.21" fill="#82a79e"/>
<rect x="1149.13" y="1045.69" width="24.21" height="24.21" fill="#709aab"/>
<rect x="1173.04" y="1045.69" width="24.21" height="24.21" fill="#97b88e"/>
<rect x="1196.94" y="1045.69" width="24.21" height="24.21" fill="#709aab"/>
<rect x="1220.85" y="1045.69" width="24.21" height="24.21" fill="#97b88e"/>
<rect x="1244.75" y="1045.69" width="72.02" height="24.21" fill="#709aab"/>
<rect x="1316.47" y="1045.69" width="24.21" height="24.21" fill="#81a69f"/>
<rect x="1340.38" y="1045.69" width="48.11" height="24.21" fill="#79a0a5"/>
<rect x="1388.19" y="1045.69" width="24.21" height="24.21" fill="#8baf97"/>
<rect x="1412.09" y="1045.69" width="24.21" height="24.21" fill="#a2c086"/>
<rect x="1436.00" y="1045.69" width="48.11" height="24.21" fill="#96b78f"/>
<rect x="1483.81" y="1045.69" width="24.21" height="24.21" fill="#ff9408"/>
<rect x="1507.72" y="1045.69" width="24.21" height="24.21" fill="#a2c086"/>
<rect x="1531.62" y="1045.69" width="24.21" height="24.21" fill="#96b78f"/>
<rect x="1555.53" y="1045.69" width="24.21" height="24.21" fill="#a2c086"/>
<rect x="1579.43" y="1045.69" width="24.21" height="24.21" fill="#ff7604"/>
<rect x="1603.34" y="1045.69" width="24.21" height="24.21" fill="#a2c086"/>
<rect x="1627.24" y="1045.69" width="24.21" height="24.21" fill="#96b78f"/>
<rect x="1651.15" y="1045.69" width="24.21" height="24.21" fill="#a2c086"/>
<rect x="1675.05" y="1045.69" width="24.21" height="24.21" fill="#acc87f"/>
<rect x="1698.96" y="1045.69" width="24.21" height="24.21" fill="#96b78f"/>
<rect x="1722.87" y="1045.69" width="24.21" height="24.21" fill="#8baf97"/>
<rect x="1746.77" y="1045.69" width="24.21" height="24.21" fill="#96b78f"/>
<rect x="1770.68" y="1045.69" width="24.21" height="24.21" fill="#8baf97"/>
<rect x="1794.58" y="1045.69" width="24.21" height="24.21" fill="#79a0a5"/>
<rect x="1818.49" y="1045.69" width="48.11" height="24.21" fill="#7099ab"/>
<rect x="169.00" y="1069.60" width="24.21" height="24.21" fill="#7aa1a4"/>
<rect x="192.91" y="1069.60" width="24.21" height="24.21" fill="#acc87f"/>
<rect x="216.81" y="1069.60" width="24.21" height="24.21" fill="#97b88e"/>
<rect x="240.72" y="1069.60" width="24.21" height="24.21" fill="#82a79e"/>
<rect x="264.62" y="1069.60" width="24.21" height="24.21" fill="#a3c186"/>
<rect x="288.53" y="1069.60" width="24.21" height="24.21" fill="#acc87f"/>
<rect x="312.43" y="1069.60" width="48.11" height="24.21" fill="#82a79e"/>
<rect x="360.25" y="1069.60" width="24.21" height="24.21" fill="#a3c186"/>
<rect x="384.15" y="1069.60" width="24.21" height="24.21" fill="#97b88e"/>
<rect x="408.06" y="1069.60" width="24.21" height="24.21" fill="#7aa1a4"/>
<rect x="431.96" y="1069.60" width="24.21" height="24.21" fill="#82a79e"/>
<rect x="455.87" y="1069.60" width="24.21" height="24.21" fill="#8eb095"/>
<rect x="479.77" y="1069.60" width="24.21" height="24.21" fill="#719aaa"/>
<rect x="503.68" y="1069.60" width="24.21" height="24.21" fill="#5e8bb8"/>
<rect x="527.58" y="1069.60" width="24.21" height="24.21" fill="#6893b1"/>
<rect x="551.49" y="1069.60" width="24.21" height="24.21" fill="#719aaa"/>
<rect x="575.40" y="1069.60" width="24.21" height="24.21" fill="#6893b1"/>
<rect x="599.30" y="1069.60" width="24.21" height="24.21" fill="#7aa1a3"/>
<rect x="623.21" y="1069.60" width="48.11" height="24.21" fill="#83a89d"/>
<rect x="671.02" y="1069.60" width="24.21" height="24.21" fill="#8eb095"/>
<rect x="694.92" y="1069.60" width="48.11" height="24.21" fill="#98b88e"/>
<rect x="742.74" y="1069.60" width="24.21" height="24.21" fill="#a4c285"/>
<rect x="766.64" y="1069.60" width="24.21" height="24.21" fill="#ff9408"/>
<rect x="790.55" y="1069.60" width="24.21" height="24.21" fill="#ff5000"/>
<rect x="814.45" y="1069.60" width="24.21" height="24.21" fill="#ff9408"/>
<rect x="838.36" y="1069.60" width="72.02" height="24.21" fill="#ff0000"/>
<rect x="910.07" y="1069.60" width="24.21" height="24.21" fill="#ff9408"/>
<rect x="933.98" y="1069.60" width="48.11" height="24.21" fill="#ff7604"/>
<rect x="981.79" y="1069.60" width="48.11" height="24.21" fill="#a4c285"/>
<rect x="1029.60" y="1069.60" width="24.21" height="24.21" fill="#97b88e"/>
<rect x="1053.51" y="1069.60" width="24.21" height="24.21" fill="#8caf96"/>
<rect x="1077.41" y="1069.60" width="48.11" height="24.21" fill="#82a79e"/>
<rect x="1125.23" y="1069.60" width="24.21" height="24.21" fill="#7aa1a4"/>
<rect x="1149.13" y="1069.60" width="24.21" height="24.21" fill="#5d8ab9"/>
<rect x="1173.04" y="1069.60" width="24.21" height="24.21" fill="#82a79e"/>
<rect x="1196.94" y="1069.60" width="24.21" height="24.21" fill="#6792b2"/>
<rect x="1220.85" y="1069.60" width="24.21" height="24.21" fill="#8caf96"/>
<rect x="1244.75" y="1069.60" width="24.21" height="24.21" fill="#709aab"/>
<rect x="1268.66" y="1069.60" width="24.21" height="24.21" fill="#7aa1a4"/>
<rect x="1292.56" y="1069.60" width="24.21" height="24.21" fill="#82a79e"/>
<rect x="1316.47" y="1069.60" width="48.11" height="24.21" fill="#81a69f"/>
<rect x="1364.28" y="1069.60" width="24.21" height="24.21" fill="#8baf97"/>
<rect x="1388.19" y="1069.60" width="24.21" height="24.21" fill="#96b78f"/>
<rect x="1412.09" y="1069.60" width="24.21" height="24.21" fill="#a2c086"/>
<rect x="1436.00" y="1069.60" width="24.21" height="24.21" fill="#96b78f"/>
<rect x="1459.90" y="1069.60" width="24.21" height="24.21" fill="#acc87f"/>
<rect x="1483.81" y="1069.60" width="24.21" height="24.21" fill="#ff7604"/>
<rect x="1507.72" y="1069.60" width="24.21" height="24.21" fill="#acc87f"/>
<rect x="1531.62" y="1069.60" width="24.21" height="24.21" fill="#a2c086"/>
<rect x="1555.53" y="1069.60" width="48.11" height="24.21" fill="#ff5000"/>
<rect x="1603.34" y="1069.60" width="48.11" height="24.21" fill="#acc87f"/>
<rect x="1651.15" y="1069.60" width="24.21" height="24.21" fill="#ff9408"/>
<rect x="1675.05" y="1069.60" width="24.21" height="24.21" fill="#acc87f"/>
<rect x="1698.96" y="1069.60" width="72.02" height="24.21" fill="#96b78f"/>
<rect x="1770.68" y="1069.60" width="24.21" height="24.21" fill="#8baf97"/>
<rect x="1794.58" y="1069.60" width="48.11" height="24.21" fill="#81a69f"/>
<rect x="1842.39" y="1069.60" width="24.21" height="24.21" fill="#7099ab"/>
<rect x="169.00" y="1093.50" width="24.21" height="24.21" fill="#a3c186"/>
<rect x="192.91" y="1093.50" width="24.21" height="24.21" fill="#ff7604"/>
<rect x="216.81" y="1093.50" width="24.21" height="24.21" fill="#acc87f"/>
<rect x="240.72" y="1093.50" width="24.21" height="24.21" fill="#a3c186"/>
<rect x="264.62" y="1093.50" width="48.11" height="24.21" fill="#ff7604"/>
<rect x="312.43" y="1093.50" width="48.11" height="24.21" fill="#a3c186"/>
<rect x="360.25" y="1093.50" width="24.21" height="24.21" fill="#ff9408"/>
<rect x="384.15" y="1093.50" width="24.21" height="24.21" fill="#a3c186"/>
<rect x="408.06" y="1093.50" width="24.21" height="24.21" fill="#82a79e"/>
<rect x="431.96" y="1093.50" width="24.21" height="24.21" fill="#97b88e"/>
<rect x="455.87" y="1093.50" width="24.21" height="24.21" fill="#98b88e"/>
<rect x="479.77" y="1093.50" width="24.21" height="24.21" fill="#7aa1a3"/>
<rect x="503.68" y="1093.50" width="24.21" height="24.21" fill="#719aaa"/>
<rect x="527.58" y="1093.50" width="24.21" height="24.21" fill="#7aa1a3"/>
<rect x="551.49" y="1093.50" width="24.21" height="24.21" fill="#719aaa"/>
<rect x="575.40" y="1093.50" width="24.21" height="24.21" fill="#6893b1"/>
<rect x="599.30" y="1093.50" width="24.21" height="24.21" fill="#8eb095"/>
<rect x="623.21" y="1093.50" width="24.21" height="24.21" fill="#83a89d"/>
<rect x="647.11" y="1093.50" width="24.21" height="24.21" fill="#8eb095"/>
<rect x="671.02" y="1093.50" width="48.11" height="24.21" fill="#98b88e"/>
<rect x="718.83" y="1093.50" width="24.21" height="24.21" fill="#a4c185"/>
<rect x="742.74" y="1093.50" width="24.21" height="24.21" fill="#ff9408"/>
<rect x="766.64" y="1093.50" width="48.11" height="24.21" fill="#ff7604"/>
<rect x="814.45" y="1093.50" width="72.02" height="24.21" fill="#ff0000"/>
<rect x="886.17" y="1093.50" width="24.21" height="24.21" fill="#ff9408"/>
<rect x="910.07" y="1093.50" width="24.21" height="24.21" fill="#ff7604"/>
<rect x="933.98" y="1093.50" width="24.21" height="24.21" fill="#ff9408"/>
<rect x="957.89" y="1093.50" width="24.21" height="24.21" fill="#a4c285"/>
<rect x="981.79" y="1093.50" width="24.21" height="24.21" fill="#99b98d"/>
<rect x="1005.70" y="1093.50" width="24.21" height="24.21" fill="#a4c285"/>
<rect x="1029.60" y="1093.50" width="24.21" height="24.21" fill="#97b88e"/>
<rect x="1053.51" y="1093.50" width="48.11" height="24.21" fill="#82a79e"/>
<rect x="1101.32" y="1093.50" width="24.21" height="24.21" fill="#7aa1a4"/>
<rect x="1125.23" y="1093.50" width="24.21" height="24.21" fill="#709aab"/>
<rect x="1149.13" y="1093.50" width="24.21" height="24.21" fill="#0000ff"/>
<rect x="1173.04" y="1093.50" width="24.21" height="24.21" fill="#7aa1a4"/>
<rect x="1196.94" y="1093.50" width="24.21" height="24.21" fill="#0000ff"/>
<rect x="1220.85" y="1093.50" width="24.21" height="24.21" fill="#7aa1a4"/>
<rect x="1244.75" y="1093.50" width="48.11" height="24.21" fill="#0000ff"/>
<rect x="1292.56" y="1093.50" width="24.21" height="24.21" fill="#709aab"/>
<rect x="1316.47" y="1093.50" width="24.21" height="24.21" fill="#7099ab"/>
<rect x="1340.38" y="1093.50" width="24.21" height="24.21" fill="#6692b2"/>
<rect x="1364.28" y="1093.50" width="24.21" height="24.21" fill="#7099ab"/>
<rect x="1388.19" y="1093.50" width="48.11" height="24.21" fill="#8baf97"/>
<rect x="1436.00" y="1093.50" width="24.21" height="24.21" fill="#79a0a5"/>
<rect x="1459.90" y="1093.50" width="24.21" height="24.21" fill="#8baf97"/>
<rect x="1483.81" y="1093.50" width="24.21" height="24.21" fill="#a2c086"/>
<rect x="1507.72" y="1093.50" width="24.21" height="24.21" fill="#8baf97"/>
<rect x="1531.62" y="1093.50" width="24.21" height="24.21" fill="#81a69f"/>
<rect x="1555.53" y="1093.50" width="48.11" height="24.21" fill="#acc87f"/>
<rect x="1603.34" y="1093.50" width="48.11" height="24.21" fill="#8baf97"/>
<rect x="1651.15" y="1093.50" width="24.21" height="24.21" fill="#acc87f"/>
<rect x="1675.05" y="1093.50" width="24.21" height="24.21" fill="#96b78f"/>
<rect x="1698.96" y="1093.50" width="24.21" height="24.21" fill="#81a69f"/>
<rect x="1722.87" y="1093.50" width="48.11" height="24.21" fill="#96b78f"/>
<rect x="1770.68" y="1093.50" width="24.21" height="24.21" fill="#79a0a5"/>
<rect x="1794.58" y="1093.50" width="24.21" height="24.21" fill="#7099ab"/>
<rect x="1818.49" y="1093.50" width="24.21" height="24.21" fill="#79a0a5"/>
<rect x="1842.39" y="1093.50" width="24.21" height="24.21" fill="#7099ab"/>
<rect x="169.00" y="1117.41" width="24.21" height="24.21" fill="#7aa1a4"/>
<rect x="192.91" y="1117.41" width="24.21" height="24.21" fill="#a3c186"/>
<rect x="216.81" y="1117.41" width="48.11" height="24.21" fill="#82a79e"/>
<rect x="264.62" y="1117.41" width="24.21" height="24.21" fill="#acc87f"/>
<rect x="288.53" y="1117.41" width="24.21" height="24.21" fill="#97b88e"/>
<rect x="312.43" y="1117.41" width="24.21" height="24.21" fill="#709aab"/>
<rect x="336.34" y="1117.41" width="24.21" height="24.21" fill="#97b88e"/>
<rect x="360.25" y="1117.41" width="24.21" height="24.21" fill="#a3c186"/>
<rect x="384.15" y="1117.41" width="24.21" height="24.21" fill="#8caf96"/>
<rect x="408.06" y="1117.41" width="24.21" height="24.21" fill="#709aab"/>
<rect x="431.96" y="1117.41" width="24.21" height="24.21" fill="#8caf96"/>
<rect x="455.87" y="1117.41" width="24.21" height="24.21" fill="#8eb095"/>
<rect x="479.77" y="1117.41" width="24.21" height="24.21" fill="#719aaa"/>
<rect x="503.68" y="1117.41" width="24.21" height="24.21" fill="#6893b1"/>
<rect x="527.58" y="1117.41" width="24.21" height="24.21" fill="#7aa1a3"/>
<rect x="551.49" y="1117.41" width="48.11" height="24.21" fill="#719aaa"/>
<rect x="599.30" y="1117.41" width="48.11" height="24.21" fill="#8eb095"/>
<rect x="647.11" y="1117.41" width="24.21" height="24.21" fill="#a4c185"/>
<rect x="671.02" y="1117.41" width="24.21" height="24.21" fill="#98b88e"/>
<rect x="694.92" y="1117.41" width="24.21" height="24.21" fill="#a4c185"/>
<rect x="718.83" y="1117.41" width="24.21" height="24.21" fill="#ff9408"/>
<rect x="742.74" y="1117.41" width="24.21" height="24.21" fill="#ff7604"/>
<rect x="766.64" y="1117.41" width="24.21" height="24.21" fill="#ff9408"/>
<rect x="790.55" y="1117.41" width="72.02" height="24.21" fill="#ff0000"/>
<rect x="862.26" y="1117.41" width="24.21" height="24.21" fill="#ff9408"/>
<rect x="886.17" y="1117.41" width="48.11" height="24.21" fill="#ff7604"/>
<rect x="933.98" y="1117.41" width="24.21" height="24.21" fill="#a4c285"/>
<rect x="957.89" y="1117.41" width="24.21" height="24.21" fill="#99b98d"/>
<rect x="981.79" y="1117.41" width="24.21" height="24.21" fill="#a4c285"/>
<rect x="1005.70" y="1117.41" width="24.21" height="24.21" fill="#8fb194"/>
<rect x="1029.60" y="1117.41" width="72.02" height="24.21" fill="#82a79e"/>
<rect x="1101.32" y="1117.41" width="24.21" height="24.21" fill="#709aab"/>
<rect x="1125.23" y="1117.41" width="24.21" height="24.21" fill="#5d8ab9"/>
<rect x="1149.13" y="1117.41" width="24.21" height="24.21" fill="#0000ff"/>
<rect x="1173.04" y="1117.41" width="24.21" height="24.21" fill="#709aab"/>
<rect x="1196.94" y="1117.41" width="24.21" height="24.21" fill="#0000ff"/>
<rect x="1220.85" y="1117.41" width="24.21" height="24.21" fill="#709aab"/>
<rect x="1244.75" y="1117.41" width="72.02" height="24.21" fill="#0000ff"/>
<rect x="1316.47" y="1117.41" width="24.21" height="24.21" fill="#6692b2"/>
<rect x="1340.38" y="1117.41" width="48.11" height="24.21" fill="#5c8ab9"/>
<rect x="1388.19" y="1117.41" width="48.11" height="24.21" fill="#79a0a5"/>
<rect x="1436.00" y="1117.41" width="24.21" height="24.21" fill="#7099ab"/>
<rect x="1459.90" y="1117.41" width="24.21" height="24.21" fill="#79a0a5"/>
<rect x="1483.81" y="1117.41" width="24.21" height="24.21" fill="#96b78f"/>
<rect x="1507.72" y="1117.41" width="24.21" height="24.21" fill="#8baf97"/>
<rect x="1531.62" y="1117.41" width="24.21" height="24.21" fill="#79a0a5"/>
<rect x="1555.53" y="1117.41" width="24.21" height="24.21" fill="#96b78f"/>
<rect x="1579.43" y="1117.41" width="24.21" height="24.21" fill="#acc87f"/>
<rect x="1603.34" y="1117.41" width="48.11" height="24.21" fill="#96b78f"/>
<rect x="1651.15" y="1117.41" width="48.11" height="24.21" fill="#acc87f"/>
<rect x="1698.96" y="1117.41" width="48.11" height="24.21" fill="#8baf97"/>
<rect x="1746.77" y="1117.41" width="24.21" height="24.21" fill="#acc87f"/>
<rect x="1770.68" y="1117.41" width="24.21" height="24.21" fill="#8baf97"/>
<rect x="1794.58" y="1117.41" width="24.21" height="24.21" fill="#79a0a5"/>
<rect x="1818.49" y="1117.41" width="48.11" height="24.21" fill="#81a69f"/>
<rect x="169.00" y="1141.32" width="24.21" height="24.21" fill="#709aab"/>
<rect x="192.91" y="1141.32" width="24.21" height="24.21" fill="#a3c186"/>
<rect x="216.81" y="1141.32" width="24.21" height="24.21" fill="#82a79e"/>
<rect x="240.72" y="1141.32" width="24.21" height="24.21" fill="#7aa1a4"/>
<rect x="264.62" y="1141.32" width="24.21" height="24.21" fill="#a3c186"/>
<rect x="288.53" y="1141.32" width="24.21" height="24.21" fill="#acc87f"/>
<rect x="312.43" y="1141.32" width="48.11" height="24.21" fill="#82a79e"/>
<rect x="360.25" y="1141.32" width="24.21" height="24.21" fill="#acc87f"/>
<rect x="384.15" y="1141.32" width="24.21" height="24.21" fill="#97b88e"/>
<rect x="408.06" y="1141.32" width="24.21" height="24.21" fill="#7aa1a4"/>
<rect x="431.96" y="1141.32" width="24.21" height="24.21" fill="#97b88e"/>
<rect x="455.87" y="1141.32" width="24.21" height="24.21" fill="#98b88e"/>
<rect x="479.77" y="1141.32" width="24.21" height="24.21" fill="#7aa1a3"/>
<rect x="503.68" y="1141.32" width="24.21" height="24.21" fill="#719aaa"/>
<rect x="527.58" y="1141.32" width="48.11" height="24.21" fill="#83a89d"/>
<rect x="575.40" y="1141.32" width="24.21" height="24.21" fill="#7aa1a3"/>
<rect x="599.30" y="1141.32" width="24.21" height="24.21" fill="#8eb095"/>
<rect x="623.21" y="1141.32" width="48.11" height="24.21" fill="#98b88e"/>
<rect x="671.02" y="1141.32" width="24.21" height="24.21" fill="#a4c185"/>
<rect x="694.92" y="1141.32" width="72.02" height="24.21" fill="#ff9408"/>
<rect x="766.64" y="1141.32" width="72.02" height="24.21" fill="#ff0000"/>
<rect x="838.36" y="1141.32" width="24.21" height="24.21" fill="#ff7604"/>
<rect x="862.26" y="1141.32" width="24.21" height="24.21" fill="#ff5000"/>
<rect x="886.17" y="1141.32" width="24.21" height="24.21" fill="#ff7604"/>
<rect x="910.07" y="1141.32" width="24.21" height="24.21" fill="#aec97e"/>
<rect x="933.98" y="1141.32" width="48.11" height="24.21" fill="#a4c285"/>
<rect x="981.79" y="1141.32" width="24.21" height="24.21" fill="#99b98d"/>
<rect x="1005.70" y="1141.32" width="24.21" height="24.21" fill="#8fb194"/>
<rect x="1029.60" y="1141.32" width="48.11" height="24.21" fill="#82a79e"/>
<rect x="1077.41" y="1141.32" width="24.21" height="24.21" fill="#709aab"/>
<rect x="1101.32" y="1141.32" width="24.21" height="24.21" fill="#6792b2"/>
<rect x="1125.23" y="1141.32" width="24.21" height="24.21" fill="#5d8ab9"/>
<rect x="1149.13" y="1141.32" width="24.21" height="24.21" fill="#0000ff"/>
<rect x="1173.04" y="1141.32" width="24.21" height="24.21" fill="#709aab"/>
<rect x="1196.94" y="1141.32" width="24.21" height="24.21" fill="#0000ff"/>
<rect x="1220.85" y="1141.32" width="24.21" height="24.21" fill="#7aa1a4"/>
<rect x="1244.75" y="1141.32" width="48.11" height="24.21" fill="#0000ff"/>
<rect x="1292.56" y="1141.32" width="24.21" height="24.21" fill="#6792b2"/>
<rect x="1316.47" y="1141.32" width="48.11" height="24.21" fill="#6692b2"/>
<rect x="1364.28" y="1141.32" width="24.21" height="24.21" fill="#7099ab"/>
<rect x="1388.19" y="1141.32" width="24.21" height="24.21" fill="#81a69f"/>
<rect x="1412.09" y="1141.32" width="24.21" height="24.21" fill="#96b78f"/>
<rect x="1436.00" y="1141.32" width="24.21" height="24.21" fill="#81a69f"/>
<rect x="1459.90" y="1141.32" width="24.21" height="24.21" fill="#96b78f"/>
<rect x="1483.81" y="1141.32" width="48.11" height="24.21" fill="#a2c086"/>
<rect x="1531.62" y="1141.32" width="24.21" height="24.21" fill="#96b78f"/>
<rect x="1555.53" y="1141.32" width="24.21" height="24.21" fill="#ff9408"/>
<rect x="1579.43" y="1141.32" width="24.21" height="24.21" fill="#ff5000"/>
<rect x="1603.34" y="1141.32" width="48.11" height="24.21" fill="#acc87f"/>
<rect x="1651.15" y="1141.32" width="24.21" height="24.21" fill="#ff5000"/>
<rect x="1675.05" y="1141.32" width="24.21" height="24.21" fill="#ff7604"/>
<rect x="1698.96" y="1141.32" width="24.21" height="24.21" fill="#a2c086"/>
<rect x="1722.87" y="1141.32" width="48.11" height="24.21" fill="#acc87f"/>
<rect x="1770.68" y="1141.32" width="24.21" height="24.21" fill="#a2c086"/>
<rect x="1794.58" y="1141.32" width="24.21" height="24.21" fill="#8baf97"/>
<rect x="1818.49" y="1141.32" width="24.21" height="24.21" fill="#96b78f"/>
<rect x="1842.39" y="1141.32" width="24.21" height="24.21" fill="#8baf97"/>
<rect x="169.00" y="1165.23" width="24.21" height="24.21" fill="#7aa1a4"/>
<rect x="192.91" y="1165.23" width="24.21" height="24.21" fill="#a3c186"/>
<rect x="216.81" y="1165.23" width="24.21" height="24.21" fill="#97b88e"/>
<rect x="240.72" y="1165.23" width="24.21" height="24.21" fill="#8caf96"/>
<rect x="264.62" y="1165.23" width="24.21" height="24.21" fill="#acc87f"/>
<rect x="288.53" y="1165.23" width="24.21" height="24.21" fill="#ff7604"/>
<rect x="312.43" y="1165.23" width="24.21" height="24.21" fill="#97b88e"/>
<rect x="336.34" y="1165.23" width="24.21" height="24.21" fill="#a3c186"/>
<rect x="360.25" y="1165.23" width="24.21" height="24.21" fill="#ff7604"/>
<rect x="384.15" y="1165.23" width="24.21" height="24.21" fill="#acc87f"/>
<rect x="408.06" y="1165.23" width="24.21" height="24.21" fill="#97b88e"/>
<rect x="431.96" y="1165.23" width="24.21" height="24.21" fill="#a3c186"/>
<rect x="455.87" y="1165.23" width="24.21" height="24.21" fill="#adc97e"/>
<rect x="479.77" y="1165.23" width="24.21" height="24.21" fill="#8eb095"/>
<rect x="503.68" y="1165.23" width="24.21" height="24.21" fill="#83a89d"/>
<rect x="527.58" y="1165.23" width="48.11" height="24.21" fill="#8eb095"/>
<rect x="575.40" y="1165.23" width="24.21" height="24.21" fill="#83a89d"/>
<rect x="599.30" y="1165.23" width="24.21" height="24.21" fill="#a4c185"/>
<rect x="623.21" y="1165.23" width="24.21" height="24.21" fill="#98b88e"/>
<rect x="647.11" y="1165.23" width="24.21" height="24.21" fill="#a4c185"/>
<rect x="671.02" y="1165.23" width="24.21" height="24.21" fill="#ff9408"/>
<rect x="694.92" y="1165.23" width="24.21" height="24.21" fill="#ff7604"/>
<rect x="718.83" y="1165.23" width="24.21" height="24.21" fill="#ff9408"/>
<rect x="742.74" y="1165.23" width="72.02" height="24.21" fill="#ff0000"/>
<rect x="814.45" y="1165.23" width="24.21" height="24.21" fill="#ff9408"/>
<rect x="838.36" y="1165.23" width="24.21" height="24.21" fill="#ff7604"/>
<rect x="862.26" y="1165.23" width="24.21" height="24.21" fill="#ff9408"/>
<rect x="886.17" y="1165.23" width="24.21" height="24.21" fill="#a4c285"/>
<rect x="910.07" y="1165.23" width="48.11" height="24.21" fill="#99b98d"/>
<rect x="957.89" y="1165.23" width="24.21" height="24.21" fill="#8fb194"/>
<rect x="981.79" y="1165.23" width="48.11" height="24.21" fill="#7ba2a3"/>
<rect x="1029.60" y="1165.23" width="24.21" height="24.21" fill="#82a79e"/>
<rect x="1053.51" y="1165.23" width="24.21" height="24.21" fill="#7aa1a4"/>
<rect x="1077.41" y="1165.23" width="24.21" height="24.21" fill="#5d8ab9"/>
<rect x="1101.32" y="1165.23" width="119.83" height="24.21" fill="#0000ff"/>
<rect x="1220.85" y="1165.23" width="24.21" height="24.21" fill="#6792b2"/>
<rect x="1244.75" y="1165.23" width="72.02" height="24.21" fill="#0000ff"/>
<rect x="1316.47" y="1165.23" width="24.21" height="24.21" fill="#5c8ab9"/>
<rect x="1340.38" y="1165.23" width="24.21" height="24.21" fill="#0000ff"/>
<rect x="1364.28" y="1165.23" width="24.21" height="24.21" fill="#7099ab"/>
<rect x="1388.19" y="1165.23" width="72.02" height="24.21" fill="#79a0a5"/>
<rect x="1459.90" y="1165.23" width="24.21" height="24.21" fill="#81a69f"/>
<rect x="1483.81" y="1165.23" width="24.21" height="24.21" fill="#96b78f"/>
<rect x="1507.72" y="1165.23" width="48.11" height="24.21" fill="#8baf97"/>
<rect x="1555.53" y="1165.23" width="48.11" height="24.21" fill="#acc87f"/>
<rect x="1603.34" y="1165.23" width="24.21" height="24.21" fill="#a2c086"/>
<rect x="1627.24" y="1165.23" width="24.21" height="24.21" fill="#acc87f"/>
<rect x="1651.15" y="1165.23" width="24.21" height="24.21" fill="#ff5000"/>
<rect x="1675.05" y="1165.23" width="24.21" height="24.21" fill="#acc87f"/>
<rect x="1698.96" y="1165.23" width="24.21" height="24.21" fill="#a2c086"/>
<rect x="1722.87" y="1165.23" width="48.11" height="24.21" fill="#acc87f"/>
<rect x="1770.68" y="1165.23" width="24.21" height="24.21" fill="#96b78f"/>
<rect x="1794.58" y="1165.23" width="24.21" height="24.21" fill="#8baf97"/>
<rect x="1818.49" y="1165.23" width="24.21" height="24.21" fill="#96b78f"/>
<rect x="1842.39" y="1165.23" width="24.21" height="24.21" fill="#8baf97"/>
<rect x="169.00" y="1189.14" width="24.21" height="24.21" fill="#7aa1a4"/>
<rect x="192.91" y="1189.14" width="24.21" height="24.21" fill="#a3c186"/>
<rect x="216.81" y="1189.14" width="24.21" height="24.21" fill="#82a79e"/>
<rect x="240.72" y="1189.14" width="24.21" height="24.21" fill="#8caf96"/>
<rect x="264.62" y="1189.14" width="48.11" height="24.21" fill="#acc87f"/>
<rect x="312.43" y="1189.14" width="24.21" height="24.21" fill="#8caf96"/>
<rect x="336.34" y="1189.14" width="24.21" height="24.21" fill="#a3c186"/>
<rect x="360.25" y="1189.14" width="24.21" height="24.21" fill="#ff7604"/>
<rect x="384.15" y="1189.14" width="24.21" height="24.21" fill="#97b88e"/>
<rect x="408.06" y="1189.14" width="24.21" height="24.21" fill="#8caf96"/>
<rect x="431.96" y="1189.14" width="24.21" height="24.21" fill="#acc87f"/>
<rect x="455.87" y="1189.14" width="24.21" height="24.21" fill="#a4c185"/>
<rect x="479.77" y="1189.14" width="24.21" height="24.21" fill="#8eb095"/>
<rect x="503.68" y="1189.14" width="24.21" height="24.21" fill="#83a89d"/>
<rect x="527.58" y="1189.14" width="24.21" height="24.21" fill="#98b88e"/>
<rect x="551.49" y="1189.14" width="48.11" height="24.21" fill="#83a89d"/>
<rect x="599.30" y="1189.14" width="24.21" height="24.21" fill="#adc97e"/>
<rect x="623.21" y="1189.14" width="24.21" height="24.21" fill="#a4c185"/>
<rect x="647.11" y="1189.14" width="48.11" height="24.21" fill="#ff7604"/>
<rect x="694.92" y="1189.14" width="24.21" height="24.21" fill="#ff9408"/>
<rect x="718.83" y="1189.14" width="72.02" height="24.21" fill="#ff0000"/>
<rect x="790.55" y="1189.14" width="24.21" height="24.21" fill="#ff9408"/>
<rect x="814.45" y="1189.14" width="24.21" height="24.21" fill="#ff7604"/>
<rect x="838.36" y="1189.14" width="24.21" height="24.21" fill="#ff9408"/>
<rect x="862.26" y="1189.14" width="24.21" height="24.21" fill="#a4c285"/>
<rect x="886.17" y="1189.14" width="24.21" height="24.21" fill="#99b98d"/>
<rect x="910.07" y="1189.14" width="48.11" height="24.21" fill="#8fb194"/>
<rect x="957.89" y="1189.14" width="48.11" height="24.21" fill="#7ba2a3"/>
<rect x="1005.70" y="1189.14" width="24.21" height="24.21" fill="#729baa"/>
<rect x="1029.60" y="1189.14" width="48.11" height="24.21" fill="#6792b2"/>
<rect x="1077.41" y="1189.14" width="24.21" height="24.21" fill="#5d8ab9"/>
<rect x="1101.32" y="1189.14" width="287.17" height="24.21" fill="#0000ff"/>
<rect x="1388.19" y="1189.14" width="24.21" height="24.21" fill="#5c8ab9"/>
<rect x="1412.09" y="1189.14" width="24.21" height="24.21" fill="#6692b2"/>
<rect x="1436.00" y="1189.14" width="24.21" height="24.21" fill="#5c8ab9"/>
<rect x="1459.90" y="1189.14" width="24.21" height="24.21" fill="#7099ab"/>
<rect x="1483.81" y="1189.14" width="72.02" height="24.21" fill="#79a0a5"/>
<rect x="1555.53" y="1189.14" width="24.21" height="24.21" fill="#8baf97"/>
<rect x="1579.43" y="1189.14" width="24.21" height="24.21" fill="#96b78f"/>
<rect x="1603.34" y="1189.14" width="24.21" height="24.21" fill="#79a0a5"/>
<rect x="1627.24" y="1189.14" width="24.21" height="24.21" fill="#8baf97"/>
<rect x="1651.15" y="1189.14" width="24.21" height="24.21" fill="#acc87f"/>
<rect x="1675.05" y="1189.14" width="24.21" height="24.21" fill="#96b78f"/>
<rect x="1698.96" y="1189.14" width="24.21" height="24.21" fill="#81a69f"/>
<rect x="1722.87" y="1189.14" width="24.21" height="24.21" fill="#96b78f"/>
<rect x="1746.77" y="1189.14" width="24.21" height="24.21" fill="#acc87f"/>
<rect x="1770.68" y="1189.14" width="24.21" height="24.21" fill="#81a69f"/>
<rect x="1794.58" y="1189.14" width="24.21" height="24.21" fill="#79a0a5"/>
<rect x="1818.49" y="1189.14" width="48.11" height="24.21" fill="#96b78f"/>
<rect x="169.00" y="1213.05" width="24.21" height="24.21" fill="#739ca9"/>
<rect x="192.91" y="1213.05" width="24.21" height="24.21" fill="#87ab9a"/>
<rect x="216.81" y="1213.05" width="48.11" height="24.21" fill="#739ca9"/>
<rect x="264.62" y="1213.05" width="48.11" height="24.21" fill="#9bbb8b"/>
<rect x="312.43" y="1213.05" width="24.21" height="24.21" fill="#739ca9"/>
<rect x="336.34" y="1213.05" width="24.21" height="24.21" fill="#87ab9a"/>
<rect x="360.25" y="1213.05" width="24.21" height="24.21" fill="#a5c384"/>
<rect x="384.15" y="1213.05" width="24.21" height="24.21" fill="#87ab9a"/>
<rect x="408.06" y="1213.05" width="24.21" height="24.21" fill="#7da3a1"/>
<rect x="431.96" y="1213.05" width="24.21" height="24.21" fill="#9bbb8b"/>
<rect x="455.87" y="1213.05" width="24.21" height="24.21" fill="#9cbb8b"/>
<rect x="479.77" y="1213.05" width="24.21" height="24.21" fill="#7ea4a1"/>
<rect x="503.68" y="1213.05" width="24.21" height="24.21" fill="#88ac99"/>
<rect x="527.58" y="1213.05" width="24.21" height="24.21" fill="#9cbb8b"/>
<rect x="551.49" y="1213.05" width="24.21" height="24.21" fill="#92b492"/>
<rect x="575.40" y="1213.05" width="24.21" height="24.21" fill="#9cbb8b"/>
<rect x="599.30" y="1213.05" width="24.21" height="24.21" fill="#b0cb7c"/>
<rect x="623.21" y="1213.05" width="48.11" height="24.21" fill="#ff7604"/>
<rect x="671.02" y="1213.05" width="24.21" height="24.21" fill="#ff9408"/>
<rect x="694.92" y="1213.05" width="72.02" height="24.21" fill="#ff0000"/>
<rect x="766.64" y="1213.05" width="72.02" height="24.21" fill="#ff9408"/>
<rect x="838.36" y="1213.05" width="24.21" height="24.21" fill="#a4c185"/>
<rect x="862.26" y="1213.05" width="24.21" height="24.21" fill="#98b88e"/>
<rect x="886.17" y="1213.05" width="24.21" height="24.21" fill="#a4c185"/>
<rect x="910.07" y="1213.05" width="24.21" height="24.21" fill="#98b88e"/>
<rect x="933.98" y="1213.05" width="72.02" height="24.21" fill="#83a89d"/>
<rect x="1005.70" y="1213.05" width="24.21" height="24.21" fill="#719aaa"/>
<rect x="1029.60" y="1213.05" width="48.11" height="24.21" fill="#5d8ab9"/>
<rect x="1077.41" y="1213.05" width="334.98" height="24.21" fill="#0000ff"/>
<rect x="1412.09" y="1213.05" width="24.21" height="24.21" fill="#6490b4"/>
<rect x="1436.00" y="1213.05" width="24.21" height="24.21" fill="#5a88bb"/>
<rect x="1459.90" y="1213.05" width="24.21" height="24.21" fill="#6d97ad"/>
<rect x="1483.81" y="1213.05" width="72.02" height="24.21" fill="#759da7"/>
<rect x="1555.53" y="1213.05" width="24.21" height="24.21" fill="#92b492"/>
<rect x="1579.43" y="1213.05" width="24.21" height="24.21" fill="#a0bf88"/>
<rect x="1603.34" y="1213.05" width="48.11" height="24.21" fill="#92b492"/>
<rect x="1651.15" y="1213.05" width="48.11" height="24.21" fill="#ff9408"/>
<rect x="1698.96" y="1213.05" width="24.21" height="24.21" fill="#92b492"/>
<rect x="1722.87" y="1213.05" width="24.21" height="24.21" fill="#a9c681"/>
<rect x="1746.77" y="1213.05" width="24.21" height="24.21" fill="#ff5000"/>
<rect x="1770.68" y="1213.05" width="24.21" height="24.21" fill="#a9c681"/>
<rect x="1794.58" y="1213.05" width="24.21" height="24.21" fill="#92b492"/>
<rect x="1818.49" y="1213.05" width="24.21" height="24.21" fill="#a0bf88"/>
<rect x="1842.39" y="1213.05" width="24.21" height="24.21" fill="#a9c681"/>
<rect x="169.00" y="1236.96" width="24.21" height="24.21" fill="#739ca9"/>
<rect x="192.91" y="1236.96" width="24.21" height="24.21" fill="#87ab9a"/>
<rect x="216.81" y="1236.96" width="24.21" height="24.21" fill="#7da3a1"/>
<rect x="240.72" y="1236.96" width="24.21" height="24.21" fill="#739ca9"/>
<rect x="264.62" y="1236.96" width="24.21" height="24.21" fill="#9bbb8b"/>
<rect x="288.53" y="1236.96" width="24.21" height="24.21" fill="#a5c384"/>
<rect x="312.43" y="1236.96" width="24.21" height="24.21" fill="#7da3a1"/>
<rect x="336.34" y="1236.96" width="24.21" height="24.21" fill="#87ab9a"/>
<rect x="360.25" y="1236.96" width="24.21" height="24.21" fill="#afca7d"/>
<rect x="384.15" y="1236.96" width="24.21" height="24.21" fill="#9bbb8b"/>
<rect x="408.06" y="1236.96" width="24.21" height="24.21" fill="#87ab9a"/>
<rect x="431.96" y="1236.96" width="24.21" height="24.21" fill="#9bbb8b"/>
<rect x="455.87" y="1236.96" width="24.21" height="24.21" fill="#ff9408"/>
<rect x="479.77" y="1236.96" width="24.21" height="24.21" fill="#9cbb8b"/>
<rect x="503.68" y="1236.96" width="24.21" height="24.21" fill="#92b492"/>
<rect x="527.58" y="1236.96" width="24.21" height="24.21" fill="#9cbb8b"/>
<rect x="551.49" y="1236.96" width="48.11" height="24.21" fill="#a6c383"/>
<rect x="599.30" y="1236.96" width="24.21" height="24.21" fill="#ff9408"/>
<rect x="623.21" y="1236.96" width="24.21" height="24.21" fill="#ff7604"/>
<rect x="647.11" y="1236.96" width="24.21" height="24.21" fill="#ff9408"/>
<rect x="671.02" y="1236.96" width="72.02" height="24.21" fill="#ff0000"/>
<rect x="742.74" y="1236.96" width="24.21" height="24.21" fill="#ff9408"/>
<rect x="766.64" y="1236.96" width="24.21" height="24.21" fill="#ff7604"/>
<rect x="790.55" y="1236.96" width="24.21" height="24.21" fill="#ff9408"/>
<rect x="814.45" y="1236.96" width="24.21" height="24.21" fill="#a4c185"/>
<rect x="838.36" y="1236.96" width="48.11" height="24.21" fill="#98b88e"/>
<rect x="886.17" y="1236.96" width="24.21" height="24.21" fill="#8eb095"/>
<rect x="910.07" y="1236.96" width="48.11" height="24.21" fill="#83a89d"/>
<rect x="957.89" y="1236.96" width="24.21" height="24.21" fill="#7aa1a3"/>
<rect x="981.79" y="1236.96" width="24.21" height="24.21" fill="#719aaa"/>
<rect x="1005.70" y="1236.96" width="24.21" height="24.21" fill="#5e8bb8"/>
<rect x="1029.60" y="1236.96" width="358.88" height="24.21" fill="#0000ff"/>
<rect x="1388.19" y="1236.96" width="48.11" height="24.21" fill="#5a88bb"/>
<rect x="1436.00" y="1236.96" width="24.21" height="24.21" fill="#6490b4"/>
<rect x="1459.90" y="1236.96" width="72.02" height="24.21" fill="#759da7"/>
<rect x="1531.62" y="1236.96" width="24.21" height="24.21" fill="#7ca3a2"/>
<rect x="1555.53" y="1236.96" width="24.21" height="24.21" fill="#92b492"/>
<rect x="1579.43" y="1236.96" width="48.11" height="24.21" fill="#a0bf88"/>
<rect x="1627.24" y="1236.96" width="24.21" height="24.21" fill="#a9c681"/>
<rect x="1651.15" y="1236.96" width="24.21" height="24.21" fill="#ff5000"/>
<rect x="1675.05" y="1236.96" width="24.21" height="24.21" fill="#ff9408"/>
<rect x="1698.96" y="1236.96" width="24.21" height="24.21" fill="#a9c681"/>
<rect x="1722.87" y="1236.96" width="48.11" height="24.21" fill="#ff5000"/>
<rect x="1770.68" y="1236.96" width="48.11" height="24.21" fill="#a9c681"/>
<rect x="1818.49" y="1236.96" width="24.21" height="24.21" fill="#ff9408"/>
<rect x="1842.39" y="1236.96" width="24.21" height="24.21" fill="#a0bf88"/>
<rect x="169.00" y="1260.86" width="24.21" height="24.21" fill="#7da3a1"/>
<rect x="192.91" y="1260.86" width="72.02" height="24.21" fill="#87ab9a"/>
<rect x="264.62" y="1260.86" width="48.11" height="24.21" fill="#a5c384"/>
<rect x="312.43" y="1260.86" width="24.21" height="24.21" fill="#9bbb8b"/>
<rect x="336.34" y="1260.86" width="24.21" height="24.21" fill="#a5c384"/>
<rect x="360.25" y="1260.86" width="24.21" height="24.21" fill="#ff7604"/>
<rect x="384.15" y="1260.86" width="24.21" height="24.21" fill="#afca7d"/>
<rect x="408.06" y="1260.86" width="24.21" height="24.21" fill="#a5c384"/>
<rect x="431.96" y="1260.86" width="48.11" height="24.21" fill="#ff7604"/>
<rect x="479.77" y="1260.86" width="48.11" height="24.21" fill="#a6c383"/>
<rect x="527.58" y="1260.86" width="24.21" height="24.21" fill="#ff9408"/>
<rect x="551.49" y="1260.86" width="48.11" height="24.21" fill="#a6c383"/>
<rect x="599.30" y="1260.86" width="24.21" height="24.21" fill="#ff5000"/>
<rect x="623.21" y="1260.86" width="24.21" height="24.21" fill="#ff9408"/>
<rect x="647.11" y="1260.86" width="72.02" height="24.21" fill="#ff0000"/>
<rect x="718.83" y="1260.86" width="24.21" height="24.21" fill="#ff9408"/>
<rect x="742.74" y="1260.86" width="24.21" height="24.21" fill="#ff7604"/>
<rect x="766.64" y="1260.86" width="24.21" height="24.21" fill="#ff9408"/>
<rect x="790.55" y="1260.86" width="24.21" height="24.21" fill="#a4c185"/>
<rect x="814.45" y="1260.86" width="48.11" height="24.21" fill="#98b88e"/>
<rect x="862.26" y="1260.86" width="24.21" height="24.21" fill="#8eb095"/>
<rect x="886.17" y="1260.86" width="48.11" height="24.21" fill="#83a89d"/>
<rect x="933.98" y="1260.86" width="48.11" height="24.21" fill="#7aa1a3"/>
<rect x="981.79" y="1260.86" width="24.21" height="24.21" fill="#6893b1"/>
<rect x="1005.70" y="1260.86" width="24.21" height="24.21" fill="#5e8bb8"/>
<rect x="1029.60" y="1260.86" width="430.60" height="24.21" fill="#0000ff"/>
<rect x="1459.90" y="1260.86" width="24.21" height="24.21" fill="#5a88bb"/>
<rect x="1483.81" y="1260.86" width="24.21" height="24.21" fill="#6d97ad"/>
<rect x="1507.72" y="1260.86" width="24.21" height="24.21" fill="#6490b4"/>
<rect x="1531.62" y="1260.86" width="24.21" height="24.21" fill="#6d97ad"/>
<rect x="1555.53" y="1260.86" width="48.11" height="24.21" fill="#87ab9a"/>
<rect x="1603.34" y="1260.86" width="24.21" height="24.21" fill="#7ca3a2"/>
<rect x="1627.24" y="1260.86" width="24.21" height="24.21" fill="#92b492"/>
<rect x="1651.15" y="1260.86" width="24.21" height="24.21" fill="#a9c681"/>
<rect x="1675.05" y="1260.86" width="24.21" height="24.21" fill="#92b492"/>
<rect x="1698.96" y="1260.86" width="24.21" height="24.21" fill="#87ab9a"/>
<rect x="1722.87" y="1260.86" width="24.21" height="24.21" fill="#a0bf88"/>
<rect x="1746.77" y="1260.86" width="24.21" height="24.21" fill="#a9c681"/>
<rect x="1770.68" y="1260.86" width="48.11" height="24.21" fill="#92b492"/>
<rect x="1818.49" y="1260.86" width="24.21" height="24.21" fill="#a9c681"/>
<rect x="1842.39" y="1260.86" width="24.21" height="24.21" fill="#92b492"/>
<rect x="169.00" y="1284.77" width="95.92" height="24.21" fill="#739ca9"/>
<rect x="264.62" y="1284.77" width="48.11" height="24.21" fill="#9bbb8b"/>
<rect x="312.43" y="1284.77" width="24.21" height="24.21" fill="#87ab9a"/>
<rect x="336.34" y="1284.77" width="24.21" height="24.21" fill="#9bbb8b"/>
<rect x="360.25" y="1284.77" width="24.21" height="24.21" fill="#a5c384"/>
<rect x="384.15" y="1284.77" width="48.11" height="24.21" fill="#87ab9a"/>
<rect x="431.96" y="1284.77" width="24.21" height="24.21" fill="#a5c384"/>
<rect x="455.87" y="1284.77" width="24.21" height="24.21" fill="#a6c383"/>
<rect x="479.77" y="1284.77" width="24.21" height="24.21" fill="#88ac99"/>
<rect x="503.68" y="1284.77" width="24.21" height="24.21" fill="#92b492"/>
<rect x="527.58" y="1284.77" width="24.21" height="24.21" fill="#b0cb7c"/>
<rect x="551.49" y="1284.77" width="24.21" height="24.21" fill="#92b492"/>
<rect x="575.40" y="1284.77" width="24.21" height="24.21" fill="#9cbb8b"/>
<rect x="599.30" y="1284.77" width="24.21" height="24.21" fill="#ff7604"/>
<rect x="623.21" y="1284.77" width="72.02" height="24.21" fill="#ff0000"/>
<rect x="694.92" y="1284.77" width="24.21" height="24.21" fill="#ff9408"/>
<rect x="718.83" y="1284.77" width="48.11" height="24.21" fill="#ff7604"/>
<rect x="766.64" y="1284.77" width="24.21" height="24.21" fill="#a4c185"/>
<rect x="790.55" y="1284.77" width="24.21" height="24.21" fill="#98b88e"/>
<rect x="814.45" y="1284.77" width="24.21" height="24.21" fill="#a4c185"/>
<rect x="838.36" y="1284.77" width="24.21" height="24.21" fill="#8eb095"/>
<rect x="862.26" y="1284.77" width="48.11" height="24.21" fill="#83a89d"/>
<rect x="910.07" y="1284.77" width="24.21" height="24.21" fill="#7aa1a3"/>
<rect x="933.98" y="1284.77" width="48.11" height="24.21" fill="#719aaa"/>
<rect x="981.79" y="1284.77" width="24.21" height="24.21" fill="#5e8bb8"/>
<rect x="1005.70" y="1284.77" width="478.41" height="24.21" fill="#0000ff"/>
<rect x="1483.81" y="1284.77" width="24.21" height="24.21" fill="#6490b4"/>
<rect x="1507.72" y="1284.77" width="48.11" height="24.21" fill="#5a88bb"/>
<rect x="1555.53" y="1284.77" width="24.21" height="24.21" fill="#759da7"/>
<rect x="1579.43" y="1284.77" width="24.21" height="24.21" fill="#7ca3a2"/>
<rect x="1603.34" y="1284.77" width="24.21" height="24.21" fill="#759da7"/>
<rect x="1627.24" y="1284.77" width="24.21" height="24.21" fill="#7ca3a2"/>
<rect x="1651.15" y="1284.77" width="48.11" height="24.21" fill="#a0bf88"/>
<rect x="1698.96" y="1284.77" width="24.21" height="24.21" fill="#87ab9a"/>
<rect x="1722.87" y="1284.77" width="24.21" height="24.21" fill="#92b492"/>
<rect x="1746.77" y="1284.77" width="24.21" height="24.21" fill="#ff9408"/>
<rect x="1770.68" y="1284.77" width="24.21" height="24.21" fill="#92b492"/>
<rect x="1794.58" y="1284.77" width="24.21" height="24.21" fill="#87ab9a"/>
<rect x="1818.49" y="1284.77" width="48.11" height="24.21" fill="#a9c681"/>
<rect x="169.00" y="1308.68" width="24.21" height="24.21" fill="#0000ff"/>
<rect x="192.91" y="1308.68" width="24.21" height="24.21" fill="#739ca9"/>
<rect x="216.81" y="1308.68" width="48.11" height="24.21" fill="#0000ff"/>
<rect x="264.62" y="1308.68" width="48.11" height="24.21" fill="#87ab9a"/>
<rect x="312.43" y="1308.68" width="24.21" height="24.21" fill="#6994b0"/>
<rect x="336.34" y="1308.68" width="24.21" height="24.21" fill="#7da3a1"/>
<rect x="360.25" y="1308.68" width="24.21" height="24.21" fill="#9bbb8b"/>
<rect x="384.15" y="1308.68" width="48.11" height="24.21" fill="#7da3a1"/>
<rect x="431.96" y="1308.68" width="24.21" height="24.21" fill="#9bbb8b"/>
<rect x="455.87" y="1308.68" width="24.21" height="24.21" fill="#9cbb8b"/>
<rect x="479.77" y="1308.68" width="24.21" height="24.21" fill="#7ea4a1"/>
<rect x="503.68" y="1308.68" width="24.21" height="24.21" fill="#88ac99"/>
<rect x="527.58" y="1308.68" width="24.21" height="24.21" fill="#a6c383"/>
<rect x="551.49" y="1308.68" width="24.21" height="24.21" fill="#9cbb8b"/>
<rect x="575.40" y="1308.68" width="24.21" height="24.21" fill="#a6c383"/>
<rect x="599.30" y="1308.68" width="72.02" height="24.21" fill="#ff0000"/>
<rect x="671.02" y="1308.68" width="24.21" height="24.21" fill="#ff9408"/>
<rect x="694.92" y="1308.68" width="48.11" height="24.21" fill="#ff7604"/>
<rect x="742.74" y="1308.68" width="24.21" height="24.21" fill="#a4c185"/>
<rect x="766.64" y="1308.68" width="48.11" height="24.21" fill="#98b88e"/>
<rect x="814.45" y="1308.68" width="24.21" height="24.21" fill="#8eb095"/>
<rect x="838.36" y="1308.68" width="48.11" height="24.21" fill="#83a89d"/>
<rect x="886.17" y="1308.68" width="24.21" height="24.21" fill="#7aa1a3"/>
<rect x="910.07" y="1308.68" width="24.21" height="24.21" fill="#719aaa"/>
<rect x="933.98" y="1308.68" width="48.11" height="24.21" fill="#6893b1"/>
<rect x="981.79" y="1308.68" width="502.32" height="24.21" fill="#0000ff"/>
<rect x="1483.81" y="1308.68" width="24.21" height="24.21" fill="#5a88bb"/>
<rect x="1507.72" y="1308.68" width="24.21" height="24.21" fill="#6490b4"/>
<rect x="1531.62" y="1308.68" width="24.21" height="24.21" fill="#6d97ad"/>
<rect x="1555.53" y="1308.68" width="72.02" height="24.21" fill="#7ca3a2"/>
<rect x="1627.24" y="1308.68" width="24.21" height="24.21" fill="#87ab9a"/>
<rect x="1651.15" y="1308.68" width="48.11" height="24.21" fill="#a0bf88"/>
<rect x="1698.96" y="1308.68" width="24.21" height="24.21" fill="#92b492"/>
<rect x="1722.87" y="1308.68" width="24.21" height="24.21" fill="#a9c681"/>
<rect x="1746.77" y="1308.68" width="24.21" height="24.21" fill="#ff5000"/>
<rect x="1770.68" y="1308.68" width="24.21" height="24.21" fill="#ff9408"/>
<rect x="1794.58" y="1308.68" width="24.21" height="24.21" fill="#a9c681"/>
<rect x="1818.49" y="1308.68" width="48.11" height="24.21" fill="#ff5000"/>
<rect x="169.00" y="1332.59" width="24.21" height="24.21" fill="#6994b0"/>
<rect x="192.91" y="1332.59" width="72.02" height="24.21" fill="#739ca9"/>
<rect x="264.62" y="1332.59" width="24.21" height="24.21" fill="#87ab9a"/>
<rect x="288.53" y="1332.59" width="24.21" height="24.21" fill="#91b393"/>
<rect x="312.43" y="1332.59" width="24.21" height="24.21" fill="#87ab9a"/>
<rect x="336.34" y="1332.59" width="24.21" height="24.21" fill="#9bbb8b"/>
<rect x="360.25" y="1332.59" width="24.21" height="24.21" fill="#a5c384"/>
<rect x="384.15" y="1332.59" width="24.21" height="24.21" fill="#9bbb8b"/>
<rect x="408.06" y="1332.59" width="24.21" height="24.21" fill="#91b393"/>
<rect x="431.96" y="1332.59" width="48.11" height="24.21" fill="#ff9408"/>
<rect x="479.77" y="1332.59" width="24.21" height="24.21" fill="#9cbb8b"/>
<rect x="503.68" y="1332.59" width="24.21" height="24.21" fill="#b0cb7c"/>
<rect x="527.58" y="1332.59" width="24.21" height="24.21" fill="#ff5000"/>
<rect x="551.49" y="1332.59" width="24.21" height="24.21" fill="#ff9408"/>
<rect x="575.40" y="1332.59" width="72.02" height="24.21" fill="#ff0000"/>
<rect x="647.11" y="1332.59" width="24.21" height="24.21" fill="#ff7604"/>
<rect x="671.02" y="1332.59" width="24.21" height="24.21" fill="#ff5000"/>
<rect x="694.92" y="1332.59" width="24.21" height="24.21" fill="#ff9408"/>
<rect x="718.83" y="1332.59" width="24.21" height="24.21" fill="#b0cb7c"/>
<rect x="742.74" y="1332.59" width="24.21" height="24.21" fill="#adc97e"/>
<rect x="766.64" y="1332.59" width="24.21" height="24.21" fill="#a4c185"/>
<rect x="790.55" y="1332.59" width="72.02" height="24.21" fill="#8eb095"/>
<rect x="862.26" y="1332.59" width="24.21" height="24.21" fill="#7aa1a3"/>
<rect x="886.17" y="1332.59" width="24.21" height="24.21" fill="#719aaa"/>
<rect x="910.07" y="1332.59" width="48.11" height="24.21" fill="#6893b1"/>
<rect x="957.89" y="1332.59" width="526.22" height="24.21" fill="#0000ff"/>
<rect x="1483.81" y="1332.59" width="24.21" height="24.21" fill="#5a88bb"/>
<rect x="1507.72" y="1332.59" width="24.21" height="24.21" fill="#0000ff"/>
<rect x="1531.62" y="1332.59" width="24.21" height="24.21" fill="#5a88bb"/>
<rect x="1555.53" y="1332.59" width="48.11" height="24.21" fill="#7ca3a2"/>
<rect x="1603.34" y="1332.59" width="24.21" height="24.21" fill="#759da7"/>
<rect x="1627.24" y="1332.59" width="24.21" height="24.21" fill="#7ca3a2"/>
<rect x="1651.15" y="1332.59" width="24.21" height="24.21" fill="#a0bf88"/>
<rect x="1675.05" y="1332.59" width="48.11" height="24.21" fill="#87ab9a"/>
<rect x="1722.87" y="1332.59" width="24.21" height="24.21" fill="#a0bf88"/>
<rect x="1746.77" y="1332.59" width="24.21" height="24.21" fill="#a9c681"/>
<rect x="1770.68" y="1332.59" width="48.11" height="24.21" fill="#92b492"/>
<rect x="1818.49" y="1332.59" width="24.21" height="24.21" fill="#ff9408"/>
<rect x="1842.39" y="1332.59" width="24.21" height="24.21" fill="#a9c681"/>
<rect x="169.00" y="1356.50" width="95.92" height="24.21" fill="#0000ff"/>
<rect x="264.62" y="1356.50" width="24.21" height="24.21" fill="#6994b0"/>
<rect x="288.53" y="1356.50" width="24.21" height="24.21" fill="#739ca9"/>
<rect x="312.43" y="1356.50" width="24.21" height="24.21" fill="#6994b0"/>
<rect x="336.34" y="1356.50" width="24.21" height="24.21" fill="#739ca9"/>
<rect x="360.25" y="1356.50" width="48.11" height="24.21" fill="#87ab9a"/>
<rect x="408.06" y="1356.50" width="24.21" height="24.21" fill="#7da3a1"/>
<rect x="431.96" y="1356.50" width="24.21" height="24.21" fill="#9bbb8b"/>
<rect x="455.87" y="1356.50" width="24.21" height="24.21" fill="#a6c383"/>
<rect x="479.77" y="1356.50" width="48.11" height="24.21" fill="#9cbb8b"/>
<rect x="527.58" y="1356.50" width="24.21" height="24.21" fill="#ff9408"/>
<rect x="551.49" y="1356.50" width="72.02" height="24.21" fill="#ff0000"/>
<rect x="623.21" y="1356.50" width="95.92" height="24.21" fill="#a6c383"/>
<rect x="718.83" y="1356.50" width="24.21" height="24.21" fill="#9cbb8b"/>
<rect x="742.74" y="1356.50" width="48.11" height="24.21" fill="#83a89d"/>
<rect x="790.55" y="1356.50" width="24.21" height="24.21" fill="#7aa1a3"/>
<rect x="814.45" y="1356.50" width="24.21" height="24.21" fill="#719aaa"/>
<rect x="838.36" y="1356.50" width="48.11" height="24.21" fill="#6893b1"/>
<rect x="886.17" y="1356.50" width="669.66" height="24.21" fill="#0000ff"/>
<rect x="1555.53" y="1356.50" width="24.21" height="24.21" fill="#6d97ad"/>
<rect x="1579.43" y="1356.50" width="48.11" height="24.21" fill="#6490b4"/>
<rect x="1627.24" y="1356.50" width="24.21" height="24.21" fill="#7ca3a2"/>
<rect x="1651.15" y="1356.50" width="24.21" height="24.21" fill="#92b492"/>
<rect x="1675.05" y="1356.50" width="24.21" height="24.21" fill="#7ca3a2"/>
<rect x="1698.96" y="1356.50" width="24.21" height="24.21" fill="#87ab9a"/>
<rect x="1722.87" y="1356.50" width="72.02" height="24.21" fill="#a0bf88"/>
<rect x="1794.58" y="1356.50" width="24.21" height="24.21" fill="#a9c681"/>
<rect x="1818.49" y="1356.50" width="24.21" height="24.21" fill="#ff7604"/>
<rect x="1842.39" y="1356.50" width="24.21" height="24.21" fill="#a9c681"/>
<rect x="169.00" y="1380.41" width="48.11" height="24.21" fill="#0000ff"/>
<rect x="216.81" y="1380.41" width="48.11" height="24.21" fill="#5f8cb7"/>
<rect x="264.62" y="1380.41" width="24.21" height="24.21" fill="#739ca9"/>
<rect x="288.53" y="1380.41" width="48.11" height="24.21" fill="#7da3a1"/>
<rect x="336.34" y="1380.41" width="24.21" height="24.21" fill="#87ab9a"/>
<rect x="360.25" y="1380.41" width="24.21" height="24.21" fill="#91b393"/>
<rect x="384.15" y="1380.41" width="48.11" height="24.21" fill="#9bbb8b"/>
<rect x="431.96" y="1380.41" width="24.21" height="24.21" fill="#a5c384"/>
<rect x="455.87" y="1380.41" width="24.21" height="24.21" fill="#ff7604"/>
<rect x="479.77" y="1380.41" width="24.21" height="24.21" fill="#ff9408"/>
<rect x="503.68" y="1380.41" width="24.21" height="24.21" fill="#b0cb7c"/>
<rect x="527.58" y="1380.41" width="72.02" height="24.21" fill="#ff0000"/>
<rect x="599.30" y="1380.41" width="24.21" height="24.21" fill="#ff9408"/>
<rect x="623.21" y="1380.41" width="24.21" height="24.21" fill="#9cbb8b"/>
<rect x="647.11" y="1380.41" width="24.21" height="24.21" fill="#92b492"/>
<rect x="671.02" y="1380.41" width="48.11" height="24.21" fill="#a6c383"/>
<rect x="718.83" y="1380.41" width="24.21" height="24.21" fill="#92b492"/>
<rect x="742.74" y="1380.41" width="24.21" height="24.21" fill="#83a89d"/>
<rect x="766.64" y="1380.41" width="24.21" height="24.21" fill="#8eb095"/>
<rect x="790.55" y="1380.41" width="24.21" height="24.21" fill="#83a89d"/>
<rect x="814.45" y="1380.41" width="72.02" height="24.21" fill="#719aaa"/>
<rect x="886.17" y="1380.41" width="669.66" height="24.21" fill="#0000ff"/>
<rect x="1555.53" y="1380.41" width="24.21" height="24.21" fill="#759da7"/>
<rect x="1579.43" y="1380.41" width="48.11" height="24.21" fill="#6490b4"/>
<rect x="1627.24" y="1380.41" width="24.21" height="24.21" fill="#7ca3a2"/>
<rect x="1651.15" y="1380.41" width="24.21" height="24.21" fill="#a0bf88"/>
<rect x="1675.05" y="1380.41" width="48.11" height="24.21" fill="#7ca3a2"/>
<rect x="1722.87" y="1380.41" width="24.21" height="24.21" fill="#a0bf88"/>
<rect x="1746.77" y="1380.41" width="24.21" height="24.21" fill="#92b492"/>
<rect x="1770.68" y="1380.41" width="24.21" height="24.21" fill="#7ca3a2"/>
<rect x="1794.58" y="1380.41" width="24.21" height="24.21" fill="#92b492"/>
<rect x="1818.49" y="1380.41" width="24.21" height="24.21" fill="#a9c681"/>
<rect x="1842.39" y="1380.41" width="24.21" height="24.21" fill="#87ab9a"/>
<rect x="169.00" y="1404.31" width="24.21" height="24.21" fill="#0000ff"/>
<rect x="192.91" y="1404.31" width="48.11" height="24.21" fill="#5f8cb7"/>
<rect x="240.72" y="1404.31" width="24.21" height="24.21" fill="#6994b0"/>
<rect x="264.62" y="1404.31" width="72.02" height="24.21" fill="#7da3a1"/>
<rect x="336.34" y="1404.31" width="24.21" height="24.21" fill="#91b393"/>
<rect x="360.25" y="1404.31" width="48.11" height="24.21" fill="#9bbb8b"/>
<rect x="408.06" y="1404.31" width="24.21" height="24.21" fill="#a5c384"/>
<rect x="431.96" y="1404.31" width="48.11" height="24.21" fill="#ff9408"/>
<rect x="479.77" y="1404.31" width="24.21" height="24.21" fill="#b0cb7c"/>
<rect x="503.68" y="1404.31" width="72.02" height="24.21" fill="#ff0000"/>
<rect x="575.40" y="1404.31" width="24.21" height="24.21" fill="#ff9408"/>
<rect x="599.30" y="1404.31" width="24.21" height="24.21" fill="#ff5000"/>
<rect x="623.21" y="1404.31" width="24.21" height="24.21" fill="#a6c383"/>
<rect x="647.11" y="1404.31" width="24.21" height="24.21" fill="#b0cb7c"/>
<rect x="671.02" y="1404.31" width="24.21" height="24.21" fill="#ff9408"/>
<rect x="694.92" y="1404.31" width="48.11" height="24.21" fill="#9cbb8b"/>
<rect x="742.74" y="1404.31" width="24.21" height="24.21" fill="#98b88e"/>
<rect x="766.64" y="1404.31" width="24.21" height="24.21" fill="#8eb095"/>
<rect x="790.55" y="1404.31" width="24.21" height="24.21" fill="#83a89d"/>
<rect x="814.45" y="1404.31" width="48.11" height="24.21" fill="#7aa1a3"/>
<rect x="862.26" y="1404.31" width="24.21" height="24.21" fill="#6893b1"/>
<rect x="886.17" y="1404.31" width="24.21" height="24.21" fill="#5e8bb8"/>
<rect x="910.07" y="1404.31" width="645.75" height="24.21" fill="#0000ff"/>
<rect x="1555.53" y="1404.31" width="24.21" height="24.21" fill="#6d97ad"/>
<rect x="1579.43" y="1404.31" width="24.21" height="24.21" fill="#6490b4"/>
<rect x="1603.34" y="1404.31" width="24.21" height="24.21" fill="#0000ff"/>
<rect x="1627.24" y="1404.31" width="24.21" height="24.21" fill="#6d97ad"/>
<rect x="1651.15" y="1404.31" width="24.21" height="24.21" fill="#92b492"/>
<rect x="1675.05" y="1404.31" width="24.21" height="24.21" fill="#7ca3a2"/>
<rect x="1698.96" y="1404.31" width="24.21" height="24.21" fill="#6d97ad"/>
<rect x="1722.87" y="1404.31" width="48.11" height="24.21" fill="#92b492"/>
<rect x="1770.68" y="1404.31" width="48.11" height="24.21" fill="#7ca3a2"/>
<rect x="1818.49" y="1404.31" width="24.21" height="24.21" fill="#a9c681"/>
<rect x="1842.39" y="1404.31" width="24.21" height="24.21" fill="#92b492"/>
<rect x="169.00" y="1428.22" width="48.11" height="24.21" fill="#5f8cb7"/>
<rect x="216.81" y="1428.22" width="24.21" height="24.21" fill="#6994b0"/>
<rect x="240.72" y="1428.22" width="24.21" height="24.21" fill="#739ca9"/>
<rect x="264.62" y="1428.22" width="24.21" height="24.21" fill="#7da3a1"/>
<rect x="288.53" y="1428.22" width="48.11" height="24.21" fill="#87ab9a"/>
<rect x="336.34" y="1428.22" width="48.11" height="24.21" fill="#9bbb8b"/>
<rect x="384.15" y="1428.22" width="24.21" height="24.21" fill="#a5c384"/>
<rect x="408.06" y="1428.22" width="24.21" height="24.21" fill="#ff9408"/>
<rect x="431.96" y="1428.22" width="24.21" height="24.21" fill="#ff7604"/>
<rect x="455.87" y="1428.22" width="24.21" height="24.21" fill="#ff9408"/>
<rect x="479.77" y="1428.22" width="72.02" height="24.21" fill="#ff0000"/>
<rect x="551.49" y="1428.22" width="24.21" height="24.21" fill="#b0cb7c"/>
<rect x="575.40" y="1428.22" width="24.21" height="24.21" fill="#9cbb8b"/>
<rect x="599.30" y="1428.22" width="24.21" height="24.21" fill="#b0cb7c"/>
<rect x="623.21" y="1428.22" width="24.21" height="24.21" fill="#92b492"/>
<rect x="647.11" y="1428.22" width="24.21" height="24.21" fill="#9cbb8b"/>
<rect x="671.02" y="1428.22" width="24.21" height="24.21" fill="#a6c383"/>
<rect x="694.92" y="1428.22" width="48.11" height="24.21" fill="#88ac99"/>
<rect x="742.74" y="1428.22" width="48.11" height="24.21" fill="#83a89d"/>
<rect x="790.55" y="1428.22" width="24.21" height="24.21" fill="#719aaa"/>
<rect x="814.45" y="1428.22" width="24.21" height="24.21" fill="#6893b1"/>
<rect x="838.36" y="1428.22" width="24.21" height="24.21" fill="#719aaa"/>
<rect x="862.26" y="1428.22" width="24.21" height="24.21" fill="#5e8bb8"/>
<rect x="886.17" y="1428.22" width="669.66" height="24.21" fill="#0000ff"/>
<rect x="1555.53" y="1428.22" width="24.21" height="24.21" fill="#5a88bb"/>
<rect x="1579.43" y="1428.22" width="48.11" height="24.21" fill="#0000ff"/>
<rect x="1627.24" y="1428.22" width="24.21" height="24.21" fill="#6490b4"/>
<rect x="1651.15" y="1428.22" width="24.21" height="24.21" fill="#759da7"/>
<rect x="1675.05" y="1428.22" width="24.21" height="24.21" fill="#5a88bb"/>
<rect x="1698.96" y="1428.22" width="24.21" height="24.21" fill="#0000ff"/>
<rect x="1722.87" y="1428.22" width="24.21" height="24.21" fill="#7ca3a2"/>
<rect x="1746.77" y="1428.22" width="24.21" height="24.21" fill="#759da7"/>
<rect x="1770.68" y="1428.22" width="24.21" height="24.21" fill="#5a88bb"/>
<rect x="1794.58" y="1428.22" width="24.21" height="24.21" fill="#6490b4"/>
<rect x="1818.49" y="1428.22" width="24.21" height="24.21" fill="#7ca3a2"/>
<rect x="1842.39" y="1428.22" width="24.21" height="24.21" fill="#759da7"/>
<rect x="169.00" y="1452.13" width="24.21" height="24.21" fill="#6994b0"/>
<rect x="192.91" y="1452.13" width="24.21" height="24.21" fill="#739ca9"/>
<rect x="216.81" y="1452.13" width="24.21" height="24.21" fill="#7da3a1"/>
<rect x="240.72" y="1452.13" width="48.11" height="24.21" fill="#87ab9a"/>
<rect x="288.53" y="1452.13" width="95.92" height="24.21" fill="#9bbb8b"/>
<rect x="384.15" y="1452.13" width="24.21" height="24.21" fill="#ff9408"/>
<rect x="408.06" y="1452.13" width="24.21" height="24.21" fill="#ff7604"/>
<rect x="431.96" y="1452.13" width="24.21" height="24.21" fill="#ff9408"/>
<rect x="455.87" y="1452.13" width="72.02" height="24.21" fill="#ff0000"/>
<rect x="527.58" y="1452.13" width="24.21" height="24.21" fill="#b0cb7c"/>
<rect x="551.49" y="1452.13" width="24.21" height="24.21" fill="#ff9408"/>
<rect x="575.40" y="1452.13" width="48.11" height="24.21" fill="#9cbb8b"/>
<rect x="623.21" y="1452.13" width="24.21" height="24.21" fill="#7ea4a1"/>
<rect x="647.11" y="1452.13" width="24.21" height="24.21" fill="#92b492"/>
<rect x="671.02" y="1452.13" width="24.21" height="24.21" fill="#a6c383"/>
<rect x="694.92" y="1452.13" width="24.21" height="24.21" fill="#9cbb8b"/>
<rect x="718.83" y="1452.13" width="24.21" height="24.21" fill="#7ea4a1"/>
<rect x="742.74" y="1452.13" width="48.11" height="24.21" fill="#8eb095"/>
<rect x="790.55" y="1452.13" width="24.21" height="24.21" fill="#7aa1a3"/>
<rect x="814.45" y="1452.13" width="24.21" height="24.21" fill="#719aaa"/>
<rect x="838.36" y="1452.13" width="24.21" height="24.21" fill="#7aa1a3"/>
<rect x="862.26" y="1452.13" width="24.21" height="24.21" fill="#719aaa"/>
<rect x="886.17" y="1452.13" width="669.66" height="24.21" fill="#0000ff"/>
<rect x="1555.53" y="1452.13" width="24.21" height="24.21" fill="#7ca3a2"/>
<rect x="1579.43" y="1452.13" width="24.21" height="24.21" fill="#6490b4"/>
<rect x="1603.34" y="1452.13" width="24.21" height="24.21" fill="#0000ff"/>
<rect x="1627.24" y="1452.13" width="24.21" height="24.21" fill="#6d97ad"/>
<rect x="1651.15" y="1452.13" width="24.21" height="24.21" fill="#7ca3a2"/>
<rect x="1675.05" y="1452.13" width="48.11" height="24.21" fill="#6490b4"/>
<rect x="1722.87" y="1452.13" width="24.21" height="24.21" fill="#7ca3a2"/>
<rect x="1746.77" y="1452.13" width="24.21" height="24.21" fill="#759da7"/>
<rect x="1770.68" y="1452.13" width="24.21" height="24.21" fill="#5a88bb"/>
<rect x="1794.58" y="1452.13" width="24.21" height="24.21" fill="#6d97ad"/>
<rect x="1818.49" y="1452.13" width="24.21" height="24.21" fill="#7ca3a2"/>
<rect x="1842.39" y="1452.13" width="24.21" height="24.21" fill="#6d97ad"/>
<rect x="169.00" y="1476.04" width="24.21" height="24.21" fill="#739ca9"/>
<rect x="192.91" y="1476.04" width="72.02" height="24.21" fill="#87ab9a"/>
<rect x="264.62" y="1476.04" width="24.21" height="24.21" fill="#9bbb8b"/>
<rect x="288.53" y="1476.04" width="24.21" height="24.21" fill="#a5c384"/>
<rect x="312.43" y="1476.04" width="24.21" height="24.21" fill="#9bbb8b"/>
<rect x="336.34" y="1476.04" width="24.21" height="24.21" fill="#a5c384"/>
<rect x="360.25" y="1476.04" width="48.11" height="24.21" fill="#ff7604"/>
<rect x="408.06" y="1476.04" width="24.21" height="24.21" fill="#ff9408"/>
<rect x="431.96" y="1476.04" width="72.02" height="24.21" fill="#ff0000"/>
<rect x="503.68" y="1476.04" width="48.11" height="24.21" fill="#ff9408"/>
<rect x="551.49" y="1476.04" width="24.21" height="24.21" fill="#ff7604"/>
<rect x="575.40" y="1476.04" width="24.21" height="24.21" fill="#a6c383"/>
<rect x="599.30" y="1476.04" width="24.21" height="24.21" fill="#ff9408"/>
<rect x="623.21" y="1476.04" width="48.11" height="24.21" fill="#a6c383"/>
<rect x="671.02" y="1476.04" width="24.21" height="24.21" fill="#ff7604"/>
<rect x="694.92" y="1476.04" width="24.21" height="24.21" fill="#ff9408"/>
<rect x="718.83" y="1476.04" width="24.21" height="24.21" fill="#a6c383"/>
<rect x="742.74" y="1476.04" width="24.21" height="24.21" fill="#a4c185"/>
<rect x="766.64" y="1476.04" width="24.21" height="24.21" fill="#adc97e"/>
<rect x="790.55" y="1476.04" width="24.21" height="24.21" fill="#98b88e"/>
<rect x="814.45" y="1476.04" width="24.21" height="24.21" fill="#8eb095"/>
<rect x="838.36" y="1476.04" width="24.21" height="24.21" fill="#98b88e"/>
<rect x="862.26" y="1476.04" width="24.21" height="24.21" fill="#8eb095"/>
<rect x="886.17" y="1476.04" width="24.21" height="24.21" fill="#7aa1a3"/>
<rect x="910.07" y="1476.04" width="48.11" height="24.21" fill="#719aaa"/>
<rect x="957.89" y="1476.04" width="24.21" height="24.21" fill="#6893b1"/>
<rect x="981.79" y="1476.04" width="478.41" height="24.21" fill="#0000ff"/>
<rect x="1459.90" y="1476.04" width="24.21" height="24.21" fill="#6d97ad"/>
<rect x="1483.81" y="1476.04" width="24.21" height="24.21" fill="#759da7"/>
<rect x="1507.72" y="1476.04" width="24.21" height="24.21" fill="#6490b4"/>
<rect x="1531.62" y="1476.04" width="24.21" height="24.21" fill="#6d97ad"/>
<rect x="1555.53" y="1476.04" width="24.21" height="24.21" fill="#92b492"/>
<rect x="1579.43" y="1476.04" width="24.21" height="24.21" fill="#87ab9a"/>
<rect x="1603.34" y="1476.04" width="24.21" height="24.21" fill="#7ca3a2"/>
<rect x="1627.24" y="1476.04" width="24.21" height="24.21" fill="#92b492"/>
<rect x="1651.15" y="1476.04" width="24.21" height="24.21" fill="#a9c681"/>
<rect x="1675.05" y="1476.04" width="24.21" height="24.21" fill="#92b492"/>
<rect x="1698.96" y="1476.04" width="24.21" height="24.21" fill="#87ab9a"/>
<rect x="1722.87" y="1476.04" width="24.21" height="24.21" fill="#a9c681"/>
<rect x="1746.77" y="1476.04" width="24.21" height="24.21" fill="#a0bf88"/>
<rect x="1770.68" y="1476.04" width="24.21" height="24.21" fill="#7ca3a2"/>
<rect x="1794.58" y="1476.04" width="24.21" height="24.21" fill="#92b492"/>
<rect x="1818.49" y="1476.04" width="24.21" height="24.21" fill="#a9c681"/>
<rect x="1842.39" y="1476.04" width="24.21" height="24.21" fill="#a0bf88"/>
<rect x="169.00" y="1499.95" width="72.02" height="24.21" fill="#7ea4a1"/>
<rect x="240.72" y="1499.95" width="24.21" height="24.21" fill="#92b492"/>
<rect x="264.62" y="1499.95" width="48.11" height="24.21" fill="#9cbb8b"/>
<rect x="312.43" y="1499.95" width="24.21" height="24.21" fill="#a6c383"/>
<rect x="336.34" y="1499.95" width="24.21" height="24.21" fill="#ff9408"/>
<rect x="360.25" y="1499.95" width="24.21" height="24.21" fill="#ff7604"/>
<rect x="384.15" y="1499.95" width="24.21" height="24.21" fill="#ff9408"/>
<rect x="408.06" y="1499.95" width="72.02" height="24.21" fill="#ff0000"/>
<rect x="479.77" y="1499.95" width="24.21" height="24.21" fill="#ff9408"/>
<rect x="503.68" y="1499.95" width="24.21" height="24.21" fill="#ff7604"/>
<rect x="527.58" y="1499.95" width="24.21" height="24.21" fill="#ff9408"/>
<rect x="551.49" y="1499.95" width="24.21" height="24.21" fill="#a5c384"/>
<rect x="575.40" y="1499.95" width="24.21" height="24.21" fill="#9bbb8b"/>
<rect x="599.30" y="1499.95" width="24.21" height="24.21" fill="#ff9408"/>
<rect x="623.21" y="1499.95" width="24.21" height="24.21" fill="#9bbb8b"/>
<rect x="647.11" y="1499.95" width="24.21" height="24.21" fill="#a5c384"/>
<rect x="671.02" y="1499.95" width="24.21" height="24.21" fill="#ff7604"/>
<rect x="694.92" y="1499.95" width="48.11" height="24.21" fill="#9bbb8b"/>
<rect x="742.74" y="1499.95" width="24.21" height="24.21" fill="#acc87f"/>
<rect x="766.64" y="1499.95" width="24.21" height="24.21" fill="#a3c186"/>
<rect x="790.55" y="1499.95" width="24.21" height="24.21" fill="#97b88e"/>
<rect x="814.45" y="1499.95" width="24.21" height="24.21" fill="#8caf96"/>
<rect x="838.36" y="1499.95" width="24.21" height="24.21" fill="#97b88e"/>
<rect x="862.26" y="1499.95" width="24.21" height="24.21" fill="#82a79e"/>
<rect x="886.17" y="1499.95" width="24.21" height="24.21" fill="#709aab"/>
<rect x="910.07" y="1499.95" width="24.21" height="24.21" fill="#7aa1a4"/>
<rect x="933.98" y="1499.95" width="24.21" height="24.21" fill="#709aab"/>
<rect x="957.89" y="1499.95" width="526.22" height="24.21" fill="#0000ff"/>
<rect x="1483.81" y="1499.95" width="24.21" height="24.21" fill="#5a88bb"/>
<rect x="1507.72" y="1499.95" width="48.11" height="24.21" fill="#0000ff"/>
<rect x="1555.53" y="1499.95" width="24.21" height="24.21" fill="#759da7"/>
<rect x="1579.43" y="1499.95" width="24.21" height="24.21" fill="#6d97ad"/>
<rect x="1603.34" y="1499.95" width="24.21" height="24.21" fill="#5a88bb"/>
<rect x="1627.24" y="1499.95" width="24.21" height="24.21" fill="#759da7"/>
<rect x="1651.15" y="1499.95" width="24.21" height="24.21" fill="#92b492"/>
<rect x="1675.05" y="1499.95" width="24.21" height="24.21" fill="#7ca3a2"/>
<rect x="1698.96" y="1499.95" width="24.21" height="24.21" fill="#6d97ad"/>
<rect x="1722.87" y="1499.95" width="24.21" height="24.21" fill="#87ab9a"/>
<rect x="1746.77" y="1499.95" width="24.21" height="24.21" fill="#92b492"/>
<rect x="1770.68" y="1499.95" width="48.11" height="24.21" fill="#759da7"/>
<rect x="1818.49" y="1499.95" width="24.21" height="24.21" fill="#92b492"/>
<rect x="1842.39" y="1499.95" width="24.21" height="24.21" fill="#87ab9a"/>
<rect x="169.00" y="1523.86" width="48.11" height="24.21" fill="#7ea4a1"/>
<rect x="216.81" y="1523.86" width="24.21" height="24.21" fill="#92b492"/>
<rect x="240.72" y="1523.86" width="48.11" height="24.21" fill="#9cbb8b"/>
<rect x="288.53" y="1523.86" width="24.21" height="24.21" fill="#a6c383"/>
<rect x="312.43" y="1523.86" width="24.21" height="24.21" fill="#ff9408"/>
<rect x="336.34" y="1523.86" width="24.21" height="24.21" fill="#ff7604"/>
<rect x="360.25" y="1523.86" width="24.21" height="24.21" fill="#ff9408"/>
<rect x="384.15" y="1523.86" width="72.02" height="24.21" fill="#ff0000"/>
<rect x="455.87" y="1523.86" width="24.21" height="24.21" fill="#ff9408"/>
<rect x="479.77" y="1523.86" width="24.21" height="24.21" fill="#ff7604"/>
<rect x="503.68" y="1523.86" width="24.21" height="24.21" fill="#ff9408"/>
<rect x="527.58" y="1523.86" width="24.21" height="24.21" fill="#a5c384"/>
<rect x="551.49" y="1523.86" width="24.21" height="24.21" fill="#9bbb8b"/>
<rect x="575.40" y="1523.86" width="24.21" height="24.21" fill="#7da3a1"/>
<rect x="599.30" y="1523.86" width="24.21" height="24.21" fill="#91b393"/>
<rect x="623.21" y="1523.86" width="24.21" height="24.21" fill="#7da3a1"/>
<rect x="647.11" y="1523.86" width="24.21" height="24.21" fill="#87ab9a"/>
<rect x="671.02" y="1523.86" width="24.21" height="24.21" fill="#a5c384"/>
<rect x="694.92" y="1523.86" width="24.21" height="24.21" fill="#87ab9a"/>
<rect x="718.83" y="1523.86" width="24.21" height="24.21" fill="#7da3a1"/>
<rect x="742.74" y="1523.86" width="24.21" height="24.21" fill="#8caf96"/>
<rect x="766.64" y="1523.86" width="24.21" height="24.21" fill="#97b88e"/>
<rect x="790.55" y="1523.86" width="24.21" height="24.21" fill="#7aa1a4"/>
<rect x="814.45" y="1523.86" width="24.21" height="24.21" fill="#709aab"/>
<rect x="838.36" y="1523.86" width="24.21" height="24.21" fill="#82a79e"/>
<rect x="862.26" y="1523.86" width="24.21" height="24.21" fill="#7aa1a4"/>
<rect x="886.17" y="1523.86" width="24.21" height="24.21" fill="#6792b2"/>
<rect x="910.07" y="1523.86" width="48.11" height="24.21" fill="#709aab"/>
<rect x="957.89" y="1523.86" width="526.22" height="24.21" fill="#0000ff"/>
<rect x="1483.81" y="1523.86" width="24.21" height="24.21" fill="#5a88bb"/>
<rect x="1507.72" y="1523.86" width="48.11" height="24.21" fill="#0000ff"/>
<rect x="1555.53" y="1523.86" width="24.21" height="24.21" fill="#759da7"/>
<rect x="1579.43" y="1523.86" width="24.21" height="24.21" fill="#6490b4"/>
<rect x="1603.34" y="1523.86" width="24.21" height="24.21" fill="#0000ff"/>
<rect x="1627.24" y="1523.86" width="24.21" height="24.21" fill="#6d97ad"/>
<rect x="1651.15" y="1523.86" width="24.21" height="24.21" fill="#7ca3a2"/>
<rect x="1675.05" y="1523.86" width="24.21" height="24.21" fill="#6490b4"/>
<rect x="1698.96" y="1523.86" width="24.21" height="24.21" fill="#0000ff"/>
<rect x="1722.87" y="1523.86" width="48.11" height="24.21" fill="#759da7"/>
<rect x="1770.68" y="1523.86" width="24.21" height="24.21" fill="#0000ff"/>
<rect x="1794.58" y="1523.86" width="24.21" height="24.21" fill="#5a88bb"/>
<rect x="1818.49" y="1523.86" width="24.21" height="24.21" fill="#759da7"/>
<rect x="1842.39" y="1523.86" width="24.21" height="24.21" fill="#5a88bb"/>
<rect x="169.00" y="1547.77" width="24.21" height="24.21" fill="#92b492"/>
<rect x="192.91" y="1547.77" width="72.02" height="24.21" fill="#9cbb8b"/>
<rect x="264.62" y="1547.77" width="24.21" height="24.21" fill="#a6c383"/>
<rect x="288.53" y="1547.77" width="48.11" height="24.21" fill="#ff7604"/>
<rect x="336.34" y="1547.77" width="24.21" height="24.21" fill="#ff9408"/>
<rect x="360.25" y="1547.77" width="72.02" height="24.21" fill="#ff0000"/>
<rect x="431.96" y="1547.77" width="24.21" height="24.21" fill="#ff9408"/>
<rect x="455.87" y="1547.77" width="24.21" height="24.21" fill="#ff7604"/>
<rect x="479.77" y="1547.77" width="24.21" height="24.21" fill="#ff9408"/>
<rect x="503.68" y="1547.77" width="24.21" height="24.21" fill="#a5c384"/>
<rect x="527.58" y="1547.77" width="48.11" height="24.21" fill="#9bbb8b"/>
<rect x="575.40" y="1547.77" width="24.21" height="24.21" fill="#87ab9a"/>
<rect x="599.30" y="1547.77" width="24.21" height="24.21" fill="#9bbb8b"/>
<rect x="623.21" y="1547.77" width="24.21" height="24.21" fill="#7da3a1"/>
<rect x="647.11" y="1547.77" width="24.21" height="24.21" fill="#87ab9a"/>
<rect x="671.02" y="1547.77" width="24.21" height="24.21" fill="#afca7d"/>
<rect x="694.92" y="1547.77" width="24.21" height="24.21" fill="#9bbb8b"/>
<rect x="718.83" y="1547.77" width="24.21" height="24.21" fill="#87ab9a"/>
<rect x="742.74" y="1547.77" width="24.21" height="24.21" fill="#97b88e"/>
<rect x="766.64" y="1547.77" width="24.21" height="24.21" fill="#acc87f"/>
<rect x="790.55" y="1547.77" width="24.21" height="24.21" fill="#97b88e"/>
<rect x="814.45" y="1547.77" width="24.21" height="24.21" fill="#8caf96"/>
<rect x="838.36" y="1547.77" width="24.21" height="24.21" fill="#a3c186"/>
<rect x="862.26" y="1547.77" width="24.21" height="24.21" fill="#97b88e"/>
<rect x="886.17" y="1547.77" width="72.02" height="24.21" fill="#82a79e"/>
<rect x="957.89" y="1547.77" width="24.21" height="24.21" fill="#7aa1a4"/>
<rect x="981.79" y="1547.77" width="24.21" height="24.21" fill="#5d8ab9"/>
<rect x="1005.70" y="1547.77" width="24.21" height="24.21" fill="#6792b2"/>
<rect x="1029.60" y="1547.77" width="358.88" height="24.21" fill="#0000ff"/>
<rect x="1388.19" y="1547.77" width="24.21" height="24.21" fill="#6490b4"/>
<rect x="1412.09" y="1547.77" width="48.11" height="24.21" fill="#0000ff"/>
<rect x="1459.90" y="1547.77" width="48.11" height="24.21" fill="#7ca3a2"/>
<rect x="1507.72" y="1547.77" width="48.11" height="24.21" fill="#6d97ad"/>
<rect x="1555.53" y="1547.77" width="24.21" height="24.21" fill="#92b492"/>
<rect x="1579.43" y="1547.77" width="24.21" height="24.21" fill="#7ca3a2"/>
<rect x="1603.34" y="1547.77" width="24.21" height="24.21" fill="#6d97ad"/>
<rect x="1627.24" y="1547.77" width="24.21" height="24.21" fill="#87ab9a"/>
<rect x="1651.15" y="1547.77" width="24.21" height="24.21" fill="#a0bf88"/>
<rect x="1675.05" y="1547.77" width="48.11" height="24.21" fill="#7ca3a2"/>
<rect x="1722.87" y="1547.77" width="24.21" height="24.21" fill="#92b492"/>
<rect x="1746.77" y="1547.77" width="24.21" height="24.21" fill="#7ca3a2"/>
<rect x="1770.68" y="1547.77" width="24.21" height="24.21" fill="#6d97ad"/>
<rect x="1794.58" y="1547.77" width="24.21" height="24.21" fill="#759da7"/>
<rect x="1818.49" y="1547.77" width="24.21" height="24.21" fill="#87ab9a"/>
<rect x="1842.39" y="1547.77" width="24.21" height="24.21" fill="#6d97ad"/>
<rect x="169.00" y="1571.67" width="24.21" height="24.21" fill="#92b492"/>
<rect x="192.91" y="1571.67" width="24.21" height="24.21" fill="#a6c383"/>
<rect x="216.81" y="1571.67" width="24.21" height="24.21" fill="#9cbb8b"/>
<rect x="240.72" y="1571.67" width="24.21" height="24.21" fill="#a6c383"/>
<rect x="264.62" y="1571.67" width="48.11" height="24.21" fill="#ff7604"/>
<rect x="312.43" y="1571.67" width="24.21" height="24.21" fill="#ff9408"/>
<rect x="336.34" y="1571.67" width="72.02" height="24.21" fill="#ff0000"/>
<rect x="408.06" y="1571.67" width="24.21" height="24.21" fill="#ff9408"/>
<rect x="431.96" y="1571.67" width="48.11" height="24.21" fill="#ff7604"/>
<rect x="479.77" y="1571.67" width="72.02" height="24.21" fill="#9bbb8b"/>
<rect x="551.49" y="1571.67" width="24.21" height="24.21" fill="#91b393"/>
<rect x="575.40" y="1571.67" width="24.21" height="24.21" fill="#87ab9a"/>
<rect x="599.30" y="1571.67" width="24.21" height="24.21" fill="#a5c384"/>
<rect x="623.21" y="1571.67" width="24.21" height="24.21" fill="#9bbb8b"/>
<rect x="647.11" y="1571.67" width="24.21" height="24.21" fill="#a5c384"/>
<rect x="671.02" y="1571.67" width="24.21" height="24.21" fill="#ff7604"/>
<rect x="694.92" y="1571.67" width="24.21" height="24.21" fill="#afca7d"/>
<rect x="718.83" y="1571.67" width="24.21" height="24.21" fill="#a5c384"/>
<rect x="742.74" y="1571.67" width="48.11" height="24.21" fill="#ff7604"/>
<rect x="790.55" y="1571.67" width="24.21" height="24.21" fill="#acc87f"/>
<rect x="814.45" y="1571.67" width="24.21" height="24.21" fill="#a3c186"/>
<rect x="838.36" y="1571.67" width="24.21" height="24.21" fill="#ff9408"/>
<rect x="862.26" y="1571.67" width="24.21" height="24.21" fill="#a3c186"/>
<rect x="886.17" y="1571.67" width="72.02" height="24.21" fill="#97b88e"/>
<rect x="957.89" y="1571.67" width="24.21" height="24.21" fill="#82a79e"/>
<rect x="981.79" y="1571.67" width="48.11" height="24.21" fill="#709aab"/>
<rect x="1029.60" y="1571.67" width="24.21" height="24.21" fill="#7aa1a4"/>
<rect x="1053.51" y="1571.67" width="334.98" height="24.21" fill="#0000ff"/>
<rect x="1388.19" y="1571.67" width="24.21" height="24.21" fill="#6490b4"/>
<rect x="1412.09" y="1571.67" width="24.21" height="24.21" fill="#5a88bb"/>
<rect x="1436.00" y="1571.67" width="24.21" height="24.21" fill="#0000ff"/>
<rect x="1459.90" y="1571.67" width="24.21" height="24.21" fill="#759da7"/>
<rect x="1483.81" y="1571.67" width="24.21" height="24.21" fill="#87ab9a"/>
<rect x="1507.72" y="1571.67" width="24.21" height="24.21" fill="#759da7"/>
<rect x="1531.62" y="1571.67" width="24.21" height="24.21" fill="#7ca3a2"/>
<rect x="1555.53" y="1571.67" width="48.11" height="24.21" fill="#92b492"/>
<rect x="1603.34" y="1571.67" width="24.21" height="24.21" fill="#7ca3a2"/>
<rect x="1627.24" y="1571.67" width="24.21" height="24.21" fill="#92b492"/>
<rect x="1651.15" y="1571.67" width="24.21" height="24.21" fill="#a9c681"/>
<rect x="1675.05" y="1571.67" width="24.21" height="24.21" fill="#92b492"/>
<rect x="1698.96" y="1571.67" width="24.21" height="24.21" fill="#87ab9a"/>
<rect x="1722.87" y="1571.67" width="24.21" height="24.21" fill="#92b492"/>
<rect x="1746.77" y="1571.67" width="24.21" height="24.21" fill="#a0bf88"/>
<rect x="1770.68" y="1571.67" width="48.11" height="24.21" fill="#87ab9a"/>
<rect x="1818.49" y="1571.67" width="24.21" height="24.21" fill="#92b492"/>
<rect x="1842.39" y="1571.67" width="24.21" height="24.21" fill="#87ab9a"/>
<rect x="169.00" y="1595.58" width="24.21" height="24.21" fill="#a6c383"/>
<rect x="192.91" y="1595.58" width="24.21" height="24.21" fill="#9cbb8b"/>
<rect x="216.81" y="1595.58" width="24.21" height="24.21" fill="#a6c383"/>
<rect x="240.72" y="1595.58" width="24.21" height="24.21" fill="#ff9408"/>
<rect x="264.62" y="1595.58" width="24.21" height="24.21" fill="#ff7604"/>
<rect x="288.53" y="1595.58" width="24.21" height="24.21" fill="#ff9408"/>
<rect x="312.43" y="1595.58" width="72.02" height="24.21" fill="#ff0000"/>
<rect x="384.15" y="1595.58" width="24.21" height="24.21" fill="#ff9408"/>
<rect x="408.06" y="1595.58" width="24.21" height="24.21" fill="#ff7604"/>
<rect x="431.96" y="1595.58" width="24.21" height="24.21" fill="#ff9408"/>
<rect x="455.87" y="1595.58" width="24.21" height="24.21" fill="#a5c384"/>
<rect x="479.77" y="1595.58" width="48.11" height="24.21" fill="#9bbb8b"/>
<rect x="527.58" y="1595.58" width="24.21" height="24.21" fill="#91b393"/>
<rect x="551.49" y="1595.58" width="24.21" height="24.21" fill="#87ab9a"/>
<rect x="575.40" y="1595.58" width="24.21" height="24.21" fill="#739ca9"/>
<rect x="599.30" y="1595.58" width="24.21" height="24.21" fill="#9bbb8b"/>
<rect x="623.21" y="1595.58" width="24.21" height="24.21" fill="#7da3a1"/>
<rect x="647.11" y="1595.58" width="24.21" height="24.21" fill="#9bbb8b"/>
<rect x="671.02" y="1595.58" width="24.21" height="24.21" fill="#a5c384"/>
<rect x="694.92" y="1595.58" width="48.11" height="24.21" fill="#87ab9a"/>
<rect x="742.74" y="1595.58" width="48.11" height="24.21" fill="#a3c186"/>
<rect x="790.55" y="1595.58" width="24.21" height="24.21" fill="#82a79e"/>
<rect x="814.45" y="1595.58" width="24.21" height="24.21" fill="#97b88e"/>
<rect x="838.36" y="1595.58" width="24.21" height="24.21" fill="#a3c186"/>
<rect x="862.26" y="1595.58" width="24.21" height="24.21" fill="#82a79e"/>
<rect x="886.17" y="1595.58" width="24.21" height="24.21" fill="#709aab"/>
<rect x="910.07" y="1595.58" width="24.21" height="24.21" fill="#8caf96"/>
<rect x="933.98" y="1595.58" width="24.21" height="24.21" fill="#7aa1a4"/>
<rect x="957.89" y="1595.58" width="48.11" height="24.21" fill="#6792b2"/>
<rect x="1005.70" y="1595.58" width="24.21" height="24.21" fill="#709aab"/>
<rect x="1029.60" y="1595.58" width="430.60" height="24.21" fill="#0000ff"/>
<rect x="1459.90" y="1595.58" width="24.21" height="24.21" fill="#5a88bb"/>
<rect x="1483.81" y="1595.58" width="24.21" height="24.21" fill="#759da7"/>
<rect x="1507.72" y="1595.58" width="48.11" height="24.21" fill="#0000ff"/>
<rect x="1555.53" y="1595.58" width="48.11" height="24.21" fill="#759da7"/>
<rect x="1603.34" y="1595.58" width="24.21" height="24.21" fill="#5a88bb"/>
<rect x="1627.24" y="1595.58" width="24.21" height="24.21" fill="#6d97ad"/>
<rect x="1651.15" y="1595.58" width="24.21" height="24.21" fill="#87ab9a"/>
<rect x="1675.05" y="1595.58" width="24.21" height="24.21" fill="#6d97ad"/>
<rect x="1698.96" y="1595.58" width="24.21" height="24.21" fill="#5a88bb"/>
<rect x="1722.87" y="1595.58" width="48.11" height="24.21" fill="#759da7"/>
<rect x="1770.68" y="1595.58" width="48.11" height="24.21" fill="#0000ff"/>
<rect x="1818.49" y="1595.58" width="24.21" height="24.21" fill="#759da7"/>
<rect x="1842.39" y="1595.58" width="24.21" height="24.21" fill="#5a88bb"/>
<rect x="169.00" y="1619.49" width="48.11" height="24.21" fill="#a6c383"/>
<rect x="216.81" y="1619.49" width="24.21" height="24.21" fill="#ff9408"/>
<rect x="240.72" y="1619.49" width="24.21" height="24.21" fill="#ff7604"/>
<rect x="264.62" y="1619.49" width="24.21" height="24.21" fill="#ff9408"/>
<rect x="288.53" y="1619.49" width="72.02" height="24.21" fill="#ff0000"/>
<rect x="360.25" y="1619.49" width="24.21" height="24.21" fill="#ff9408"/>
<rect x="384.15" y="1619.49" width="24.21" height="24.21" fill="#ff7604"/>
<rect x="408.06" y="1619.49" width="24.21" height="24.21" fill="#ff9408"/>
<rect x="431.96" y="1619.49" width="24.21" height="24.21" fill="#a6c383"/>
<rect x="455.87" y="1619.49" width="48.11" height="24.21" fill="#9bbb8b"/>
<rect x="503.68" y="1619.49" width="24.21" height="24.21" fill="#87ab9a"/>
<rect x="527.58" y="1619.49" width="48.11" height="24.21" fill="#7da3a1"/>
<rect x="575.40" y="1619.49" width="24.21" height="24.21" fill="#6994b0"/>
<rect x="599.30" y="1619.49" width="24.21" height="24.21" fill="#87ab9a"/>
<rect x="623.21" y="1619.49" width="24.21" height="24.21" fill="#6994b0"/>
<rect x="647.11" y="1619.49" width="24.21" height="24.21" fill="#87ab9a"/>
<rect x="671.02" y="1619.49" width="24.21" height="24.21" fill="#9bbb8b"/>
<rect x="694.92" y="1619.49" width="24.21" height="24.21" fill="#7da3a1"/>
<rect x="718.83" y="1619.49" width="24.21" height="24.21" fill="#739ca9"/>
<rect x="742.74" y="1619.49" width="24.21" height="24.21" fill="#8caf96"/>
<rect x="766.64" y="1619.49" width="24.21" height="24.21" fill="#97b88e"/>
<rect x="790.55" y="1619.49" width="24.21" height="24.21" fill="#82a79e"/>
<rect x="814.45" y="1619.49" width="24.21" height="24.21" fill="#709aab"/>
<rect x="838.36" y="1619.49" width="24.21" height="24.21" fill="#a3c186"/>
<rect x="862.26" y="1619.49" width="24.21" height="24.21" fill="#82a79e"/>
<rect x="886.17" y="1619.49" width="24.21" height="24.21" fill="#709aab"/>
<rect x="910.07" y="1619.49" width="24.21" height="24.21" fill="#7aa1a4"/>
<rect x="933.98" y="1619.49" width="24.21" height="24.21" fill="#8caf96"/>
<rect x="957.89" y="1619.49" width="24.21" height="24.21" fill="#709aab"/>
<rect x="981.79" y="1619.49" width="24.21" height="24.21" fill="#6792b2"/>
<rect x="1005.70" y="1619.49" width="48.11" height="24.21" fill="#709aab"/>
<rect x="1053.51" y="1619.49" width="334.98" height="24.21" fill="#0000ff"/>
<rect x="1388.19" y="1619.49" width="24.21" height="24.21" fill="#6d97ad"/>
<rect x="1412.09" y="1619.49" width="48.11" height="24.21" fill="#0000ff"/>
<rect x="1459.90" y="1619.49" width="24.21" height="24.21" fill="#759da7"/>
<rect x="1483.81" y="1619.49" width="24.21" height="24.21" fill="#7ca3a2"/>
<rect x="1507.72" y="1619.49" width="24.21" height="24.21" fill="#5a88bb"/>
<rect x="1531.62" y="1619.49" width="24.21" height="24.21" fill="#6490b4"/>
<rect x="1555.53" y="1619.49" width="24.21" height="24.21" fill="#87ab9a"/>
<rect x="1579.43" y="1619.49" width="24.21" height="24.21" fill="#759da7"/>
<rect x="1603.34" y="1619.49" width="24.21" height="24.21" fill="#5a88bb"/>
<rect x="1627.24" y="1619.49" width="24.21" height="24.21" fill="#759da7"/>
<rect x="1651.15" y="1619.49" width="24.21" height="24.21" fill="#87ab9a"/>
<rect x="1675.05" y="1619.49" width="24.21" height="24.21" fill="#6490b4"/>
<rect x="1698.96" y="1619.49" width="24.21" height="24.21" fill="#0000ff"/>
<rect x="1722.87" y="1619.49" width="48.11" height="24.21" fill="#6d97ad"/>
<rect x="1770.68" y="1619.49" width="48.11" height="24.21" fill="#0000ff"/>
<rect x="1818.49" y="1619.49" width="24.21" height="24.21" fill="#6490b4"/>
<rect x="1842.39" y="1619.49" width="24.21" height="24.21" fill="#0000ff"/>
<rect x="169.00" y="1643.40" width="24.21" height="24.21" fill="#a6c383"/>
<rect x="192.91" y="1643.40" width="48.11" height="24.21" fill="#ff7604"/>
<rect x="240.72" y="1643.40" width="24.21" height="24.21" fill="#ff9408"/>
<rect x="264.62" y="1643.40" width="72.02" height="24.21" fill="#ff0000"/>
<rect x="336.34" y="1643.40" width="24.21" height="24.21" fill="#ff9408"/>
<rect x="360.25" y="1643.40" width="48.11" height="24.21" fill="#ff7604"/>
<rect x="408.06" y="1643.40" width="24.21" height="24.21" fill="#a6c383"/>
<rect x="431.96" y="1643.40" width="24.21" height="24.21" fill="#9cbb8b"/>
<rect x="455.87" y="1643.40" width="24.21" height="24.21" fill="#a5c384"/>
<rect x="479.77" y="1643.40" width="24.21" height="24.21" fill="#9bbb8b"/>
<rect x="503.68" y="1643.40" width="24.21" height="24.21" fill="#87ab9a"/>
<rect x="527.58" y="1643.40" width="48.11" height="24.21" fill="#7da3a1"/>
<rect x="575.40" y="1643.40" width="24.21" height="24.21" fill="#739ca9"/>
<rect x="599.30" y="1643.40" width="24.21" height="24.21" fill="#91b393"/>
<rect x="623.21" y="1643.40" width="24.21" height="24.21" fill="#87ab9a"/>
<rect x="647.11" y="1643.40" width="24.21" height="24.21" fill="#9bbb8b"/>
<rect x="671.02" y="1643.40" width="48.11" height="24.21" fill="#a5c384"/>
<rect x="718.83" y="1643.40" width="24.21" height="24.21" fill="#9bbb8b"/>
<rect x="742.74" y="1643.40" width="24.21" height="24.21" fill="#acc87f"/>
<rect x="766.64" y="1643.40" width="24.21" height="24.21" fill="#ff7604"/>
<rect x="790.55" y="1643.40" width="24.21" height="24.21" fill="#acc87f"/>
<rect x="814.45" y="1643.40" width="24.21" height="24.21" fill="#97b88e"/>
<rect x="838.36" y="1643.40" width="24.21" height="24.21" fill="#ff7604"/>
<rect x="862.26" y="1643.40" width="24.21" height="24.21" fill="#acc87f"/>
<rect x="886.17" y="1643.40" width="48.11" height="24.21" fill="#97b88e"/>
<rect x="933.98" y="1643.40" width="24.21" height="24.21" fill="#a3c186"/>
<rect x="957.89" y="1643.40" width="24.21" height="24.21" fill="#97b88e"/>
<rect x="981.79" y="1643.40" width="24.21" height="24.21" fill="#82a79e"/>
<rect x="1005.70" y="1643.40" width="24.21" height="24.21" fill="#8caf96"/>
<rect x="1029.60" y="1643.40" width="24.21" height="24.21" fill="#82a79e"/>
<rect x="1053.51" y="1643.40" width="24.21" height="24.21" fill="#709aab"/>
<rect x="1077.41" y="1643.40" width="48.11" height="24.21" fill="#6792b2"/>
<rect x="1125.23" y="1643.40" width="95.92" height="24.21" fill="#0000ff"/>
<rect x="1220.85" y="1643.40" width="24.21" height="24.21" fill="#6792b2"/>
<rect x="1244.75" y="1643.40" width="48.11" height="24.21" fill="#0000ff"/>
<rect x="1292.56" y="1643.40" width="24.21" height="24.21" fill="#709aab"/>
<rect x="1316.47" y="1643.40" width="24.21" height="24.21" fill="#6d97ad"/>
<rect x="1340.38" y="1643.40" width="24.21" height="24.21" fill="#5a88bb"/>
<rect x="1364.28" y="1643.40" width="24.21" height="24.21" fill="#759da7"/>
<rect x="1388.19" y="1643.40" width="48.11" height="24.21" fill="#7ca3a2"/>
<rect x="1436.00" y="1643.40" width="24.21" height="24.21" fill="#6d97ad"/>
<rect x="1459.90" y="1643.40" width="24.21" height="24.21" fill="#87ab9a"/>
<rect x="1483.81" y="1643.40" width="24.21" height="24.21" fill="#a0bf88"/>
<rect x="1507.72" y="1643.40" width="48.11" height="24.21" fill="#87ab9a"/>
<rect x="1555.53" y="1643.40" width="24.21" height="24.21" fill="#a9c681"/>
<rect x="1579.43" y="1643.40" width="24.21" height="24.21" fill="#a0bf88"/>
<rect x="1603.34" y="1643.40" width="24.21" height="24.21" fill="#87ab9a"/>
<rect x="1627.24" y="1643.40" width="24.21" height="24.21" fill="#a0bf88"/>
<rect x="1651.15" y="1643.40" width="24.21" height="24.21" fill="#a9c681"/>
<rect x="1675.05" y="1643.40" width="24.21" height="24.21" fill="#92b492"/>
<rect x="1698.96" y="1643.40" width="24.21" height="24.21" fill="#7ca3a2"/>
<rect x="1722.87" y="1643.40" width="24.21" height="24.21" fill="#92b492"/>
<rect x="1746.77" y="1643.40" width="24.21" height="24.21" fill="#87ab9a"/>
<rect x="1770.68" y="1643.40" width="48.11" height="24.21" fill="#6d97ad"/>
<rect x="1818.49" y="1643.40" width="24.21" height="24.21" fill="#7ca3a2"/>
<rect x="1842.39" y="1643.40" width="24.21" height="24.21" fill="#6490b4"/>
<rect x="169.00" y="1667.31" width="48.11" height="24.21" fill="#ff7604"/>
<rect x="216.81" y="1667.31" width="24.21" height="24.21" fill="#ff9408"/>
<rect x="240.72" y="1667.31" width="72.02" height="24.21" fill="#ff0000"/>
<rect x="312.43" y="1667.31" width="24.21" height="24.21" fill="#ff9408"/>
<rect x="336.34" y="1667.31" width="48.11" height="24.21" fill="#ff7604"/>
<rect x="384.15" y="1667.31" width="24.21" height="24.21" fill="#a6c383"/>
<rect x="408.06" y="1667.31" width="48.11" height="24.21" fill="#9cbb8b"/>
<rect x="455.87" y="1667.31" width="24.21" height="24.21" fill="#9bbb8b"/>
<rect x="479.77" y="1667.31" width="24.21" height="24.21" fill="#87ab9a"/>
<rect x="503.68" y="1667.31" width="48.11" height="24.21" fill="#7da3a1"/>
<rect x="551.49" y="1667.31" width="24.21" height="24.21" fill="#739ca9"/>
<rect x="575.40" y="1667.31" width="24.21" height="24.21" fill="#6994b0"/>
<rect x="599.30" y="1667.31" width="48.11" height="24.21" fill="#87ab9a"/>
<rect x="647.11" y="1667.31" width="24.21" height="24.21" fill="#9bbb8b"/>
<rect x="671.02" y="1667.31" width="24.21" height="24.21" fill="#a5c384"/>
<rect x="694.92" y="1667.31" width="48.11" height="24.21" fill="#9bbb8b"/>
<rect x="742.74" y="1667.31" width="48.11" height="24.21" fill="#acc87f"/>
<rect x="790.55" y="1667.31" width="24.21" height="24.21" fill="#a3c186"/>
<rect x="814.45" y="1667.31" width="24.21" height="24.21" fill="#acc87f"/>
<rect x="838.36" y="1667.31" width="24.21" height="24.21" fill="#ff7604"/>
<rect x="862.26" y="1667.31" width="24.21" height="24.21" fill="#a3c186"/>
<rect x="886.17" y="1667.31" width="24.21" height="24.21" fill="#97b88e"/>
<rect x="910.07" y="1667.31" width="24.21" height="24.21" fill="#acc87f"/>
<rect x="933.98" y="1667.31" width="24.21" height="24.21" fill="#a3c186"/>
<rect x="957.89" y="1667.31" width="48.11" height="24.21" fill="#8caf96"/>
<rect x="1005.70" y="1667.31" width="24.21" height="24.21" fill="#97b88e"/>
<rect x="1029.60" y="1667.31" width="24.21" height="24.21" fill="#82a79e"/>
<rect x="1053.51" y="1667.31" width="72.02" height="24.21" fill="#709aab"/>
<rect x="1125.23" y="1667.31" width="191.55" height="24.21" fill="#0000ff"/>
<rect x="1316.47" y="1667.31" width="24.21" height="24.21" fill="#6490b4"/>
<rect x="1340.38" y="1667.31" width="48.11" height="24.21" fill="#0000ff"/>
<rect x="1388.19" y="1667.31" width="48.11" height="24.21" fill="#759da7"/>
<rect x="1436.00" y="1667.31" width="24.21" height="24.21" fill="#5a88bb"/>
<rect x="1459.90" y="1667.31" width="24.21" height="24.21" fill="#7ca3a2"/>
<rect x="1483.81" y="1667.31" width="24.21" height="24.21" fill="#87ab9a"/>
<rect x="1507.72" y="1667.31" width="48.11" height="24.21" fill="#6d97ad"/>
<rect x="1555.53" y="1667.31" width="48.11" height="24.21" fill="#a0bf88"/>
<rect x="1603.34" y="1667.31" width="24.21" height="24.21" fill="#759da7"/>
<rect x="1627.24" y="1667.31" width="24.21" height="24.21" fill="#7ca3a2"/>
<rect x="1651.15" y="1667.31" width="24.21" height="24.21" fill="#92b492"/>
<rect x="1675.05" y="1667.31" width="24.21" height="24.21" fill="#87ab9a"/>
<rect x="1698.96" y="1667.31" width="24.21" height="24.21" fill="#6d97ad"/>
<rect x="1722.87" y="1667.31" width="48.11" height="24.21" fill="#87ab9a"/>
<rect x="1770.68" y="1667.31" width="24.21" height="24.21" fill="#6490b4"/>
<rect x="1794.58" y="1667.31" width="24.21" height="24.21" fill="#0000ff"/>
<rect x="1818.49" y="1667.31" width="24.21" height="24.21" fill="#759da7"/>
<rect x="1842.39" y="1667.31" width="24.21" height="24.21" fill="#6490b4"/>
<rect x="169.00" y="1691.22" width="24.21" height="24.21" fill="#ff5000"/>
<rect x="192.91" y="1691.22" width="24.21" height="24.21" fill="#ff9408"/>
<rect x="216.81" y="1691.22" width="72.02" height="24.21" fill="#ff0000"/>
<rect x="288.53" y="1691.22" width="24.21" height="24.21" fill="#ff9408"/>
<rect x="312.43" y="1691.22" width="24.21" height="24.21" fill="#ff7604"/>
<rect x="336.34" y="1691.22" width="24.21" height="24.21" fill="#ff9408"/>
<rect x="360.25" y="1691.22" width="24.21" height="24.21" fill="#a6c383"/>
<rect x="384.15" y="1691.22" width="48.11" height="24.21" fill="#9cbb8b"/>
<rect x="431.96" y="1691.22" width="24.21" height="24.21" fill="#92b492"/>
<rect x="455.87" y="1691.22" width="48.11" height="24.21" fill="#87ab9a"/>
<rect x="503.68" y="1691.22" width="24.21" height="24.21" fill="#739ca9"/>
<rect x="527.58" y="1691.22" width="24.21" height="24.21" fill="#6994b0"/>
<rect x="551.49" y="1691.22" width="24.21" height="24.21" fill="#5f8cb7"/>
<rect x="575.40" y="1691.22" width="24.21" height="24.21" fill="#0000ff"/>
<rect x="599.30" y="1691.22" width="24.21" height="24.21" fill="#739ca9"/>
<rect x="623.21" y="1691.22" width="24.21" height="24.21" fill="#0000ff"/>
<rect x="647.11" y="1691.22" width="24.21" height="24.21" fill="#739ca9"/>
<rect x="671.02" y="1691.22" width="24.21" height="24.21" fill="#87ab9a"/>
<rect x="694.92" y="1691.22" width="48.11" height="24.21" fill="#739ca9"/>
<rect x="742.74" y="1691.22" width="48.11" height="24.21" fill="#8caf96"/>
<rect x="790.55" y="1691.22" width="24.21" height="24.21" fill="#7aa1a4"/>
<rect x="814.45" y="1691.22" width="24.21" height="24.21" fill="#82a79e"/>
<rect x="838.36" y="1691.22" width="24.21" height="24.21" fill="#a3c186"/>
<rect x="862.26" y="1691.22" width="24.21" height="24.21" fill="#82a79e"/>
<rect x="886.17" y="1691.22" width="24.21" height="24.21" fill="#709aab"/>
<rect x="910.07" y="1691.22" width="48.11" height="24.21" fill="#8caf96"/>
<rect x="957.89" y="1691.22" width="24.21" height="24.21" fill="#709aab"/>
<rect x="981.79" y="1691.22" width="24.21" height="24.21" fill="#6792b2"/>
<rect x="1005.70" y="1691.22" width="24.21" height="24.21" fill="#82a79e"/>
<rect x="1029.60" y="1691.22" width="24.21" height="24.21" fill="#709aab"/>
<rect x="1053.51" y="1691.22" width="24.21" height="24.21" fill="#5d8ab9"/>
<rect x="1077.41" y="1691.22" width="48.11" height="24.21" fill="#6792b2"/>
<rect x="1125.23" y="1691.22" width="263.26" height="24.21" fill="#0000ff"/>
<rect x="1388.19" y="1691.22" width="24.21" height="24.21" fill="#6d97ad"/>
<rect x="1412.09" y="1691.22" width="24.21" height="24.21" fill="#5a88bb"/>
<rect x="1436.00" y="1691.22" width="24.21" height="24.21" fill="#0000ff"/>
<rect x="1459.90" y="1691.22" width="24.21" height="24.21" fill="#6d97ad"/>
<rect x="1483.81" y="1691.22" width="24.21" height="24.21" fill="#759da7"/>
<rect x="1507.72" y="1691.22" width="24.21" height="24.21" fill="#5a88bb"/>
<rect x="1531.62" y="1691.22" width="24.21" height="24.21" fill="#0000ff"/>
<rect x="1555.53" y="1691.22" width="24.21" height="24.21" fill="#759da7"/>
<rect x="1579.43" y="1691.22" width="24.21" height="24.21" fill="#6d97ad"/>
<rect x="1603.34" y="1691.22" width="24.21" height="24.21" fill="#0000ff"/>
<rect x="1627.24" y="1691.22" width="24.21" height="24.21" fill="#6490b4"/>
<rect x="1651.15" y="1691.22" width="24.21" height="24.21" fill="#759da7"/>
<rect x="1675.05" y="1691.22" width="24.21" height="24.21" fill="#5a88bb"/>
<rect x="1698.96" y="1691.22" width="24.21" height="24.21" fill="#0000ff"/>
<rect x="1722.87" y="1691.22" width="48.11" height="24.21" fill="#5a88bb"/>
<rect x="1770.68" y="1691.22" width="95.92" height="24.21" fill="#0000ff"/>
<rect x="169.00" y="1715.12" width="24.21" height="24.21" fill="#ff9408"/>
<rect x="192.91" y="1715.12" width="72.02" height="24.21" fill="#ff0000"/>
<rect x="264.62" y="1715.12" width="24.21" height="24.21" fill="#ff9408"/>
<rect x="288.53" y="1715.12" width="24.21" height="24.21" fill="#ff7604"/>
<rect x="312.43" y="1715.12" width="24.21" height="24.21" fill="#ff9408"/>
<rect x="336.34" y="1715.12" width="24.21" height="24.21" fill="#a6c383"/>
<rect x="360.25" y="1715.12" width="48.11" height="24.21" fill="#9cbb8b"/>
<rect x="408.06" y="1715.12" width="24.21" height="24.21" fill="#92b492"/>
<rect x="431.96" y="1715.12" width="24.21" height="24.21" fill="#7ea4a1"/>
<rect x="455.87" y="1715.12" width="24.21" height="24.21" fill="#87ab9a"/>
<rect x="479.77" y="1715.12" width="24.21" height="24.21" fill="#7da3a1"/>
<rect x="503.68" y="1715.12" width="24.21" height="24.21" fill="#6994b0"/>
<rect x="527.58" y="1715.12" width="48.11" height="24.21" fill="#5f8cb7"/>
<rect x="575.40" y="1715.12" width="24.21" height="24.21" fill="#0000ff"/>
<rect x="599.30" y="1715.12" width="24.21" height="24.21" fill="#739ca9"/>
<rect x="623.21" y="1715.12" width="24.21" height="24.21" fill="#0000ff"/>
<rect x="647.11" y="1715.12" width="24.21" height="24.21" fill="#739ca9"/>
<rect x="671.02" y="1715.12" width="24.21" height="24.21" fill="#87ab9a"/>
<rect x="694.92" y="1715.12" width="24.21" height="24.21" fill="#7da3a1"/>
<rect x="718.83" y="1715.12" width="24.21" height="24.21" fill="#739ca9"/>
<rect x="742.74" y="1715.12" width="24.21" height="24.21" fill="#82a79e"/>
<rect x="766.64" y="1715.12" width="24.21" height="24.21" fill="#97b88e"/>
<rect x="790.55" y="1715.12" width="48.11" height="24.21" fill="#82a79e"/>
<rect x="838.36" y="1715.12" width="24.21" height="24.21" fill="#acc87f"/>
<rect x="862.26" y="1715.12" width="24.21" height="24.21" fill="#97b88e"/>
<rect x="886.17" y="1715.12" width="24.21" height="24.21" fill="#7aa1a4"/>
<rect x="910.07" y="1715.12" width="24.21" height="24.21" fill="#97b88e"/>
<rect x="933.98" y="1715.12" width="24.21" height="24.21" fill="#a3c186"/>
<rect x="957.89" y="1715.12" width="24.21" height="24.21" fill="#8caf96"/>
<rect x="981.79" y="1715.12" width="24.21" height="24.21" fill="#7aa1a4"/>
<rect x="1005.70" y="1715.12" width="24.21" height="24.21" fill="#97b88e"/>
<rect x="1029.60" y="1715.12" width="24.21" height="24.21" fill="#82a79e"/>
<rect x="1053.51" y="1715.12" width="48.11" height="24.21" fill="#709aab"/>
<rect x="1101.32" y="1715.12" width="24.21" height="24.21" fill="#7aa1a4"/>
<rect x="1125.23" y="1715.12" width="24.21" height="24.21" fill="#709aab"/>
<rect x="1149.13" y="1715.12" width="72.02" height="24.21" fill="#0000ff"/>
<rect x="1220.85" y="1715.12" width="24.21" height="24.21" fill="#709aab"/>
<rect x="1244.75" y="1715.12" width="48.11" height="24.21" fill="#0000ff"/>
<rect x="1292.56" y="1715.12" width="24.21" height="24.21" fill="#7aa1a4"/>
<rect x="1316.47" y="1715.12" width="24.21" height="24.21" fill="#6d97ad"/>
<rect x="1340.38" y="1715.12" width="24.21" height="24.21" fill="#5a88bb"/>
<rect x="1364.28" y="1715.12" width="24.21" height="24.21" fill="#6d97ad"/>
<rect x="1388.19" y="1715.12" width="24.21" height="24.21" fill="#87ab9a"/>
<rect x="1412.09" y="1715.12" width="24.21" height="24.21" fill="#7ca3a2"/>
<rect x="1436.00" y="1715.12" width="24.21" height="24.21" fill="#6d97ad"/>
<rect x="1459.90" y="1715.12" width="24.21" height="24.21" fill="#87ab9a"/>
<rect x="1483.81" y="1715.12" width="24.21" height="24.21" fill="#92b492"/>
<rect x="1507.72" y="1715.12" width="48.11" height="24.21" fill="#6d97ad"/>
<rect x="1555.53" y="1715.12" width="24.21" height="24.21" fill="#a0bf88"/>
<rect x="1579.43" y="1715.12" width="24.21" height="24.21" fill="#7ca3a2"/>
<rect x="1603.34" y="1715.12" width="24.21" height="24.21" fill="#6490b4"/>
<rect x="1627.24" y="1715.12" width="24.21" height="24.21" fill="#759da7"/>
<rect x="1651.15" y="1715.12" width="24.21" height="24.21" fill="#7ca3a2"/>
<rect x="1675.05" y="1715.12" width="24.21" height="24.21" fill="#6490b4"/>
<rect x="1698.96" y="1715.12" width="24.21" height="24.21" fill="#0000ff"/>
<rect x="1722.87" y="1715.12" width="48.11" height="24.21" fill="#6490b4"/>
<rect x="1770.68" y="1715.12" width="95.92" height="24.21" fill="#0000ff"/>
<rect x="169.00" y="1739.03" width="72.02" height="24.21" fill="#ff0000"/>
<rect x="240.72" y="1739.03" width="24.21" height="24.21" fill="#ff9408"/>
<rect x="264.62" y="1739.03" width="48.11" height="24.21" fill="#ff7604"/>
<rect x="312.43" y="1739.03" width="24.21" height="24.21" fill="#a6c383"/>
<rect x="336.34" y="1739.03" width="48.11" height="24.21" fill="#9cbb8b"/>
<rect x="384.15" y="1739.03" width="24.21" height="24.21" fill="#92b492"/>
<rect x="408.06" y="1739.03" width="48.11" height="24.21" fill="#7ea4a1"/>
<rect x="455.87" y="1739.03" width="24.21" height="24.21" fill="#87ab9a"/>
<rect x="479.77" y="1739.03" width="24.21" height="24.21" fill="#739ca9"/>
<rect x="503.68" y="1739.03" width="48.11" height="24.21" fill="#5f8cb7"/>
<rect x="551.49" y="1739.03" width="48.11" height="24.21" fill="#0000ff"/>
<rect x="599.30" y="1739.03" width="72.02" height="24.21" fill="#739ca9"/>
<rect x="671.02" y="1739.03" width="72.02" height="24.21" fill="#87ab9a"/>
<rect x="742.74" y="1739.03" width="95.92" height="24.21" fill="#a3c186"/>
<rect x="838.36" y="1739.03" width="24.21" height="24.21" fill="#ff7604"/>
<rect x="862.26" y="1739.03" width="24.21" height="24.21" fill="#acc87f"/>
<rect x="886.17" y="1739.03" width="24.21" height="24.21" fill="#a3c186"/>
<rect x="910.07" y="1739.03" width="48.11" height="24.21" fill="#ff7604"/>
<rect x="957.89" y="1739.03" width="48.11" height="24.21" fill="#a3c186"/>
<rect x="1005.70" y="1739.03" width="24.21" height="24.21" fill="#acc87f"/>
<rect x="1029.60" y="1739.03" width="24.21" height="24.21" fill="#a3c186"/>
<rect x="1053.51" y="1739.03" width="72.02" height="24.21" fill="#8caf96"/>
<rect x="1125.23" y="1739.03" width="24.21" height="24.21" fill="#82a79e"/>
<rect x="1149.13" y="1739.03" width="48.11" height="24.21" fill="#6792b2"/>
<rect x="1196.94" y="1739.03" width="24.21" height="24.21" fill="#0000ff"/>
<rect x="1220.85" y="1739.03" width="24.21" height="24.21" fill="#82a79e"/>
<rect x="1244.75" y="1739.03" width="24.21" height="24.21" fill="#0000ff"/>
<rect x="1268.66" y="1739.03" width="24.21" height="24.21" fill="#6792b2"/>
<rect x="1292.56" y="1739.03" width="24.21" height="24.21" fill="#82a79e"/>
<rect x="1316.47" y="1739.03" width="24.21" height="24.21" fill="#87ab9a"/>
<rect x="1340.38" y="1739.03" width="48.11" height="24.21" fill="#759da7"/>
<rect x="1388.19" y="1739.03" width="48.11" height="24.21" fill="#92b492"/>
<rect x="1436.00" y="1739.03" width="24.21" height="24.21" fill="#759da7"/>
<rect x="1459.90" y="1739.03" width="24.21" height="24.21" fill="#92b492"/>
<rect x="1483.81" y="1739.03" width="24.21" height="24.21" fill="#a9c681"/>
<rect x="1507.72" y="1739.03" width="24.21" height="24.21" fill="#92b492"/>
<rect x="1531.62" y="1739.03" width="24.21" height="24.21" fill="#7ca3a2"/>
<rect x="1555.53" y="1739.03" width="48.11" height="24.21" fill="#a0bf88"/>
<rect x="1603.34" y="1739.03" width="48.11" height="24.21" fill="#7ca3a2"/>
<rect x="1651.15" y="1739.03" width="24.21" height="24.21" fill="#92b492"/>
<rect x="1675.05" y="1739.03" width="24.21" height="24.21" fill="#87ab9a"/>
<rect x="1698.96" y="1739.03" width="48.11" height="24.21" fill="#6d97ad"/>
<rect x="1746.77" y="1739.03" width="24.21" height="24.21" fill="#7ca3a2"/>
<rect x="1770.68" y="1739.03" width="95.92" height="24.21" fill="#0000ff"/>
<rect x="169.00" y="1762.94" width="48.11" height="24.21" fill="#ff0000"/>
<rect x="216.81" y="1762.94" width="24.21" height="24.21" fill="#ff9408"/>
<rect x="240.72" y="1762.94" width="24.21" height="24.21" fill="#ff5000"/>
<rect x="264.62" y="1762.94" width="24.21" height="24.21" fill="#ff7604"/>
<rect x="288.53" y="1762.94" width="24.21" height="24.21" fill="#a6c383"/>
<rect x="312.43" y="1762.94" width="48.11" height="24.21" fill="#9cbb8b"/>
<rect x="360.25" y="1762.94" width="24.21" height="24.21" fill="#92b492"/>
<rect x="384.15" y="1762.94" width="24.21" height="24.21" fill="#88ac99"/>
<rect x="408.06" y="1762.94" width="48.11" height="24.21" fill="#7ea4a1"/>
<rect x="455.87" y="1762.94" width="24.21" height="24.21" fill="#739ca9"/>
<rect x="479.77" y="1762.94" width="24.21" height="24.21" fill="#6994b0"/>
<rect x="503.68" y="1762.94" width="24.21" height="24.21" fill="#5f8cb7"/>
<rect x="527.58" y="1762.94" width="72.02" height="24.21" fill="#0000ff"/>
<rect x="599.30" y="1762.94" width="24.21" height="24.21" fill="#6994b0"/>
<rect x="623.21" y="1762.94" width="24.21" height="24.21" fill="#0000ff"/>
<rect x="647.11" y="1762.94" width="24.21" height="24.21" fill="#739ca9"/>
<rect x="671.02" y="1762.94" width="24.21" height="24.21" fill="#7da3a1"/>
<rect x="694.92" y="1762.94" width="48.11" height="24.21" fill="#739ca9"/>
<rect x="742.74" y="1762.94" width="48.11" height="24.21" fill="#7aa1a4"/>
<rect x="790.55" y="1762.94" width="24.21" height="24.21" fill="#709aab"/>
<rect x="814.45" y="1762.94" width="24.21" height="24.21" fill="#7aa1a4"/>
<rect x="838.36" y="1762.94" width="24.21" height="24.21" fill="#a3c186"/>
<rect x="862.26" y="1762.94" width="24.21" height="24.21" fill="#7aa1a4"/>
<rect x="886.17" y="1762.94" width="24.21" height="24.21" fill="#709aab"/>
<rect x="910.07" y="1762.94" width="24.21" height="24.21" fill="#a3c186"/>
<rect x="933.98" y="1762.94" width="24.21" height="24.21" fill="#97b88e"/>
<rect x="957.89" y="1762.94" width="48.11" height="24.21" fill="#709aab"/>
<rect x="1005.70" y="1762.94" width="24.21" height="24.21" fill="#97b88e"/>
<rect x="1029.60" y="1762.94" width="24.21" height="24.21" fill="#7aa1a4"/>
<rect x="1053.51" y="1762.94" width="24.21" height="24.21" fill="#6792b2"/>
<rect x="1077.41" y="1762.94" width="48.11" height="24.21" fill="#7aa1a4"/>
<rect x="1125.23" y="1762.94" width="24.21" height="24.21" fill="#5d8ab9"/>
<rect x="1149.13" y="1762.94" width="72.02" height="24.21" fill="#0000ff"/>
<rect x="1220.85" y="1762.94" width="24.21" height="24.21" fill="#6792b2"/>
<rect x="1244.75" y="1762.94" width="72.02" height="24.21" fill="#0000ff"/>
<rect x="1316.47" y="1762.94" width="24.21" height="24.21" fill="#6d97ad"/>
<rect x="1340.38" y="1762.94" width="48.11" height="24.21" fill="#0000ff"/>
<rect x="1388.19" y="1762.94" width="24.21" height="24.21" fill="#759da7"/>
<rect x="1412.09" y="1762.94" width="24.21" height="24.21" fill="#6d97ad"/>
<rect x="1436.00" y="1762.94" width="24.21" height="24.21" fill="#0000ff"/>
<rect x="1459.90" y="1762.94" width="24.21" height="24.21" fill="#6d97ad"/>
<rect x="1483.81" y="1762.94" width="24.21" height="24.21" fill="#759da7"/>
<rect x="1507.72" y="1762.94" width="24.21" height="24.21" fill="#5a88bb"/>
<rect x="1531.62" y="1762.94" width="24.21" height="24.21" fill="#0000ff"/>
<rect x="1555.53" y="1762.94" width="48.11" height="24.21" fill="#759da7"/>
<rect x="1603.34" y="1762.94" width="24.21" height="24.21" fill="#0000ff"/>
<rect x="1627.24" y="1762.94" width="24.21" height="24.21" fill="#5a88bb"/>
<rect x="1651.15" y="1762.94" width="24.21" height="24.21" fill="#6d97ad"/>
<rect x="1675.05" y="1762.94" width="24.21" height="24.21" fill="#5a88bb"/>
<rect x="1698.96" y="1762.94" width="167.64" height="24.21" fill="#0000ff"/>
</g>
<rect x="169.00" y="89.35" width="1697.30" height="1697.50" fill="none" stroke="#000" stroke-width="5.70" stroke-linejoin="round"/>
<g stroke="#000" stroke-width="5.70" stroke-linecap="round">
<line x1="635.16" y1="1786.85" x2="635.16" y2="1792.25"/>
<line x1="635.16" y1="89.35" x2="635.16" y2="83.55"/>
<line x1="169.00" y1="1320.64" x2="163.00" y2="1320.64"/>
<line x1="1866.30" y1="1320.64" x2="1872.10" y2="1320.64"/>
<line x1="1113.27" y1="1786.85" x2="1113.27" y2="1792.25"/>
<line x1="1113.27" y1="89.35" x2="1113.27" y2="83.55"/>
<line x1="169.00" y1="842.47" x2="163.00" y2="842.47"/>
<line x1="1866.30" y1="842.47" x2="1872.10" y2="842.47"/>
<line x1="1591.39" y1="1786.85" x2="1591.39" y2="1792.25"/>
<line x1="1591.39" y1="89.35" x2="1591.39" y2="83.55"/>
<line x1="169.00" y1="364.30" x2="163.00" y2="364.30"/>
<line x1="1866.30" y1="364.30" x2="1872.10" y2="364.30"/>
</g>
<text transform="translate(635.16,1842.30) scale(0.957,1)" font-size="62.5" text-anchor="middle">20</text>
<text transform="translate(158.35,1342.34) scale(0.957,1)" font-size="62.5" text-anchor="end">20</text>
<text transform="translate(1113.27,1842.30) scale(0.957,1)" font-size="62.5" text-anchor="middle">40</text>
<text transform="translate(158.35,864.17) scale(0.957,1)" font-size="62.5" text-anchor="end">40</text>
<text transform="translate(1591.39,1842.30) scale(0.957,1)" font-size="62.5" text-anchor="middle">60</text>
<text transform="translate(158.35,386.00) scale(0.957,1)" font-size="62.5" text-anchor="end">60</text>
<text transform="translate(1017.90,1897.90) scale(0.957,1)" font-size="62.5" text-anchor="middle">Residue index</text>
<text transform="translate(80.10,938.10) rotate(-90) scale(0.957,1)" font-size="62.5" text-anchor="middle">Residue index</text>
<g shape-rendering="crispEdges">
<rect x="1889.10" y="1680.76" width="12.10" height="106.39" fill="#ff1b00"/>
<rect x="1889.10" y="1574.66" width="12.10" height="106.39" fill="#ff3900"/>
<rect x="1889.10" y="1468.57" width="12.10" height="106.39" fill="#ff5800"/>
<rect x="1889.10" y="1362.47" width="12.10" height="106.39" fill="#ff7600"/>
<rect x="1889.10" y="1256.38" width="12.10" height="106.39" fill="#ff9500"/>
<rect x="1889.10" y="1150.29" width="12.10" height="106.39" fill="#acc87f"/>
<rect x="1889.10" y="1044.19" width="12.10" height="106.39" fill="#a3c186"/>
<rect x="1889.10" y="938.10" width="12.10" height="106.39" fill="#9aba8c"/>
<rect x="1889.10" y="832.01" width="12.10" height="106.39" fill="#91b393"/>
<rect x="1889.10" y="725.91" width="12.10" height="106.39" fill="#88ac9a"/>
<rect x="1889.10" y="619.82" width="12.10" height="106.39" fill="#7fa5a0"/>
<rect x="1889.10" y="513.72" width="12.10" height="106.39" fill="#769ea7"/>
<rect x="1889.10" y="407.63" width="12.10" height="106.39" fill="#6d97ad"/>
<rect x="1889.10" y="301.54" width="12.10" height="106.39" fill="#6490b4"/>
<rect x="1889.10" y="195.44" width="12.10" height="106.39" fill="#5b89bb"/>
<rect x="1889.10" y="89.35" width="12.10" height="106.39" fill="#0000ff"/>
</g>
<rect x="1889.10" y="89.35" width="12.10" height="1697.50" fill="none" stroke="#000" stroke-width="5.70" stroke-linejoin="round"/>
<g stroke="#000" stroke-width="5.70" stroke-linecap="round">
<line x1="1901.20" y1="342.30" x2="1905.80" y2="342.30"/>
<line x1="1901.20" y1="714.35" x2="1905.80" y2="714.35"/>
<line x1="1901.20" y1="1086.40" x2="1905.80" y2="1086.40"/>
<line x1="1901.20" y1="1458.45" x2="1905.80" y2="1458.45"/>
</g>
<text transform="translate(1909.90,360.10) scale(0.957,1)" font-size="50.0" text-anchor="start">20</text>
<text transform="translate(1909.90,732.15) scale(0.957,1)" font-size="50.0" text-anchor="start">15</text>
<text transform="translate(1909.90,1104.20) scale(0.957,1)" font-size="50.0" text-anchor="start">10</text>
<text transform="translate(1909.90,1476.25) scale(0.957,1)" font-size="50.0" text-anchor="start">5</text>
</svg>
</body></html>
